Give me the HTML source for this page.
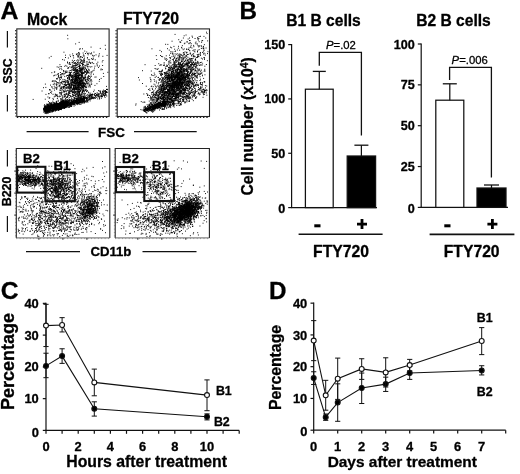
<!DOCTYPE html>
<html><head><meta charset="utf-8"><title>Figure</title>
<style>
html,body{margin:0;padding:0;background:#fff;}
body{width:520px;height:474px;overflow:hidden;}
svg{display:block;will-change:transform;filter:grayscale(1) blur(0.3px);}
svg text{font-family:"Liberation Sans",sans-serif;font-weight:bold;fill:#000;stroke:#000;stroke-width:0.3px;stroke-linejoin:round;}
</style></head><body>
<svg width="520" height="474" viewBox="0 0 520 474">
<rect width="520" height="474" fill="#fff"/>
<rect x="16.8" y="28.9" width="92.3" height="87.6" fill="none" stroke="#222" stroke-width="1.1"/><path d="M15.700000000000001 29.9V116.5" stroke="#222" stroke-width="1.2" stroke-dasharray="1.4 1.9" fill="none"/><path d="M16.8 117.5H109.1" stroke="#222" stroke-width="1.1" stroke-dasharray="1.4 1.9" fill="none"/><path d="M57.3 106.7h.9M64.5 104.0h.9M62.3 105.1h.9M48.6 109.7h.9M50.7 111.8h.9M64.0 105.1h.9M44.2 110.1h.9M63.4 103.1h.9M61.4 106.3h.9M54.9 106.5h.9M50.2 109.8h.9M51.6 108.1h.9M49.4 112.1h.9M52.8 103.0h.9M55.3 106.2h.9M56.4 108.4h.9M67.1 103.4h.9M61.4 103.6h.9M57.9 105.6h.9M66.1 101.4h.9M49.9 108.8h.9M58.4 108.5h.9M45.3 107.1h.9M44.6 107.7h.9M55.7 105.9h.9M54.6 109.2h.9M63.7 102.9h.9M58.8 104.7h.9M54.8 108.6h.9M55.9 108.7h.9M50.3 107.5h.9M44.1 107.2h.9M48.0 105.2h.9M59.3 104.3h.9M48.9 103.7h.9M52.9 109.2h.9M44.1 108.4h.9M63.0 105.9h.9M47.2 113.1h.9M50.3 110.8h.9M62.5 102.4h.9M56.0 108.6h.9M62.9 107.1h.9M58.1 104.5h.9M61.2 103.6h.9M46.5 109.0h.9M54.5 103.3h.9M55.5 109.9h.9M62.4 100.0h.9M52.9 105.3h.9M58.9 105.7h.9M45.0 109.0h.9M52.9 107.9h.9M51.2 108.5h.9M47.7 108.4h.9M62.5 107.3h.9M53.4 103.0h.9M65.0 104.1h.9M58.2 104.9h.9M57.0 106.5h.9M58.5 106.5h.9M59.8 104.0h.9M47.9 107.5h.9M53.4 108.9h.9M49.1 109.1h.9M52.9 106.0h.9M48.2 105.3h.9M59.3 106.5h.9M63.7 106.2h.9M59.1 106.4h.9M47.9 108.6h.9M63.0 103.8h.9M65.4 103.9h.9M64.3 103.5h.9M57.9 108.0h.9M46.2 108.1h.9M49.2 107.7h.9M64.3 102.1h.9M56.3 106.4h.9M47.6 106.8h.9M62.4 104.3h.9M58.1 108.2h.9M56.4 107.2h.9M52.9 108.6h.9M52.5 108.1h.9M50.4 108.5h.9M45.0 109.3h.9M63.2 104.1h.9M54.2 108.6h.9M55.9 104.3h.9M50.7 110.8h.9M60.4 105.5h.9M44.5 108.0h.9M52.4 106.5h.9M43.8 108.1h.9M46.7 109.5h.9M64.8 102.8h.9M58.8 108.3h.9M54.8 105.6h.9M56.2 102.0h.9M63.1 103.3h.9M50.9 103.4h.9M56.4 106.2h.9M58.3 107.9h.9M52.5 109.1h.9M55.2 103.9h.9M61.1 103.8h.9M63.7 108.0h.9M47.5 109.6h.9M65.4 104.4h.9M43.5 112.3h.9M61.5 107.6h.9M47.7 109.3h.9M52.9 108.1h.9M61.4 106.3h.9M43.4 108.4h.9M57.2 103.9h.9M61.9 105.3h.9M57.1 104.8h.9M59.6 105.4h.9M49.8 108.7h.9M51.6 105.8h.9M48.0 108.5h.9M51.8 107.4h.9M64.5 105.1h.9M58.0 108.6h.9M50.6 106.7h.9M50.5 106.4h.9M65.2 101.1h.9M53.7 105.2h.9M65.7 105.1h.9M56.2 106.9h.9M55.8 104.6h.9M64.1 103.9h.9M61.0 105.5h.9M55.8 107.4h.9M54.6 106.0h.9M64.8 104.2h.9M53.9 103.5h.9M65.0 102.2h.9M44.7 113.1h.9M53.7 102.6h.9M55.2 106.0h.9M64.6 104.7h.9M50.4 107.5h.9M61.4 103.5h.9M59.0 105.7h.9M58.8 105.6h.9M58.0 105.9h.9M65.5 100.6h.9M51.2 107.5h.9M52.6 105.6h.9M49.8 107.4h.9M44.4 110.1h.9M48.3 110.0h.9M63.7 106.2h.9M63.3 103.9h.9M47.8 111.2h.9M57.7 108.7h.9M54.4 109.4h.9M57.1 109.2h.9M59.4 105.6h.9M50.5 107.6h.9M66.1 105.8h.9M55.4 104.2h.9M58.1 106.5h.9M58.6 105.0h.9M48.7 107.9h.9M46.3 105.5h.9M52.7 105.5h.9M61.7 105.3h.9M61.9 106.8h.9M59.8 107.5h.9M46.7 109.0h.9M64.0 104.1h.9M61.2 103.5h.9M62.5 105.5h.9M55.2 106.2h.9M65.1 105.6h.9M46.2 113.6h.9M45.0 109.6h.9M45.1 106.3h.9M49.5 106.4h.9M49.7 105.1h.9M48.5 106.0h.9M56.1 109.2h.9M44.2 110.1h.9M57.3 103.2h.9M47.6 110.3h.9M58.5 108.4h.9M44.6 108.9h.9M51.0 106.5h.9M65.3 103.7h.9M56.1 107.2h.9M61.8 106.3h.9M58.8 108.3h.9M57.6 108.7h.9M48.0 111.3h.9M56.7 109.2h.9M45.3 111.1h.9M62.2 102.1h.9M65.9 104.0h.9M61.9 105.4h.9M44.9 108.7h.9M51.5 109.8h.9M51.4 107.1h.9M46.3 107.1h.9M57.7 109.1h.9M62.2 106.5h.9M51.3 108.4h.9M62.4 106.6h.9M62.5 107.2h.9M47.6 109.8h.9M60.7 100.4h.9M64.0 103.3h.9M48.1 107.6h.9M57.6 104.4h.9M58.2 106.5h.9M57.2 108.7h.9M46.0 108.2h.9M58.3 103.6h.9M58.3 110.2h.9M62.4 104.1h.9M61.9 102.7h.9M51.1 108.4h.9M57.9 106.4h.9M63.2 103.4h.9M62.6 106.1h.9M47.9 107.8h.9M45.2 107.6h.9M58.7 106.3h.9M48.7 110.2h.9M56.6 105.2h.9M64.8 104.9h.9M52.3 107.4h.9M53.8 105.6h.9M59.4 108.8h.9M46.3 109.1h.9M53.2 107.3h.9M46.9 110.6h.9M58.9 107.7h.9M62.3 107.4h.9M52.9 108.3h.9M53.0 106.3h.9M56.3 105.5h.9M48.6 109.7h.9M49.2 109.6h.9M52.5 110.9h.9M54.2 108.0h.9M45.7 111.8h.9M61.6 108.4h.9M57.7 106.7h.9M51.2 104.8h.9M45.5 106.7h.9M62.4 102.5h.9M47.3 112.6h.9M47.4 107.1h.9M46.9 111.8h.9M45.0 110.7h.9M63.2 107.8h.9M50.4 110.4h.9M51.3 107.8h.9M62.3 104.5h.9M57.2 106.3h.9M47.5 109.1h.9M53.7 106.1h.9M62.7 104.6h.9M53.1 111.0h.9M60.5 102.2h.9M47.9 109.8h.9M60.7 103.7h.9M60.9 105.6h.9M61.8 106.6h.9M57.0 105.7h.9M52.1 109.3h.9M45.3 105.9h.9M56.3 109.0h.9M61.2 104.2h.9M48.8 110.1h.9M50.2 108.6h.9M56.5 101.3h.9M61.5 103.9h.9M63.2 105.0h.9M46.6 112.6h.9M47.4 109.4h.9M62.7 105.6h.9M59.2 103.1h.9M60.5 108.4h.9M65.2 107.5h.9M64.8 104.4h.9M62.5 104.5h.9M61.3 102.0h.9M52.9 109.3h.9M48.0 110.3h.9M61.4 107.9h.9M61.0 106.4h.9M59.9 103.6h.9M54.0 110.0h.9M52.3 104.9h.9M54.0 106.9h.9M44.5 110.3h.9M62.9 106.6h.9M56.0 107.5h.9M51.9 108.3h.9M56.9 105.0h.9M59.4 103.0h.9M53.1 107.7h.9M62.7 103.6h.9M63.3 101.9h.9M52.3 104.8h.9M46.9 107.9h.9M60.4 101.7h.9M65.1 101.5h.9M47.9 105.3h.9M59.7 106.0h.9M62.5 105.8h.9M64.1 108.3h.9M47.0 105.7h.9M45.6 107.8h.9M65.7 105.8h.9M47.0 108.6h.9M48.1 108.0h.9M56.6 109.9h.9M53.5 106.4h.9M60.8 103.1h.9M48.6 105.8h.9M64.0 105.1h.9M48.5 109.2h.9M61.4 102.6h.9M47.0 107.2h.9M54.5 108.1h.9M44.9 111.0h.9M51.4 106.5h.9M49.6 109.3h.9M60.1 106.7h.9M53.9 103.3h.9M46.1 108.8h.9M65.7 104.8h.9M63.2 103.5h.9M64.1 100.3h.9M49.8 107.7h.9M52.6 109.1h.9M49.2 111.9h.9M46.1 104.2h.9M55.8 104.5h.9M48.0 111.2h.9M48.5 111.5h.9M63.2 106.7h.9M55.7 107.3h.9M48.9 106.1h.9M60.0 107.1h.9M50.8 106.7h.9M55.8 101.4h.9M55.8 108.2h.9M58.3 109.8h.9M56.2 104.7h.9M52.5 110.6h.9M60.3 108.3h.9M62.9 107.7h.9M46.9 108.7h.9M47.2 106.3h.9M46.6 108.8h.9M64.6 99.9h.9M65.2 101.1h.9M49.8 108.6h.9M65.4 102.3h.9M49.8 108.2h.9M56.6 106.6h.9M54.5 110.9h.9M64.8 107.0h.9M45.1 109.5h.9M51.5 110.5h.9M58.0 104.7h.9M45.1 108.7h.9M49.1 110.4h.9M54.0 104.4h.9M63.0 104.1h.9M60.9 102.7h.9M61.5 105.2h.9M60.3 108.6h.9M60.1 104.1h.9M62.8 105.3h.9M59.5 104.0h.9M59.3 103.2h.9M50.4 105.3h.9M47.5 112.1h.9M47.5 109.9h.9M64.9 103.1h.9M57.4 107.7h.9M51.5 107.1h.9M64.7 105.9h.9M48.0 109.5h.9M55.3 107.3h.9M46.8 110.7h.9M65.5 103.1h.9M57.0 105.6h.9M61.9 101.7h.9M50.8 107.2h.9M62.4 102.3h.9M60.2 105.4h.9M58.6 104.1h.9M65.5 104.5h.9M53.9 108.2h.9M54.2 104.3h.9M59.4 104.1h.9M61.3 103.1h.9M52.5 109.4h.9M59.0 109.3h.9M48.1 110.4h.9M56.3 105.8h.9M60.6 108.2h.9M46.7 106.0h.9M60.5 108.5h.9M43.3 108.3h.9M65.4 98.9h.9M54.4 110.7h.9M59.4 103.5h.9M54.5 107.1h.9M60.3 105.1h.9M45.7 109.6h.9M56.4 103.4h.9M55.3 105.1h.9M64.8 105.3h.9M45.8 110.1h.9M53.1 109.7h.9M58.8 106.3h.9M47.1 107.8h.9M57.6 106.8h.9M49.0 104.3h.9M49.2 105.9h.9M63.7 107.3h.9M48.2 106.5h.9M54.7 108.2h.9M60.4 105.3h.9M58.7 103.6h.9M57.7 105.8h.9M61.7 104.1h.9M54.2 106.0h.9M58.1 107.7h.9M61.2 106.3h.9M58.3 104.7h.9M58.1 104.2h.9M52.9 108.0h.9M56.6 106.3h.9M53.7 109.6h.9M53.0 109.3h.9M54.9 107.0h.9M60.2 105.0h.9M55.5 105.0h.9M51.2 105.8h.9M63.0 103.0h.9M52.9 106.7h.9M62.7 104.0h.9M60.6 106.7h.9M54.2 106.3h.9M59.4 105.2h.9M45.1 106.9h.9M52.8 111.0h.9M62.6 105.8h.9M57.6 110.1h.9M57.0 108.2h.9M58.5 108.9h.9M59.8 105.3h.9M56.9 107.8h.9M48.3 106.0h.9M50.3 110.6h.9M50.4 111.8h.9M53.7 108.1h.9M66.9 105.5h.9M52.9 110.5h.9M54.0 105.7h.9M53.4 108.5h.9M57.0 104.5h.9M65.1 103.0h.9M64.2 103.4h.9M52.8 107.3h.9M51.6 108.5h.9M63.7 105.6h.9M54.4 103.8h.9M45.4 112.1h.9M63.0 106.2h.9M49.4 107.1h.9M55.8 106.7h.9M49.1 109.9h.9M54.0 108.2h.9M62.9 101.6h.9M63.4 106.5h.9M61.6 101.5h.9M53.9 109.2h.9M52.3 108.4h.9M56.9 106.3h.9M48.9 111.7h.9M50.4 105.3h.9M60.0 106.0h.9M61.0 108.3h.9M44.8 109.1h.9M60.6 104.6h.9M61.9 105.3h.9M53.1 106.2h.9M44.7 113.1h.9M60.3 103.9h.9M48.8 110.3h.9M58.5 103.4h.9M52.9 109.0h.9M58.7 105.8h.9M49.2 102.5h.9M54.6 107.0h.9M55.9 104.4h.9M58.6 105.2h.9M48.3 112.1h.9M64.5 102.0h.9M51.2 105.7h.9M51.7 111.2h.9M50.1 108.5h.9M45.1 113.0h.9M53.8 108.0h.9M61.2 103.5h.9M60.3 105.5h.9M47.8 111.4h.9M47.2 111.2h.9M51.3 107.9h.9M60.4 105.4h.9M55.2 106.7h.9M64.4 103.3h.9M58.4 110.0h.9M58.2 106.2h.9M60.2 103.0h.9M60.7 104.4h.9M52.1 109.4h.9M50.1 109.7h.9M54.6 106.9h.9M54.3 105.5h.9M46.4 109.0h.9M54.2 103.5h.9M58.6 103.3h.9M48.4 110.9h.9M47.6 107.9h.9M47.5 109.6h.9M51.0 110.8h.9M64.7 105.5h.9M43.6 109.8h.9M48.0 110.4h.9M55.2 106.2h.9M44.6 111.5h.9M55.5 108.0h.9M47.9 106.9h.9M50.9 108.4h.9M61.0 104.8h.9M47.4 104.2h.9M58.7 105.8h.9M54.1 106.8h.9M53.8 106.4h.9M62.3 101.7h.9M47.8 108.0h.9M64.0 104.3h.9M64.7 104.8h.9M59.3 103.5h.9M45.4 111.0h.9M59.1 103.4h.9M58.1 105.8h.9M61.5 108.0h.9M49.4 107.0h.9M64.3 103.3h.9M63.9 106.8h.9M47.9 108.3h.9M50.9 107.3h.9M44.6 110.2h.9M63.0 107.1h.9M64.8 100.1h.9M66.2 102.4h.9M56.8 104.1h.9M59.2 103.6h.9M58.4 104.0h.9M56.3 104.7h.9M65.3 104.9h.9M57.5 104.4h.9M52.2 108.1h.9M57.5 107.6h.9M44.8 108.1h.9M60.6 105.8h.9M59.0 109.1h.9M53.2 108.0h.9M62.2 103.6h.9M60.5 105.2h.9M51.0 105.8h.9M45.4 110.0h.9M46.9 111.0h.9M47.7 106.9h.9M50.1 107.5h.9M53.3 109.6h.9M64.8 103.4h.9M50.4 108.6h.9M64.5 102.5h.9M59.8 104.1h.9M62.7 103.8h.9M43.0 108.9h.9M62.9 104.2h.9M50.4 107.1h.9M47.2 108.6h.9M61.1 106.4h.9M59.6 106.2h.9M47.8 113.1h.9M49.7 108.7h.9M65.2 107.1h.9M50.2 108.8h.9M59.4 106.9h.9M47.6 105.8h.9M61.5 104.8h.9M46.9 109.0h.9M55.3 106.2h.9M44.2 104.7h.9M56.7 108.4h.9M62.2 104.1h.9M47.1 108.3h.9M49.9 107.6h.9M62.2 104.9h.9M57.0 107.1h.9M51.5 105.2h.9M57.4 104.2h.9M53.5 107.7h.9M63.2 105.1h.9M51.1 107.2h.9M60.1 104.2h.9M58.9 104.4h.9M60.0 105.3h.9M52.7 110.1h.9M60.4 103.4h.9M59.9 108.8h.9M51.7 109.3h.9M45.5 108.7h.9M65.6 105.7h.9M59.7 102.7h.9M48.1 104.8h.9M59.3 102.9h.9M49.6 107.3h.9M54.9 106.3h.9M62.8 103.8h.9M53.5 107.4h.9M50.3 103.4h.9M51.9 109.1h.9M45.5 106.2h.9M48.7 107.0h.9M51.0 107.3h.9M48.3 106.2h.9M45.4 106.4h.9M54.2 104.9h.9M48.0 108.5h.9M59.7 106.7h.9M64.1 105.5h.9M50.1 106.0h.9M57.1 104.8h.9M55.8 104.9h.9M45.8 110.4h.9M47.0 104.5h.9M63.0 107.1h.9M53.4 106.0h.9M61.5 103.6h.9M44.9 110.2h.9M57.0 108.4h.9M63.0 105.4h.9M62.4 106.8h.9M43.3 110.2h.9M55.7 109.3h.9M52.5 110.3h.9M60.5 105.2h.9M46.0 112.7h.9M50.0 108.6h.9M61.4 105.2h.9M54.7 105.1h.9M55.4 106.5h.9M64.9 105.7h.9M52.0 105.1h.9M45.7 111.1h.9M53.8 108.2h.9M47.0 109.5h.9M47.1 104.4h.9M56.8 106.2h.9M64.9 105.5h.9M56.9 104.8h.9M58.8 106.2h.9M51.4 102.7h.9M56.7 107.8h.9M61.5 104.1h.9M56.8 108.1h.9M61.2 101.5h.9M56.9 108.0h.9M49.0 108.1h.9M57.7 108.0h.9M54.5 105.0h.9M48.5 107.5h.9M63.2 103.4h.9M46.4 107.4h.9M56.4 106.0h.9M60.2 103.5h.9M52.2 109.9h.9M49.8 112.0h.9M53.2 106.1h.9M55.9 103.0h.9M58.9 108.1h.9M57.1 108.8h.9M47.1 111.0h.9M62.7 107.3h.9M63.9 102.8h.9M46.3 108.8h.9M50.4 105.3h.9M47.6 105.6h.9M62.4 106.8h.9M64.6 103.2h.9M50.9 108.0h.9M46.9 107.2h.9M53.8 108.7h.9M63.7 107.9h.9M45.5 110.5h.9M48.3 106.1h.9M54.9 107.7h.9M55.4 109.6h.9M60.7 104.5h.9M53.3 105.6h.9M47.2 111.3h.9M51.7 108.0h.9M67.2 102.0h.9M61.2 104.6h.9M46.2 107.4h.9M61.3 105.7h.9M50.9 108.2h.9M60.4 107.5h.9M43.7 111.4h.9M62.8 101.7h.9M48.3 109.8h.9M54.1 109.0h.9M58.3 106.8h.9M54.7 109.0h.9M47.1 107.6h.9M47.2 106.9h.9M50.4 110.1h.9M45.8 107.1h.9M48.6 103.8h.9M47.6 111.3h.9M54.7 105.5h.9M52.1 107.0h.9M56.0 103.5h.9M49.7 105.2h.9M45.1 107.0h.9M52.4 107.1h.9M60.9 106.1h.9M50.3 103.3h.9M53.0 109.0h.9M60.6 103.0h.9M52.8 105.1h.9M64.2 106.0h.9M64.5 104.3h.9M51.0 104.6h.9M60.2 109.2h.9M50.2 106.4h.9M47.4 109.5h.9M53.4 107.6h.9M58.5 109.2h.9M64.8 103.5h.9M47.4 111.2h.9M60.8 104.1h.9M55.4 109.3h.9M47.0 107.3h.9M65.7 103.5h.9M58.9 109.5h.9M46.6 109.8h.9M62.7 104.7h.9M45.0 110.1h.9M52.0 106.1h.9M64.2 105.8h.9M44.1 107.0h.9M64.2 106.6h.9M57.9 108.7h.9M45.9 108.1h.9M57.8 105.2h.9M54.6 107.5h.9M57.2 106.5h.9M60.1 103.5h.9M59.6 107.0h.9M66.0 100.1h.9M47.3 107.9h.9M62.0 104.3h.9M53.3 106.8h.9M61.5 105.8h.9M64.0 102.2h.9M65.5 105.2h.9M49.7 107.8h.9M54.7 105.7h.9M63.8 101.7h.9M64.5 102.0h.9M53.4 108.4h.9M63.1 102.5h.9M52.8 107.5h.9M53.0 109.9h.9M59.8 107.4h.9M56.2 110.3h.9M52.6 106.5h.9M53.7 105.2h.9M54.8 109.4h.9M47.8 109.7h.9M45.2 112.0h.9M61.0 105.4h.9M56.2 108.9h.9M59.5 107.6h.9M61.1 106.5h.9M49.1 109.5h.9M50.0 109.3h.9M49.7 108.7h.9M50.7 108.5h.9M61.0 107.3h.9M51.7 106.5h.9M52.1 111.6h.9M58.5 105.8h.9M47.4 110.9h.9M46.4 109.0h.9M59.1 105.2h.9M60.4 109.4h.9M50.8 107.4h.9M57.8 103.5h.9M45.3 108.0h.9M52.8 106.7h.9M49.8 108.8h.9M52.5 109.7h.9M57.3 104.2h.9M56.9 107.1h.9M46.9 110.4h.9M60.1 109.3h.9M46.4 107.8h.9M66.6 105.3h.9M49.4 109.3h.9M50.0 106.1h.9M48.5 108.6h.9M66.1 103.5h.9M50.6 103.0h.9M58.5 107.5h.9M66.4 105.1h.9M64.4 103.4h.9M44.5 106.6h.9M56.6 109.8h.9M57.7 106.8h.9M59.5 107.7h.9M52.4 110.9h.9M51.3 106.7h.9M43.8 111.7h.9M44.4 109.1h.9M55.2 106.4h.9M46.2 109.2h.9M47.9 108.6h.9M51.3 110.2h.9M45.1 109.7h.9M45.1 109.3h.9M64.4 103.9h.9M53.9 107.9h.9M47.7 106.6h.9M59.7 104.6h.9M43.2 109.7h.9M49.8 107.1h.9M65.4 104.0h.9M63.8 103.4h.9M46.4 112.3h.9M51.6 108.9h.9M44.6 109.6h.9M45.1 110.5h.9M47.6 108.9h.9M57.4 106.7h.9M46.9 109.9h.9M47.9 112.0h.9M64.5 104.5h.9M50.9 105.9h.9M45.3 110.9h.9M62.8 103.2h.9M59.3 109.5h.9M55.5 105.9h.9M58.1 106.0h.9M46.1 111.3h.9M48.9 111.0h.9M55.7 104.1h.9M64.0 103.6h.9M62.3 102.3h.9M58.3 106.3h.9M55.6 106.5h.9M44.4 109.0h.9M64.0 103.3h.9M44.2 108.6h.9M46.8 107.4h.9M59.0 106.8h.9M61.3 108.0h.9M61.1 101.4h.9M54.2 106.9h.9M47.9 107.8h.9M43.9 110.8h.9M62.6 103.0h.9M66.7 103.8h.9M49.0 106.1h.9M62.2 106.1h.9M53.3 107.6h.9M51.5 107.6h.9M55.7 107.6h.9M43.4 109.3h.9M54.6 103.9h.9M48.1 109.9h.9M59.2 106.2h.9M55.0 106.5h.9M63.2 106.7h.9M64.2 106.9h.9M51.6 105.6h.9M50.4 106.4h.9M65.3 107.3h.9M55.4 109.8h.9M46.7 107.6h.9M44.1 106.9h.9M64.9 102.8h.9M57.5 105.4h.9M44.4 105.9h.9M55.4 106.8h.9M55.3 104.1h.9M53.6 104.7h.9M64.7 106.0h.9M65.8 103.0h.9M45.4 108.9h.9M48.0 110.3h.9M54.6 109.1h.9M62.5 104.3h.9M58.0 106.2h.9M60.7 103.9h.9M58.0 110.0h.9M48.1 110.0h.9M62.2 102.9h.9M44.1 109.8h.9M59.9 107.1h.9M48.6 109.7h.9M55.1 110.9h.9M65.2 106.8h.9M56.2 105.5h.9M44.9 109.3h.9M53.3 104.5h.9M58.7 106.4h.9M45.2 109.9h.9M45.2 110.0h.9M56.1 102.3h.9M51.9 106.1h.9M56.0 107.1h.9M50.3 105.3h.9M59.0 104.2h.9M48.0 108.0h.9M64.2 105.2h.9M65.3 103.9h.9M54.8 105.0h.9M54.6 108.7h.9M64.2 103.7h.9M49.3 107.0h.9M61.9 102.4h.9M50.8 106.4h.9M59.4 106.9h.9M50.8 104.3h.9M58.8 106.1h.9M64.2 105.8h.9M46.4 108.7h.9M62.2 105.6h.9M56.2 104.3h.9M52.9 110.4h.9M52.4 110.1h.9M46.3 110.0h.9M50.2 104.4h.9M58.1 104.0h.9M46.3 111.5h.9M59.8 109.3h.9M65.7 104.8h.9M65.0 106.5h.9M63.3 103.4h.9M62.1 104.7h.9M47.7 108.8h.9M65.1 105.0h.9M48.1 105.2h.9M63.1 106.6h.9M63.7 107.3h.9M58.5 103.8h.9M55.8 103.9h.9M49.9 109.4h.9M55.7 105.4h.9M52.6 102.9h.9M47.5 110.9h.9M47.3 109.4h.9M61.5 104.2h.9M62.7 108.5h.9M47.2 109.3h.9M44.3 108.1h.9M51.2 108.5h.9M46.3 106.7h.9M49.5 107.0h.9M57.0 107.2h.9M54.0 106.1h.9M52.2 106.3h.9M48.8 112.3h.9M58.7 107.6h.9M51.0 109.8h.9M53.1 108.6h.9M53.8 108.1h.9M64.5 107.4h.9M50.1 108.3h.9M60.4 109.3h.9M51.7 105.9h.9M64.4 104.1h.9M53.0 104.5h.9M54.6 106.1h.9M62.6 105.7h.9M59.8 108.8h.9M46.6 107.8h.9M47.2 109.0h.9M65.5 103.4h.9M44.6 108.0h.9M50.9 105.4h.9M64.9 104.3h.9M43.8 105.8h.9M49.0 109.1h.9M49.1 108.6h.9M45.6 107.8h.9M53.9 104.9h.9M56.9 103.5h.9M51.7 112.0h.9M47.0 106.2h.9M61.9 108.1h.9M61.9 106.3h.9M56.5 105.7h.9M67.2 101.9h.9M80.2 98.6h.9M80.1 100.7h.9M72.2 102.5h.9M79.8 98.8h.9M75.7 101.7h.9M77.6 102.3h.9M67.3 104.1h.9M67.0 101.9h.9M67.1 100.0h.9M82.8 99.5h.9M79.6 100.8h.9M81.7 99.6h.9M79.8 99.7h.9M80.7 99.4h.9M72.2 103.9h.9M78.8 100.7h.9M64.8 104.5h.9M76.0 99.7h.9M63.3 103.8h.9M82.8 99.9h.9M81.9 98.5h.9M65.8 101.9h.9M79.1 100.2h.9M80.5 102.4h.9M63.2 105.3h.9M73.9 104.4h.9M71.0 102.5h.9M77.0 101.1h.9M80.8 97.8h.9M77.6 100.0h.9M67.3 106.6h.9M74.1 102.6h.9M73.9 103.2h.9M61.5 106.5h.9M65.2 104.4h.9M70.5 102.7h.9M66.8 104.4h.9M67.3 105.1h.9M77.5 102.1h.9M82.5 100.4h.9M72.2 102.8h.9M75.8 100.1h.9M78.9 100.3h.9M77.3 99.7h.9M77.1 103.1h.9M61.4 101.2h.9M81.9 99.8h.9M65.4 103.5h.9M73.1 100.3h.9M74.0 101.8h.9M78.6 103.0h.9M68.6 103.2h.9M82.7 100.7h.9M76.1 101.7h.9M80.4 99.7h.9M62.7 104.9h.9M62.3 104.1h.9M75.6 100.6h.9M71.1 103.4h.9M71.6 103.4h.9M69.3 104.7h.9M64.9 104.4h.9M71.5 99.9h.9M67.4 104.7h.9M81.9 99.5h.9M66.1 103.6h.9M83.8 97.2h.9M81.7 99.3h.9M70.7 101.7h.9M79.0 100.7h.9M74.2 99.3h.9M71.7 102.6h.9M79.6 100.7h.9M80.4 98.5h.9M66.6 102.9h.9M81.9 98.5h.9M62.6 106.7h.9M62.5 100.4h.9M72.8 101.8h.9M68.8 100.4h.9M71.5 102.0h.9M72.2 103.9h.9M71.7 101.4h.9M82.3 100.2h.9M82.5 98.5h.9M69.5 106.7h.9M68.1 105.2h.9M77.8 103.3h.9M65.9 101.6h.9M70.7 100.9h.9M78.0 102.9h.9M61.4 104.8h.9M79.1 100.3h.9M79.2 101.5h.9M71.1 100.7h.9M67.8 105.2h.9M74.2 102.1h.9M68.6 104.4h.9M80.6 99.3h.9M74.9 102.7h.9M68.5 102.1h.9M79.8 102.1h.9M75.9 103.6h.9M65.1 106.1h.9M71.5 103.7h.9M71.6 103.5h.9M83.5 95.3h.9M70.5 104.8h.9M72.7 102.1h.9M83.3 99.7h.9M70.9 102.2h.9M80.4 98.1h.9M63.5 103.6h.9M71.1 104.1h.9M65.7 106.7h.9M82.0 99.1h.9M75.0 100.4h.9M65.6 106.6h.9M64.2 103.0h.9M70.8 106.4h.9M63.3 104.7h.9M72.3 100.8h.9M77.9 102.6h.9M69.4 106.5h.9M64.8 101.6h.9M70.6 105.9h.9M66.9 103.7h.9M80.9 102.8h.9M64.4 103.9h.9M78.3 98.3h.9M68.6 104.2h.9M78.3 102.5h.9M79.2 104.2h.9M65.4 107.6h.9M80.2 102.0h.9M83.2 99.3h.9M74.7 101.0h.9M77.1 101.0h.9M68.3 101.8h.9M65.2 103.7h.9M78.2 96.6h.9M79.7 100.7h.9M67.0 104.0h.9M70.8 104.5h.9M76.7 100.7h.9M70.5 104.1h.9M83.0 97.6h.9M79.8 99.6h.9M82.6 96.9h.9M74.6 104.2h.9M78.8 101.8h.9M83.3 97.8h.9M62.9 104.9h.9M75.6 103.5h.9M66.8 105.0h.9M79.0 101.2h.9M67.2 102.3h.9M77.8 99.8h.9M69.7 103.4h.9M75.8 103.0h.9M77.5 99.9h.9M82.2 98.1h.9M81.8 102.0h.9M71.5 101.0h.9M76.3 103.0h.9M67.1 104.6h.9M64.1 106.3h.9M78.5 104.0h.9M82.2 101.1h.9M78.8 102.2h.9M74.5 100.6h.9M76.1 100.4h.9M78.9 102.0h.9M73.6 104.6h.9M70.5 105.6h.9M80.6 104.1h.9M70.0 103.6h.9M81.9 100.3h.9M79.8 102.2h.9M80.4 100.6h.9M79.2 100.3h.9M83.7 97.8h.9M83.3 101.0h.9M73.7 100.4h.9M70.0 103.9h.9M78.4 98.6h.9M83.1 101.4h.9M76.3 99.8h.9M63.2 106.6h.9M62.6 102.0h.9M72.2 101.7h.9M78.5 102.6h.9M81.7 98.7h.9M70.8 103.1h.9M73.0 101.4h.9M74.0 98.2h.9M62.8 105.2h.9M60.9 106.0h.9M72.7 100.2h.9M72.8 103.3h.9M81.0 98.9h.9M65.9 102.3h.9M80.7 100.3h.9M68.4 102.4h.9M73.6 106.1h.9M76.8 98.5h.9M64.4 105.7h.9M84.1 101.3h.9M81.7 96.5h.9M83.2 96.8h.9M62.9 106.3h.9M76.4 100.6h.9M76.3 102.0h.9M81.4 102.0h.9M67.0 103.3h.9M65.5 102.5h.9M79.3 96.0h.9M68.2 104.1h.9M63.6 103.1h.9M64.7 105.3h.9M77.0 101.9h.9M73.6 99.7h.9M77.6 103.8h.9M80.0 102.3h.9M63.1 106.8h.9M82.9 97.9h.9M81.5 99.4h.9M84.0 98.9h.9M78.3 100.0h.9M71.0 101.0h.9M67.1 104.6h.9M82.1 100.3h.9M71.3 103.4h.9M73.6 101.5h.9M76.8 103.3h.9M76.8 101.5h.9M76.3 96.5h.9M76.0 100.5h.9M72.9 102.2h.9M79.1 102.4h.9M70.1 102.4h.9M67.6 103.2h.9M82.6 98.8h.9M80.5 101.4h.9M78.2 100.3h.9M66.0 103.1h.9M62.8 103.5h.9M81.4 100.8h.9M83.3 98.9h.9M68.1 100.6h.9M76.4 102.6h.9M61.2 103.8h.9M69.7 103.6h.9M76.2 101.7h.9M69.4 105.3h.9M80.4 102.3h.9M82.4 99.0h.9M65.0 104.1h.9M77.2 99.0h.9M70.7 106.0h.9M65.7 105.0h.9M69.9 105.7h.9M72.7 101.8h.9M80.4 96.7h.9M78.6 103.3h.9M62.9 105.3h.9M63.0 105.1h.9M83.8 99.5h.9M73.9 103.1h.9M75.1 102.6h.9M70.4 100.3h.9M80.1 102.2h.9M73.6 101.1h.9M73.2 101.0h.9M67.1 106.9h.9M77.9 102.2h.9M65.6 103.3h.9M65.5 101.0h.9M75.6 102.0h.9M79.2 101.3h.9M69.0 103.4h.9M68.9 101.2h.9M64.8 102.9h.9M75.7 99.5h.9M78.0 101.1h.9M64.0 106.0h.9M72.9 103.9h.9M73.2 100.8h.9M64.9 105.0h.9M72.9 103.1h.9M67.3 102.7h.9M65.8 103.8h.9M83.8 102.9h.9M63.8 105.1h.9M70.1 104.8h.9M75.2 100.9h.9M70.1 102.9h.9M62.1 101.8h.9M81.1 100.1h.9M66.7 106.0h.9M71.2 106.5h.9M83.1 101.9h.9M83.0 100.7h.9M82.1 100.0h.9M71.8 101.8h.9M78.0 100.6h.9M80.2 101.3h.9M65.7 102.6h.9M83.6 101.1h.9M64.5 102.8h.9M76.4 98.4h.9M67.3 102.0h.9M67.5 100.9h.9M65.5 101.9h.9M81.9 101.6h.9M64.8 104.1h.9M82.1 100.3h.9M66.1 106.4h.9M69.1 105.6h.9M66.3 103.0h.9M83.4 101.6h.9M63.0 105.4h.9M80.9 100.2h.9M68.2 104.3h.9M83.2 97.4h.9M77.9 99.5h.9M67.5 103.5h.9M72.6 103.3h.9M64.9 103.6h.9M71.4 102.6h.9M62.3 106.9h.9M77.2 103.6h.9M74.4 103.1h.9M68.0 105.9h.9M61.3 104.4h.9M82.3 99.3h.9M64.4 105.1h.9M69.5 102.8h.9M62.6 104.1h.9M70.3 105.9h.9M71.3 102.5h.9M73.8 100.4h.9M69.4 104.2h.9M67.9 107.1h.9M79.2 100.8h.9M67.9 105.8h.9M69.5 102.5h.9M72.5 101.5h.9M68.2 102.4h.9M78.6 100.7h.9M64.3 108.2h.9M68.9 101.2h.9M70.5 105.7h.9M67.6 101.9h.9M80.4 99.9h.9M70.4 104.6h.9M71.0 103.9h.9M72.2 103.0h.9M80.7 97.7h.9M66.5 104.6h.9M80.1 98.7h.9M68.7 103.3h.9M66.1 104.6h.9M79.5 98.7h.9M68.3 102.5h.9M67.3 101.5h.9M63.7 106.6h.9M75.6 101.2h.9M82.3 100.7h.9M81.4 99.0h.9M74.8 100.9h.9M71.8 104.9h.9M84.3 98.0h.9M76.7 98.3h.9M82.0 100.3h.9M76.5 99.3h.9M76.4 100.4h.9M76.9 102.7h.9M65.1 102.9h.9M67.8 105.3h.9M63.1 103.5h.9M82.6 102.2h.9M83.4 101.6h.9M74.4 100.9h.9M64.6 103.9h.9M64.2 102.9h.9M72.6 103.0h.9M69.8 105.0h.9M67.0 101.4h.9M64.7 106.4h.9M76.1 99.2h.9M79.4 99.2h.9M63.0 101.5h.9M68.8 107.2h.9M69.0 103.6h.9M73.9 102.5h.9M75.9 100.5h.9M71.7 104.7h.9M81.2 96.7h.9M70.8 103.0h.9M68.6 107.4h.9M79.0 100.1h.9M79.8 100.3h.9M81.5 101.2h.9M65.8 102.7h.9M65.8 104.1h.9M73.4 104.2h.9M82.7 99.9h.9M75.1 102.2h.9M75.8 101.0h.9M68.0 103.9h.9M83.3 99.5h.9M65.1 106.8h.9M73.7 103.2h.9M76.7 100.9h.9M89.1 96.5h.9M86.9 98.6h.9M97.5 95.9h.9M97.8 93.6h.9M87.5 102.0h.9M95.1 93.6h.9M94.6 95.6h.9M103.8 93.7h.9M84.7 97.4h.9M88.3 99.4h.9M97.4 96.9h.9M83.2 99.5h.9M104.6 97.4h.9M107.2 92.3h.9M90.0 98.1h.9M102.5 91.7h.9M88.9 95.0h.9M86.3 97.9h.9M82.0 99.4h.9M84.4 101.1h.9M93.2 91.6h.9M82.8 97.9h.9M99.2 97.8h.9M96.2 94.3h.9M99.1 93.9h.9M93.6 94.6h.9M105.5 94.9h.9M100.7 93.4h.9M93.3 97.1h.9M88.8 94.0h.9M85.4 101.3h.9M90.6 98.4h.9M91.2 98.4h.9M85.2 101.9h.9M105.8 92.1h.9M87.2 97.8h.9M95.8 97.2h.9M83.9 100.5h.9M96.6 95.2h.9M98.8 95.0h.9M83.6 98.7h.9M85.8 100.7h.9M89.2 98.1h.9M101.0 98.2h.9M90.0 94.4h.9M105.6 92.4h.9M86.7 101.6h.9M89.6 96.8h.9M100.2 91.0h.9M104.1 96.2h.9M105.4 94.1h.9M89.4 95.6h.9M95.5 97.4h.9M94.0 94.8h.9M99.4 91.7h.9M87.8 98.1h.9M103.2 92.2h.9M100.1 91.9h.9M86.9 98.1h.9M90.5 95.7h.9M90.7 97.6h.9M105.7 92.4h.9M94.3 98.0h.9M97.0 94.2h.9M106.0 89.5h.9M92.1 94.3h.9M106.1 91.8h.9M89.7 100.9h.9M81.9 101.7h.9M84.2 98.3h.9M101.1 96.5h.9M92.3 94.8h.9M104.4 95.5h.9M95.9 95.0h.9M100.4 96.2h.9M91.6 98.6h.9M98.0 94.8h.9M101.6 95.1h.9M91.7 95.0h.9M94.9 96.0h.9M103.9 95.6h.9M90.3 98.8h.9M83.7 99.9h.9M104.3 91.0h.9M93.3 98.7h.9M102.6 92.1h.9M91.3 97.9h.9M105.0 90.5h.9M97.3 98.9h.9M100.8 96.7h.9M104.4 91.6h.9M98.0 94.3h.9M106.5 89.3h.9M92.1 94.2h.9M91.9 98.0h.9M98.3 96.3h.9M93.2 97.6h.9M100.9 94.9h.9M96.5 94.7h.9M101.7 94.8h.9M103.0 90.1h.9M96.7 95.6h.9M106.3 96.0h.9M102.1 96.6h.9M106.0 92.1h.9M82.4 99.5h.9M82.0 102.7h.9M99.2 98.8h.9M91.1 94.6h.9M104.7 92.0h.9M92.0 97.5h.9M101.6 96.7h.9M88.9 96.6h.9M98.8 96.4h.9M105.2 92.1h.9M92.0 98.1h.9M95.0 96.0h.9M94.1 95.1h.9M90.4 99.5h.9M94.1 97.6h.9M106.9 89.7h.9M105.0 93.4h.9M90.7 95.0h.9M100.2 92.9h.9M106.6 89.4h.9M91.4 94.6h.9M105.1 91.6h.9M102.4 91.4h.9M105.2 94.0h.9M85.1 101.1h.9M106.2 92.0h.9M106.3 89.5h.9M88.5 99.8h.9M98.2 90.7h.9M84.3 96.0h.9M98.3 96.8h.9M100.7 95.8h.9M101.2 96.2h.9M104.8 92.6h.9M89.9 95.4h.9M85.1 98.4h.9M103.4 94.7h.9M82.8 98.7h.9M87.9 97.0h.9M87.9 95.6h.9M102.2 91.2h.9M92.9 98.3h.9M103.0 94.3h.9M100.1 92.2h.9M103.8 90.8h.9M102.4 92.5h.9M104.8 94.1h.9M89.2 95.7h.9M91.3 97.0h.9M98.4 90.5h.9M96.7 92.8h.9M102.8 94.7h.9M102.6 95.5h.9M90.6 95.5h.9M84.0 97.9h.9M100.6 95.8h.9M100.5 93.7h.9M89.1 96.9h.9M83.1 100.8h.9M82.8 100.5h.9M87.8 100.4h.9M89.2 99.6h.9M86.1 97.5h.9M83.0 99.7h.9M86.0 98.8h.9M91.4 94.7h.9M84.9 97.7h.9M86.9 100.4h.9M94.4 93.4h.9M103.7 95.4h.9M103.4 93.6h.9M91.1 96.6h.9M86.2 100.3h.9M88.9 99.0h.9M99.2 97.2h.9M92.1 96.1h.9M96.2 95.0h.9M102.0 93.6h.9M99.1 98.8h.9M105.4 95.2h.9M84.1 97.9h.9M88.3 97.2h.9M83.4 98.8h.9M95.3 96.0h.9M97.8 95.6h.9M83.3 96.5h.9M94.8 98.5h.9M86.4 99.7h.9M81.3 73.0h.9M85.1 75.0h.9M77.7 92.6h.9M80.6 88.7h.9M83.1 78.6h.9M81.5 79.1h.9M79.2 70.6h.9M73.4 86.0h.9M75.4 76.6h.9M73.6 89.7h.9M86.0 87.1h.9M69.0 85.1h.9M83.6 83.4h.9M84.3 78.7h.9M79.9 88.8h.9M75.4 78.4h.9M78.6 78.7h.9M80.0 87.8h.9M78.6 78.2h.9M68.9 85.5h.9M74.2 72.5h.9M76.7 79.2h.9M73.5 78.4h.9M79.1 89.5h.9M79.3 62.8h.9M88.2 69.3h.9M76.2 76.3h.9M76.9 82.6h.9M86.6 81.5h.9M82.5 84.6h.9M72.0 94.3h.9M80.6 101.3h.9M72.7 92.4h.9M79.8 91.2h.9M90.9 76.3h.9M76.4 88.1h.9M82.9 84.3h.9M80.5 94.9h.9M85.2 96.2h.9M76.3 67.4h.9M79.3 71.0h.9M80.6 98.5h.9M77.2 69.6h.9M74.5 93.4h.9M79.8 80.7h.9M83.6 61.1h.9M81.0 85.9h.9M74.6 70.2h.9M79.9 75.0h.9M78.7 82.6h.9M83.9 102.8h.9M75.0 73.3h.9M75.1 101.4h.9M85.8 98.1h.9M77.0 75.4h.9M73.3 82.4h.9M76.6 70.4h.9M75.0 91.4h.9M75.7 79.2h.9M87.2 66.5h.9M76.2 54.6h.9M70.1 87.7h.9M84.5 89.1h.9M79.8 71.9h.9M81.6 69.1h.9M79.2 82.8h.9M79.7 97.6h.9M80.6 97.4h.9M80.4 68.0h.9M69.9 86.9h.9M77.5 97.1h.9M72.9 85.7h.9M79.7 82.7h.9M78.8 78.0h.9M87.0 57.8h.9M67.0 68.2h.9M74.2 70.4h.9M72.7 87.7h.9M72.7 84.7h.9M71.2 103.9h.9M72.4 89.0h.9M81.4 88.6h.9M73.0 63.0h.9M70.7 67.8h.9M73.4 73.0h.9M79.6 65.1h.9M70.5 87.5h.9M78.5 75.3h.9M74.4 78.8h.9M82.1 91.3h.9M76.4 89.4h.9M77.7 77.0h.9M72.8 95.0h.9M78.0 86.2h.9M77.3 73.5h.9M76.2 63.4h.9M91.9 59.5h.9M83.7 99.3h.9M83.3 85.4h.9M82.7 96.6h.9M72.4 91.8h.9M74.8 86.3h.9M72.6 67.6h.9M83.5 86.8h.9M88.5 66.4h.9M74.9 98.3h.9M77.9 76.2h.9M75.2 92.7h.9M80.7 68.9h.9M80.2 57.8h.9M78.9 94.9h.9M80.1 90.7h.9M78.3 89.9h.9M77.4 71.9h.9M84.9 81.1h.9M79.1 100.3h.9M74.6 72.6h.9M85.7 79.8h.9M77.5 85.3h.9M83.4 73.0h.9M77.5 84.8h.9M87.1 83.3h.9M87.3 80.2h.9M77.4 95.8h.9M76.7 91.6h.9M77.1 71.9h.9M81.4 71.2h.9M81.1 81.9h.9M60.4 90.0h.9M68.0 84.5h.9M73.1 83.1h.9M85.4 83.2h.9M80.3 61.9h.9M67.7 80.0h.9M77.7 89.0h.9M74.4 75.4h.9M74.2 60.5h.9M76.2 77.2h.9M72.3 80.2h.9M75.0 87.6h.9M74.5 65.6h.9M82.9 77.4h.9M75.8 87.0h.9M79.2 81.8h.9M73.2 104.7h.9M81.6 87.1h.9M79.7 70.6h.9M75.3 83.2h.9M83.2 88.4h.9M76.2 94.4h.9M90.7 84.5h.9M80.0 68.9h.9M78.2 91.8h.9M78.5 89.1h.9M84.5 90.6h.9M79.2 79.0h.9M75.8 80.7h.9M71.8 80.9h.9M86.8 90.6h.9M83.7 101.5h.9M87.0 70.9h.9M78.2 73.3h.9M70.8 102.4h.9M78.9 91.3h.9M73.3 79.5h.9M75.2 86.2h.9M83.9 93.9h.9M76.2 65.5h.9M71.8 77.4h.9M79.3 68.7h.9M69.1 78.6h.9M81.2 75.5h.9M73.8 67.3h.9M84.1 100.2h.9M71.8 62.4h.9M71.2 85.4h.9M75.7 78.4h.9M63.8 87.1h.9M72.9 55.8h.9M76.4 93.1h.9M81.9 62.0h.9M76.2 89.6h.9M80.6 77.8h.9M78.0 95.5h.9M77.4 87.6h.9M73.3 76.8h.9M76.2 84.3h.9M83.2 79.0h.9M82.4 87.4h.9M82.2 63.6h.9M74.0 74.4h.9M85.2 72.1h.9M73.5 90.8h.9M78.9 68.4h.9M87.4 76.8h.9M69.1 64.1h.9M78.2 78.6h.9M82.0 83.3h.9M74.7 105.2h.9M68.8 74.6h.9M82.5 84.6h.9M84.6 78.9h.9M86.2 82.4h.9M72.0 85.0h.9M70.1 73.7h.9M80.7 61.6h.9M88.0 92.2h.9M76.7 80.8h.9M84.2 69.1h.9M74.5 85.8h.9M80.6 89.6h.9M83.4 60.3h.9M75.8 82.9h.9M87.8 77.3h.9M86.9 99.8h.9M75.2 68.1h.9M70.8 91.5h.9M68.7 72.6h.9M82.5 103.2h.9M78.9 86.8h.9M76.1 76.6h.9M73.7 88.3h.9M74.4 95.4h.9M85.7 71.9h.9M81.1 80.0h.9M66.0 76.0h.9M70.3 87.3h.9M68.8 93.4h.9M81.0 60.2h.9M78.3 86.4h.9M83.7 67.8h.9M76.5 64.5h.9M76.5 72.3h.9M73.9 91.1h.9M81.4 88.2h.9M72.9 61.4h.9M75.0 76.9h.9M67.2 84.4h.9M81.5 90.0h.9M70.6 79.1h.9M75.1 81.4h.9M77.1 88.0h.9M75.1 89.7h.9M64.4 97.3h.9M81.4 70.0h.9M83.1 64.4h.9M79.4 67.5h.9M76.2 70.8h.9M77.3 83.5h.9M90.0 77.8h.9M72.7 81.3h.9M81.8 92.4h.9M86.9 96.2h.9M84.4 71.1h.9M77.2 94.6h.9M61.4 83.3h.9M88.2 75.5h.9M76.3 60.8h.9M80.9 85.0h.9M67.2 99.7h.9M82.7 82.3h.9M78.7 66.4h.9M63.4 86.8h.9M80.2 80.1h.9M77.9 77.9h.9M80.0 70.4h.9M76.5 77.8h.9M82.3 80.8h.9M71.3 83.8h.9M80.7 80.1h.9M84.6 76.5h.9M72.0 90.1h.9M88.6 85.8h.9M76.6 99.4h.9M73.7 91.6h.9M82.1 65.0h.9M80.6 84.5h.9M79.8 81.3h.9M80.9 75.8h.9M77.1 91.1h.9M67.8 90.3h.9M86.4 72.9h.9M78.1 101.8h.9M71.2 79.9h.9M82.0 85.9h.9M82.1 64.7h.9M80.1 87.3h.9M81.8 68.7h.9M87.2 64.8h.9M71.6 82.7h.9M83.3 97.4h.9M90.5 74.8h.9M80.4 70.1h.9M64.8 94.3h.9M76.9 93.0h.9M72.1 81.0h.9M71.7 84.9h.9M76.2 70.2h.9M87.4 67.9h.9M74.8 66.0h.9M78.2 77.9h.9M81.9 90.9h.9M76.1 77.9h.9M82.5 82.2h.9M74.7 89.3h.9M91.2 58.6h.9M78.8 92.5h.9M74.9 85.2h.9M76.9 69.9h.9M74.7 78.7h.9M77.3 64.6h.9M74.9 88.0h.9M66.7 81.1h.9M77.5 79.1h.9M69.4 66.8h.9M73.3 86.0h.9M75.4 87.0h.9M75.7 88.5h.9M78.6 64.2h.9M81.8 77.9h.9M76.2 76.2h.9M83.8 91.8h.9M83.1 90.6h.9M81.9 87.0h.9M79.6 91.7h.9M78.7 82.3h.9M76.2 78.7h.9M79.4 81.2h.9M68.0 67.8h.9M69.0 84.4h.9M78.6 84.5h.9M86.3 95.3h.9M74.7 85.5h.9M74.5 67.7h.9M66.7 81.3h.9M77.9 82.4h.9M75.7 88.8h.9M73.9 82.4h.9M68.7 75.6h.9M86.4 83.4h.9M79.9 83.5h.9M86.5 70.7h.9M82.9 73.0h.9M72.7 82.4h.9M77.4 93.3h.9M80.3 83.7h.9M75.9 81.1h.9M75.5 86.7h.9M74.3 82.0h.9M75.4 64.1h.9M78.4 75.8h.9M67.9 94.5h.9M65.8 82.2h.9M76.0 69.3h.9M69.5 55.0h.9M78.3 83.3h.9M73.7 79.9h.9M87.8 72.2h.9M75.5 88.4h.9M78.0 95.3h.9M78.8 89.0h.9M84.0 70.0h.9M72.4 83.0h.9M83.8 73.1h.9M78.5 77.3h.9M78.2 89.1h.9M82.6 64.2h.9M82.1 92.6h.9M78.8 100.2h.9M86.1 91.0h.9M87.7 78.7h.9M81.0 101.7h.9M81.3 102.9h.9M84.8 71.8h.9M80.0 85.4h.9M85.3 83.7h.9M73.8 87.6h.9M81.6 87.3h.9M76.1 73.0h.9M75.0 76.9h.9M83.3 85.9h.9M83.5 93.6h.9M75.0 96.7h.9M79.3 89.6h.9M75.6 79.9h.9M76.9 75.6h.9M81.7 67.5h.9M78.6 81.3h.9M81.7 85.6h.9M77.8 74.7h.9M67.0 62.3h.9M87.8 59.7h.9M81.9 60.7h.9M74.5 98.3h.9M86.9 100.9h.9M90.3 93.2h.9M73.6 88.4h.9M75.2 87.4h.9M72.0 66.1h.9M74.4 81.1h.9M76.6 83.1h.9M71.7 76.5h.9M75.0 65.1h.9M89.2 85.7h.9M87.3 94.4h.9M77.3 87.2h.9M79.0 66.5h.9M78.0 56.9h.9M78.7 100.5h.9M75.2 94.6h.9M76.5 65.7h.9M85.0 77.6h.9M72.7 104.2h.9M77.6 77.6h.9M71.6 77.3h.9M80.0 83.0h.9M71.3 85.8h.9M68.7 79.9h.9M71.9 92.0h.9M75.9 78.5h.9M72.8 74.8h.9M88.8 62.1h.9M79.4 84.9h.9M77.9 88.2h.9M80.0 95.7h.9M76.5 85.4h.9M84.3 85.5h.9M78.9 58.0h.9M76.8 77.0h.9M83.5 59.4h.9M77.5 72.1h.9M69.4 75.5h.9M68.4 76.1h.9M77.1 70.9h.9M78.5 81.9h.9M89.9 81.0h.9M71.2 86.5h.9M75.0 74.6h.9M75.0 79.6h.9M87.8 72.6h.9M76.3 82.3h.9M77.2 78.9h.9M79.8 98.1h.9M60.4 93.8h.9M83.7 86.0h.9M76.9 104.6h.9M82.6 62.4h.9M68.8 74.4h.9M84.4 75.2h.9M81.3 96.0h.9M92.6 70.7h.9M78.6 68.5h.9M86.4 65.8h.9M82.7 87.4h.9M77.7 83.0h.9M67.8 83.3h.9M82.5 93.7h.9M78.4 77.5h.9M86.5 85.9h.9M78.1 87.0h.9M70.4 75.6h.9M79.0 75.2h.9M78.8 79.1h.9M80.1 90.7h.9M81.6 85.4h.9M77.9 84.2h.9M68.5 86.9h.9M70.3 96.0h.9M77.7 91.7h.9M77.6 94.8h.9M84.8 71.6h.9M78.7 84.2h.9M83.6 83.4h.9M78.9 91.6h.9M77.1 64.1h.9M88.0 83.9h.9M77.5 86.5h.9M76.8 95.8h.9M79.1 81.9h.9M84.5 65.2h.9M76.4 86.9h.9M80.2 69.1h.9M73.8 98.0h.9M81.3 70.1h.9M67.3 63.1h.9M74.8 76.8h.9M75.5 78.8h.9M76.8 85.9h.9M76.2 75.1h.9M83.1 89.8h.9M81.4 92.8h.9M75.2 43.9h.9M79.6 78.6h.9M87.2 64.1h.9M74.7 85.5h.9M76.3 84.0h.9M81.6 73.6h.9M70.9 76.5h.9M78.1 74.9h.9M85.9 70.2h.9M88.6 70.3h.9M72.5 92.2h.9M84.6 84.1h.9M71.9 79.6h.9M89.1 84.2h.9M82.4 65.3h.9M77.7 82.3h.9M76.8 77.7h.9M80.8 94.4h.9M87.5 71.4h.9M82.9 67.6h.9M84.7 84.8h.9M83.8 86.8h.9M83.7 82.4h.9M89.8 87.0h.9M85.3 74.7h.9M79.0 87.7h.9M81.2 76.0h.9M71.9 65.0h.9M69.4 90.0h.9M75.8 98.8h.9M78.6 85.3h.9M76.5 87.1h.9M77.9 78.1h.9M83.8 94.8h.9M79.4 97.2h.9M69.3 79.5h.9M82.5 90.1h.9M83.0 78.0h.9M78.0 97.2h.9M79.3 94.7h.9M77.0 62.3h.9M81.5 77.9h.9M76.6 72.3h.9M78.8 71.3h.9M83.6 83.5h.9M78.7 91.6h.9M78.8 85.2h.9M86.7 84.2h.9M79.2 53.8h.9M84.3 86.4h.9M81.0 69.9h.9M75.3 92.2h.9M77.8 60.3h.9M82.8 68.8h.9M88.7 73.2h.9M73.9 83.8h.9M72.8 76.2h.9M86.2 87.4h.9M83.6 80.2h.9M80.7 71.7h.9M83.9 97.0h.9M71.9 60.3h.9M84.3 71.5h.9M77.8 77.4h.9M78.5 90.6h.9M76.5 84.9h.9M73.3 95.1h.9M75.3 101.5h.9M82.5 73.4h.9M67.2 86.9h.9M70.8 84.5h.9M83.2 73.1h.9M80.9 72.6h.9M89.2 78.7h.9M72.0 80.9h.9M74.2 69.4h.9M78.2 83.8h.9M78.6 93.5h.9M80.0 83.9h.9M80.0 80.9h.9M82.0 91.6h.9M69.1 75.4h.9M80.4 73.1h.9M77.5 53.5h.9M74.9 87.2h.9M88.7 70.0h.9M75.9 98.1h.9M84.4 97.9h.9M93.7 70.1h.9M77.5 71.3h.9M79.5 69.6h.9M79.2 67.1h.9M78.7 94.7h.9M86.9 79.6h.9M84.2 72.2h.9M79.6 78.7h.9M78.9 82.5h.9M74.0 81.2h.9M81.0 75.7h.9M72.0 80.5h.9M74.9 73.7h.9M79.2 81.5h.9M74.6 82.9h.9M70.7 81.8h.9M79.9 48.8h.9M74.2 62.7h.9M82.5 68.3h.9M80.5 68.1h.9M71.8 75.9h.9M81.8 63.9h.9M82.1 86.5h.9M78.3 103.0h.9M77.2 85.0h.9M76.1 82.9h.9M89.6 72.1h.9M80.8 60.4h.9M78.6 86.8h.9M77.7 70.6h.9M72.5 76.0h.9M75.9 81.0h.9M82.2 75.5h.9M81.2 69.5h.9M80.8 74.7h.9M79.3 82.4h.9M74.5 70.0h.9M79.5 71.7h.9M83.3 90.4h.9M78.8 75.7h.9M67.0 62.1h.9M75.0 71.3h.9M69.4 63.0h.9M73.2 87.2h.9M91.8 62.9h.9M76.1 83.2h.9M73.3 88.8h.9M68.4 99.0h.9M78.1 66.3h.9M86.1 73.0h.9M75.0 62.6h.9M80.8 84.1h.9M79.0 92.8h.9M82.4 83.5h.9M76.5 77.4h.9M74.7 75.6h.9M75.6 68.0h.9M81.0 63.5h.9M90.2 63.5h.9M82.6 100.9h.9M74.8 78.4h.9M77.9 95.1h.9M73.5 87.2h.9M72.7 92.9h.9M68.3 81.6h.9M81.0 73.6h.9M75.7 75.6h.9M76.8 89.9h.9M63.8 94.3h.9M80.1 87.6h.9M71.8 62.8h.9M71.3 90.6h.9M81.5 73.8h.9M80.6 77.2h.9M80.0 71.0h.9M78.8 93.4h.9M82.8 56.0h.9M72.8 81.2h.9M67.3 96.2h.9M73.0 102.1h.9M76.4 98.9h.9M79.2 65.7h.9M80.5 84.8h.9M72.1 92.7h.9M81.4 86.7h.9M72.8 77.4h.9M82.5 70.2h.9M72.7 89.7h.9M85.4 65.9h.9M79.7 63.1h.9M68.8 71.0h.9M76.6 82.2h.9M89.1 98.1h.9M83.4 79.0h.9M74.2 92.6h.9M87.1 71.5h.9M77.9 76.7h.9M77.2 77.5h.9M82.2 74.2h.9M74.8 95.1h.9M79.0 65.1h.9M75.3 63.6h.9M89.5 95.7h.9M71.7 84.8h.9M65.0 89.0h.9M86.5 73.4h.9M69.7 88.9h.9M83.6 62.1h.9M74.5 80.1h.9M74.3 85.4h.9M83.5 59.1h.9M72.7 73.1h.9M80.0 65.7h.9M81.7 71.8h.9M83.8 78.1h.9M74.5 76.2h.9M73.2 57.9h.9M93.8 90.1h.9M73.0 66.2h.9M80.1 84.9h.9M78.6 73.1h.9M77.3 62.4h.9M86.0 91.7h.9M76.4 78.8h.9M83.4 86.4h.9M73.3 86.2h.9M82.7 85.3h.9M71.0 72.3h.9M79.4 86.8h.9M77.5 91.9h.9M75.8 73.3h.9M73.3 68.8h.9M75.5 74.3h.9M70.3 93.2h.9M74.6 80.1h.9M78.1 98.0h.9M82.4 76.9h.9M75.1 81.5h.9M80.5 98.7h.9M82.8 101.1h.9M77.9 89.8h.9M82.4 68.8h.9M81.4 82.0h.9M74.0 80.6h.9M82.3 69.7h.9M75.3 95.6h.9M85.0 86.6h.9M76.5 71.3h.9M85.0 68.6h.9M75.1 83.8h.9M78.0 62.0h.9M75.5 92.3h.9M81.6 76.4h.9M79.0 67.0h.9M73.2 87.6h.9M79.7 71.6h.9M76.6 79.8h.9M78.9 83.5h.9M74.9 70.3h.9M83.6 86.5h.9M72.3 96.2h.9M81.2 93.8h.9M80.5 80.9h.9M86.9 91.1h.9M81.8 69.2h.9M76.8 79.4h.9M81.5 94.4h.9M77.0 69.4h.9M70.0 83.2h.9M76.8 90.9h.9M79.5 83.1h.9M76.8 101.7h.9M87.5 77.6h.9M75.4 75.2h.9M84.7 65.7h.9M80.2 84.4h.9M77.0 83.0h.9M74.2 71.9h.9M78.2 86.1h.9M72.6 99.5h.9M72.7 75.3h.9M70.2 96.4h.9M85.1 90.4h.9M81.9 79.8h.9M77.3 56.9h.9M80.0 62.4h.9M73.7 81.0h.9M79.1 92.0h.9M75.5 75.1h.9M81.4 70.3h.9M48.0 101.6h.9M63.2 86.3h.9M67.0 96.0h.9M59.9 72.5h.9M83.2 87.9h.9M77.0 87.1h.9M61.4 69.7h.9M69.2 91.6h.9M72.7 77.8h.9M64.0 84.8h.9M66.2 87.7h.9M89.1 62.1h.9M69.6 74.8h.9M63.8 86.5h.9M73.7 97.4h.9M58.5 77.6h.9M83.0 84.1h.9M67.0 78.3h.9M74.8 87.8h.9M72.9 92.1h.9M75.4 76.1h.9M72.5 83.1h.9M86.2 64.1h.9M91.4 81.2h.9M60.4 90.5h.9M61.2 93.7h.9M59.1 86.1h.9M78.7 82.9h.9M55.6 102.6h.9M81.0 73.2h.9M77.4 75.7h.9M74.5 80.2h.9M69.1 100.7h.9M68.4 88.3h.9M70.4 87.7h.9M65.8 91.3h.9M57.1 82.6h.9M76.2 104.0h.9M59.1 78.9h.9M57.0 96.8h.9M93.8 55.7h.9M68.2 93.9h.9M64.6 101.5h.9M55.6 75.0h.9M81.0 76.2h.9M57.7 86.1h.9M78.9 82.8h.9M72.7 55.6h.9M74.2 85.1h.9M58.3 67.3h.9M61.0 78.0h.9M64.4 91.5h.9M72.8 92.2h.9M80.7 85.8h.9M63.0 100.2h.9M55.1 94.8h.9M64.8 96.3h.9M78.2 75.8h.9M71.0 77.4h.9M77.3 93.1h.9M74.0 83.5h.9M83.5 72.3h.9M66.6 101.8h.9M62.9 87.2h.9M78.0 75.9h.9M72.9 65.4h.9M56.2 89.3h.9M45.5 94.4h.9M58.7 82.8h.9M61.7 81.2h.9M69.1 85.3h.9M77.9 84.6h.9M53.8 96.8h.9M63.8 94.9h.9M86.2 98.9h.9M83.8 60.8h.9M83.4 66.5h.9M80.3 100.1h.9M56.6 95.6h.9M78.3 100.6h.9M70.5 88.8h.9M55.7 81.5h.9M79.6 80.0h.9M59.5 85.5h.9M72.3 81.9h.9M76.7 88.6h.9M70.8 87.8h.9M74.9 65.8h.9M56.6 79.2h.9M63.6 84.4h.9M81.8 81.9h.9M70.1 74.0h.9M76.5 79.6h.9M32.7 99.4h.9M69.0 84.1h.9M60.0 92.7h.9M100.5 69.9h.9M79.2 74.8h.9M74.2 65.8h.9M80.7 86.1h.9M59.3 90.1h.9M63.7 88.2h.9M70.7 87.7h.9M61.0 87.9h.9M73.2 85.7h.9M64.1 81.6h.9M52.9 99.4h.9M65.7 94.1h.9M44.9 84.1h.9M51.9 104.1h.9M81.7 74.4h.9M55.3 110.4h.9M77.5 70.8h.9M49.5 89.9h.9M70.0 82.0h.9M50.4 104.7h.9M54.8 94.1h.9M84.3 83.9h.9M53.1 81.0h.9M69.7 95.6h.9M77.2 80.9h.9M64.9 85.1h.9M70.7 75.8h.9M63.4 74.8h.9M60.3 76.0h.9M69.3 85.7h.9M85.2 80.7h.9M90.9 80.0h.9M68.3 87.3h.9M75.5 79.7h.9M62.8 102.2h.9M69.3 77.4h.9M78.1 85.0h.9M47.5 97.0h.9M67.8 83.1h.9M79.6 80.6h.9M56.0 82.1h.9M87.6 82.7h.9M71.6 91.7h.9M72.0 78.3h.9M63.2 86.9h.9M79.8 74.8h.9M55.8 87.9h.9M66.7 99.9h.9M77.8 77.2h.9M75.4 88.9h.9M55.8 84.0h.9M89.0 78.7h.9M72.5 89.1h.9M78.6 98.0h.9M88.2 80.5h.9M82.5 82.0h.9M49.7 90.0h.9M65.2 87.7h.9M73.3 82.9h.9M72.5 69.5h.9M71.0 96.9h.9M65.0 71.2h.9M60.3 82.7h.9M77.1 81.3h.9M89.8 85.9h.9M72.2 89.2h.9M72.7 70.1h.9M79.0 79.6h.9M70.7 81.2h.9M69.5 89.8h.9M56.9 98.5h.9M78.8 75.7h.9M54.6 96.1h.9M67.6 83.8h.9M69.0 90.9h.9M75.6 76.3h.9M70.4 101.1h.9M69.0 99.5h.9M70.7 80.1h.9M54.7 87.3h.9M58.0 73.7h.9M68.7 77.6h.9M84.5 77.4h.9M74.0 76.2h.9M67.5 78.6h.9M55.4 96.1h.9M59.8 79.5h.9M72.2 79.0h.9M69.0 79.0h.9M80.3 96.2h.9M70.7 83.4h.9M91.5 97.0h.9M61.1 104.3h.9M59.8 87.9h.9M73.3 85.3h.9M63.6 81.5h.9M80.6 81.2h.9M53.3 75.8h.9M78.7 94.0h.9M77.5 80.8h.9M88.3 76.6h.9M71.0 67.3h.9M89.7 96.8h.9M66.8 72.1h.9M68.3 91.3h.9M48.0 93.7h.9M81.5 68.4h.9M69.9 91.3h.9M51.2 86.9h.9M76.4 76.9h.9M67.0 96.4h.9M66.9 75.4h.9M69.9 99.7h.9M47.0 110.3h.9M48.7 93.7h.9M70.3 76.3h.9M68.2 75.8h.9M74.6 80.0h.9M78.8 85.2h.9M71.2 84.7h.9M60.6 101.5h.9M69.1 86.9h.9M74.0 89.6h.9M85.1 84.8h.9M65.7 107.4h.9M63.5 71.3h.9M75.2 82.3h.9M62.5 92.3h.9M83.6 91.8h.9M83.5 85.6h.9M53.8 86.2h.9M64.4 84.8h.9M65.4 65.4h.9M86.3 73.1h.9M75.6 83.5h.9M77.0 73.5h.9M62.0 73.7h.9M87.3 72.3h.9M62.8 81.3h.9M76.0 88.6h.9M49.3 97.6h.9M80.2 104.1h.9M80.2 95.0h.9M101.9 69.6h.9M57.5 74.2h.9M71.4 99.3h.9M69.0 104.3h.9M65.6 80.8h.9M74.1 80.9h.9M63.8 86.5h.9M76.3 91.3h.9M83.9 102.4h.9M44.8 99.2h.9M66.1 72.2h.9M83.9 77.7h.9M71.4 69.8h.9M78.3 87.8h.9M71.0 80.0h.9M66.3 97.1h.9M73.4 95.6h.9M80.4 77.2h.9M82.9 85.7h.9M56.5 87.0h.9M51.3 91.3h.9M62.3 98.0h.9M69.9 70.5h.9M72.9 82.5h.9M80.3 82.1h.9M82.0 72.1h.9M57.4 74.2h.9M59.1 80.9h.9M86.9 57.9h.9M78.8 88.8h.9M84.9 89.8h.9M66.3 105.9h.9M62.1 100.3h.9M79.7 84.1h.9M64.2 96.2h.9M61.6 73.7h.9M67.4 94.1h.9M82.0 73.6h.9M63.8 91.8h.9M69.3 97.6h.9M80.6 69.5h.9M73.0 95.7h.9M45.4 87.4h.9M76.1 89.2h.9M75.7 74.3h.9M85.0 80.4h.9M89.8 80.0h.9M66.2 97.5h.9M83.8 60.6h.9M54.4 84.1h.9M71.8 82.6h.9M65.1 95.8h.9M65.2 85.5h.9M69.6 84.8h.9M63.2 91.4h.9M50.0 85.1h.9M59.4 96.0h.9M61.8 96.9h.9M74.0 102.8h.9M75.7 80.7h.9M73.4 85.1h.9M82.8 68.9h.9M67.1 78.3h.9M61.3 74.3h.9M62.1 101.6h.9M48.8 98.3h.9M82.2 76.0h.9M86.0 70.8h.9M74.0 76.7h.9M68.8 88.2h.9M59.5 107.2h.9M88.1 79.0h.9M82.3 73.1h.9M75.1 68.4h.9M55.7 94.7h.9M71.9 75.8h.9M83.3 91.2h.9M71.6 66.6h.9M54.5 81.3h.9M81.5 88.7h.9M67.2 82.5h.9M70.0 73.0h.9M76.4 80.5h.9M67.0 103.2h.9M70.1 75.5h.9M52.0 81.0h.9M71.9 79.1h.9M72.8 68.6h.9M56.0 78.6h.9M73.6 72.5h.9M60.2 77.7h.9M59.4 93.7h.9M70.2 80.4h.9M69.3 72.7h.9M62.5 97.3h.9M78.5 90.0h.9M80.9 82.0h.9M64.1 79.8h.9M53.8 83.2h.9M59.0 85.8h.9M76.9 97.2h.9M61.7 86.7h.9M68.2 82.4h.9M72.5 66.9h.9M74.0 88.5h.9M84.7 67.5h.9M67.2 90.3h.9M86.1 81.4h.9M85.2 77.0h.9M43.1 87.7h.9M70.7 89.0h.9M63.4 82.2h.9M63.4 73.2h.9M73.3 89.1h.9M69.6 72.7h.9M74.5 80.0h.9M69.4 84.5h.9M60.9 77.3h.9M97.4 62.2h.9M49.0 89.6h.9M78.2 80.0h.9M67.3 97.5h.9M59.7 96.4h.9M70.1 90.9h.9M82.6 87.6h.9M72.3 96.3h.9M81.0 86.9h.9M82.0 76.8h.9M85.1 53.5h.9M61.4 88.8h.9M57.9 76.3h.9M62.1 102.8h.9M73.7 86.7h.9M77.8 96.1h.9M58.6 77.6h.9M81.7 89.7h.9M63.0 87.3h.9M66.4 90.9h.9M54.6 80.7h.9M82.6 79.9h.9M74.9 84.4h.9M52.4 101.2h.9M64.8 83.4h.9M75.2 78.0h.9M67.9 58.0h.9M58.7 96.8h.9M62.3 95.8h.9M74.1 89.9h.9M56.4 84.0h.9M54.0 90.1h.9M86.7 101.7h.9M81.6 95.2h.9M77.7 84.8h.9M73.1 87.4h.9M71.3 70.8h.9M57.0 78.3h.9M82.0 80.3h.9M69.5 73.3h.9M80.7 74.8h.9M74.6 81.9h.9M85.0 93.7h.9M60.6 68.6h.9M69.7 85.6h.9M58.2 76.3h.9M61.1 95.0h.9M60.0 74.6h.9M66.3 88.5h.9M56.7 94.8h.9M81.6 73.5h.9M81.0 78.3h.9M78.6 73.4h.9M72.2 82.1h.9M69.2 74.7h.9M67.1 80.4h.9M67.5 84.3h.9M88.5 62.8h.9M61.4 99.4h.9M68.9 92.8h.9M65.2 72.1h.9M71.3 98.4h.9M68.9 92.3h.9M67.2 88.0h.9M68.5 87.1h.9M61.5 81.9h.9M79.6 81.9h.9M56.7 66.9h.9M53.9 72.1h.9M60.1 106.7h.9M60.6 86.8h.9M78.3 72.6h.9M65.2 80.1h.9M74.0 90.0h.9M58.7 84.0h.9M88.1 64.3h.9M79.0 81.0h.9M75.9 93.8h.9M57.7 100.2h.9M74.2 92.1h.9M67.5 81.3h.9M76.7 77.7h.9M81.0 83.5h.9M83.3 90.1h.9M52.5 88.7h.9M59.2 92.4h.9M63.1 100.5h.9M75.5 88.2h.9M77.3 81.5h.9M66.5 87.5h.9M60.7 82.5h.9M57.9 82.9h.9M68.8 93.4h.9M61.1 88.2h.9M44.8 111.7h.9M64.3 81.9h.9M56.0 95.4h.9M56.3 88.7h.9M65.6 85.7h.9M61.2 92.0h.9M80.5 79.7h.9M73.6 68.5h.9M51.8 81.3h.9M61.8 89.8h.9M79.5 78.1h.9M61.6 87.6h.9M77.4 88.2h.9M64.2 91.9h.9M70.3 72.7h.9M79.9 83.7h.9M68.0 92.4h.9M57.5 96.4h.9M71.0 79.6h.9M41.6 91.0h.9M71.2 90.7h.9M85.8 99.6h.9M66.4 100.7h.9M81.0 80.1h.9M73.8 82.4h.9M65.7 84.6h.9M76.5 100.8h.9M63.8 96.4h.9M93.1 74.2h.9M60.7 94.4h.9M78.7 85.1h.9M82.3 82.9h.9M72.9 70.5h.9M60.6 77.5h.9M74.1 88.9h.9M87.1 79.1h.9M78.6 83.8h.9M65.8 85.1h.9M63.2 71.2h.9M70.9 75.0h.9M64.4 106.7h.9M86.7 78.0h.9M66.2 85.7h.9M72.2 94.7h.9M73.2 79.1h.9M62.6 81.7h.9M68.5 87.1h.9M70.2 74.9h.9M73.9 93.7h.9M62.2 84.0h.9M65.8 93.7h.9M73.6 98.0h.9M76.7 76.9h.9M69.4 75.5h.9M61.0 109.6h.9M87.2 72.3h.9M82.5 87.5h.9M68.7 85.7h.9M71.9 89.5h.9M68.8 85.0h.9M75.0 87.7h.9M79.3 75.7h.9M68.2 82.1h.9M56.1 85.3h.9M67.7 77.8h.9M63.1 88.3h.9M72.7 88.6h.9M86.0 74.1h.9M74.7 77.7h.9M76.8 89.6h.9M76.4 102.8h.9M65.9 84.9h.9M78.8 85.2h.9M60.2 102.5h.9M76.8 82.3h.9M68.7 88.5h.9M59.5 64.7h.9M81.7 87.2h.9M54.2 75.3h.9M58.2 75.5h.9M56.2 105.2h.9M85.2 79.6h.9M80.4 82.1h.9M62.5 79.4h.9M56.4 84.4h.9M60.4 98.5h.9M66.5 66.3h.9M91.3 84.0h.9M67.7 86.2h.9M69.4 83.7h.9M60.3 99.9h.9M98.8 81.3h.9M56.4 87.8h.9M67.3 77.6h.9M72.8 88.7h.9M64.7 84.7h.9M82.4 83.6h.9M86.2 98.0h.9M82.1 83.2h.9M65.1 82.1h.9M60.6 99.1h.9M75.4 76.1h.9M54.4 88.2h.9M64.2 102.5h.9M81.7 91.2h.9M60.8 105.3h.9M81.4 98.1h.9M52.6 94.3h.9M70.7 82.9h.9M63.8 73.7h.9M64.0 94.7h.9M79.1 95.0h.9M74.6 80.5h.9M65.5 86.0h.9M76.5 89.4h.9M79.4 93.6h.9M77.8 80.3h.9M80.9 72.3h.9M85.1 87.4h.9M68.0 95.7h.9M60.2 88.6h.9M81.7 72.6h.9M69.0 79.0h.9M61.7 73.8h.9M51.1 93.1h.9M79.6 83.1h.9M89.5 76.4h.9M61.0 92.8h.9M75.8 73.4h.9M94.5 77.1h.9M65.1 82.2h.9M81.5 81.0h.9M50.0 92.4h.9M63.2 70.5h.9M66.2 93.1h.9M51.8 106.1h.9M69.2 77.9h.9M52.8 84.4h.9M66.2 94.3h.9M68.4 76.1h.9M77.6 85.0h.9M52.5 98.4h.9M64.3 76.6h.9M71.1 84.2h.9M68.8 77.8h.9M74.0 63.6h.9M82.6 80.7h.9M68.8 76.3h.9M69.1 95.3h.9M72.3 75.4h.9M67.7 94.2h.9M78.8 79.7h.9M78.3 92.2h.9M83.4 83.1h.9M60.2 84.1h.9M68.2 101.1h.9M94.5 85.4h.9M73.4 70.0h.9M78.3 87.5h.9M65.2 90.9h.9M62.3 101.1h.9M51.4 72.7h.9M66.8 75.5h.9M70.4 87.4h.9M72.5 67.8h.9M71.3 82.4h.9M98.1 67.4h.9M70.2 86.2h.9M61.1 82.7h.9M78.0 91.7h.9M65.0 98.8h.9M67.1 78.5h.9M63.4 101.5h.9M59.0 69.1h.9M64.3 66.3h.9M61.7 98.9h.9M74.7 77.3h.9M80.6 72.5h.9M68.6 64.0h.9M85.8 102.1h.9M58.0 101.1h.9M75.0 83.6h.9M51.8 87.1h.9M99.0 79.5h.9M79.4 98.3h.9M78.9 97.2h.9M94.8 59.8h.9M76.3 87.5h.9M96.7 64.9h.9M78.7 42.4h.9M90.6 79.8h.9M63.9 60.1h.9M80.6 77.3h.9M67.2 35.3h.9M80.9 80.7h.9M63.5 52.2h.9M79.7 75.0h.9M90.1 62.8h.9M87.1 53.4h.9M95.6 54.9h.9M96.9 65.9h.9M69.1 62.6h.9M54.3 71.9h.9M88.7 76.4h.9M50.7 56.4h.9M83.9 83.6h.9M48.8 57.9h.9M90.4 53.8h.9M100.7 69.0h.9M102.2 65.5h.9M65.1 55.2h.9M90.6 47.1h.9M91.7 71.8h.9M94.0 68.1h.9M91.7 62.4h.9M79.0 49.1h.9M96.5 83.7h.9M78.7 54.5h.9M89.9 67.0h.9M80.3 84.8h.9M102.5 60.5h.9M79.2 75.5h.9M68.1 68.0h.9M80.2 56.5h.9M70.0 64.4h.9M70.0 56.6h.9M82.1 57.5h.9M86.4 61.9h.9M84.1 58.1h.9M88.6 53.1h.9M101.8 61.9h.9M98.3 56.7h.9M85.8 89.3h.9M76.6 80.4h.9M78.5 82.3h.9M76.0 71.4h.9M99.1 66.0h.9M61.0 66.7h.9M76.3 74.2h.9M76.8 74.2h.9M81.0 83.3h.9M62.2 59.6h.9M75.5 71.6h.9M102.4 56.3h.9M106.6 55.4h.9M61.3 76.2h.9M78.0 76.2h.9M65.1 57.5h.9M78.6 70.1h.9M76.1 70.4h.9M74.6 76.6h.9M88.7 81.8h.9M90.7 73.2h.9M86.1 69.5h.9M96.4 63.7h.9M70.1 75.0h.9M79.2 74.8h.9M98.9 53.8h.9M65.6 72.5h.9M104.8 45.3h.9M107.4 72.3h.9M84.3 62.2h.9M92.8 58.1h.9M82.1 48.8h.9M77.5 54.9h.9M59.7 66.6h.9M78.7 55.9h.9M99.8 48.4h.9M41.3 68.3h.9M77.3 59.8h.9M75.9 54.0h.9M95.6 77.0h.9M89.2 59.8h.9M88.4 92.7h.9M92.8 59.1h.9M84.3 51.1h.9M82.7 53.0h.9M92.8 56.1h.9M66.4 71.0h.9M91.4 66.7h.9M75.1 69.6h.9M100.7 78.4h.9M83.2 54.9h.9M105.0 49.2h.9M103.3 76.5h.9M94.5 66.2h.9M88.3 86.9h.9M82.9 61.9h.9M83.8 56.0h.9M67.4 38.8h.9M79.1 68.7h.9M93.5 52.1h.9M62.8 90.4h.9M102.9 73.4h.9M91.0 52.9h.9M87.7 54.8h.9M81.2 75.5h.9M90.6 53.8h.9M79.5 60.0h.9M78.1 56.0h.9M92.1 55.3h.9M98.5 55.3h.9M78.0 52.6h.9M86.3 52.0h.9M86.6 61.9h.9M78.7 52.9h.9M76.6 85.5h.9M91.0 72.0h.9M78.3 63.8h.9M106.0 86.4h.9M82.4 82.0h.9M93.3 63.6h.9M63.8 90.1h.9M83.5 84.7h.9M90.7 82.9h.9M85.8 69.3h.9M81.7 66.7h.9M65.1 73.0h.9M77.3 55.8h.9M80.4 59.5h.9M77.2 67.2h.9M87.7 53.7h.9M80.8 56.9h.9M79.9 78.2h.9M72.2 53.9h.9" stroke="#000" stroke-width="1.0" fill="none"/>
<rect x="117.2" y="28.9" width="92.3" height="87.6" fill="none" stroke="#222" stroke-width="1.1"/><path d="M116.10000000000001 29.9V116.5" stroke="#222" stroke-width="1.2" stroke-dasharray="1.4 1.9" fill="none"/><path d="M117.2 117.5H209.5" stroke="#222" stroke-width="1.1" stroke-dasharray="1.4 1.9" fill="none"/><path d="M162.0 101.9h.9M153.0 108.0h.9M149.0 104.3h.9M153.8 107.4h.9M153.5 106.6h.9M163.1 102.0h.9M156.7 106.2h.9M164.7 103.5h.9M164.3 106.6h.9M162.4 103.6h.9M153.9 109.8h.9M154.1 109.1h.9M157.1 105.2h.9M159.9 104.1h.9M161.6 106.3h.9M162.0 104.3h.9M152.0 107.8h.9M160.2 104.6h.9M153.6 105.3h.9M159.9 104.2h.9M144.6 108.5h.9M162.5 102.1h.9M158.8 104.8h.9M148.3 111.4h.9M151.7 110.4h.9M151.9 107.5h.9M156.6 106.5h.9M163.2 104.8h.9M164.0 105.7h.9M157.4 106.2h.9M147.2 108.3h.9M165.4 103.1h.9M164.8 105.5h.9M146.4 113.1h.9M159.7 104.5h.9M159.0 102.3h.9M158.6 106.6h.9M160.4 104.9h.9M143.6 110.3h.9M151.1 109.4h.9M153.4 107.5h.9M157.7 103.5h.9M147.3 106.2h.9M150.5 107.7h.9M149.0 106.8h.9M145.5 110.0h.9M155.2 104.6h.9M148.4 107.8h.9M155.5 104.3h.9M149.8 107.7h.9M160.8 104.0h.9M147.4 109.9h.9M161.6 106.8h.9M158.5 105.2h.9M148.8 107.4h.9M152.8 110.0h.9M153.8 107.6h.9M155.5 107.6h.9M160.7 106.3h.9M145.1 112.1h.9M149.1 110.1h.9M160.5 106.2h.9M146.4 110.3h.9M162.9 103.1h.9M153.0 106.3h.9M144.9 109.5h.9M161.6 105.0h.9M150.8 108.0h.9M165.7 104.0h.9M162.8 104.0h.9M163.2 103.5h.9M162.7 101.8h.9M146.3 110.6h.9M143.8 110.7h.9M154.5 105.7h.9M154.5 107.6h.9M153.6 107.5h.9M157.0 105.9h.9M160.7 102.0h.9M162.1 102.9h.9M163.7 103.0h.9M159.1 107.7h.9M163.2 102.9h.9M146.9 108.7h.9M145.1 108.1h.9M155.5 105.9h.9M163.2 104.7h.9M154.2 104.0h.9M146.7 104.8h.9M147.9 109.9h.9M150.1 108.2h.9M162.7 103.4h.9M152.6 108.9h.9M162.2 105.8h.9M163.8 100.7h.9M161.6 104.5h.9M163.4 105.6h.9M150.2 106.9h.9M149.9 107.9h.9M151.2 109.5h.9M144.5 109.5h.9M163.9 102.1h.9M149.3 107.3h.9M158.3 103.6h.9M152.2 108.6h.9M157.2 103.5h.9M154.8 108.3h.9M160.0 102.6h.9M148.7 108.4h.9M151.8 105.5h.9M148.4 108.3h.9M153.0 109.0h.9M163.3 106.1h.9M164.6 105.7h.9M145.1 109.8h.9M161.7 104.6h.9M161.1 105.4h.9M147.1 110.2h.9M149.5 108.0h.9M163.1 105.9h.9M149.8 108.9h.9M164.3 105.8h.9M156.4 106.8h.9M165.1 104.7h.9M156.7 105.2h.9M147.5 108.2h.9M157.3 103.8h.9M155.2 106.3h.9M146.4 109.1h.9M162.2 105.8h.9M163.7 102.2h.9M163.9 108.6h.9M158.9 105.3h.9M158.2 107.8h.9M149.3 109.9h.9M164.2 100.0h.9M159.7 104.6h.9M159.6 107.6h.9M160.8 101.6h.9M161.5 105.6h.9M153.3 106.0h.9M148.0 108.3h.9M164.5 103.9h.9M144.9 106.9h.9M150.7 108.1h.9M155.4 105.4h.9M145.5 108.5h.9M152.5 108.6h.9M162.8 109.5h.9M158.9 106.1h.9M157.7 106.7h.9M144.0 109.8h.9M155.4 105.7h.9M148.4 109.3h.9M153.3 109.3h.9M154.8 107.3h.9M154.8 108.2h.9M152.3 107.2h.9M162.3 108.5h.9M153.8 104.1h.9M162.5 104.9h.9M153.3 108.2h.9M148.2 109.2h.9M152.5 105.6h.9M163.7 102.5h.9M153.4 106.9h.9M161.2 104.7h.9M159.2 103.4h.9M151.5 106.3h.9M150.5 109.2h.9M146.3 110.5h.9M155.1 105.8h.9M159.4 104.2h.9M150.8 106.6h.9M164.1 107.5h.9M143.6 110.7h.9M161.0 104.6h.9M149.9 110.1h.9M165.3 107.0h.9M147.6 110.9h.9M164.0 101.8h.9M154.2 106.8h.9M152.2 107.1h.9M144.8 109.1h.9M149.9 106.4h.9M154.2 106.5h.9M163.5 102.3h.9M164.2 104.2h.9M147.3 109.3h.9M158.1 103.9h.9M144.8 107.2h.9M146.8 108.3h.9M158.5 106.6h.9M156.7 106.9h.9M162.9 104.0h.9M163.7 99.1h.9M149.0 107.9h.9M158.6 104.4h.9M163.4 104.1h.9M161.9 102.9h.9M157.8 105.3h.9M156.8 105.3h.9M159.1 110.0h.9M154.9 107.9h.9M156.8 105.7h.9M163.4 104.0h.9M153.0 107.1h.9M154.5 107.0h.9M154.9 106.1h.9M162.9 104.2h.9M150.7 109.5h.9M154.5 108.0h.9M161.2 105.4h.9M152.9 109.0h.9M163.0 104.7h.9M156.7 104.6h.9M147.3 106.5h.9M151.9 106.1h.9M149.4 108.6h.9M153.8 107.3h.9M152.8 108.8h.9M153.1 106.5h.9M161.7 103.2h.9M163.0 105.2h.9M159.5 106.6h.9M160.7 104.1h.9M163.3 104.6h.9M164.0 106.0h.9M148.9 109.0h.9M163.4 104.0h.9M149.0 105.5h.9M150.9 109.8h.9M161.0 105.6h.9M149.5 108.9h.9M163.9 103.0h.9M164.6 102.0h.9M143.9 110.0h.9M159.5 105.4h.9M163.4 105.6h.9M157.1 104.3h.9M156.9 108.3h.9M157.5 105.9h.9M157.2 107.8h.9M157.1 104.4h.9M159.4 105.8h.9M164.0 105.6h.9M147.2 109.4h.9M150.4 105.9h.9M143.4 109.5h.9M146.0 110.2h.9M149.7 106.2h.9M162.8 101.9h.9M153.0 107.9h.9M158.2 104.3h.9M152.7 108.6h.9M164.4 101.8h.9M149.3 105.6h.9M154.5 105.8h.9M152.6 109.4h.9M150.2 106.9h.9M146.5 109.3h.9M153.5 107.4h.9M149.8 106.9h.9M144.2 111.5h.9M163.2 104.4h.9M152.1 108.0h.9M143.7 107.4h.9M159.0 103.0h.9M155.2 102.3h.9M158.3 105.0h.9M153.8 106.9h.9M147.8 109.9h.9M156.6 107.8h.9M153.9 106.6h.9M163.5 103.8h.9M152.7 108.1h.9M151.2 110.5h.9M149.3 107.2h.9M151.3 108.9h.9M150.0 107.7h.9M156.5 105.7h.9M154.3 108.4h.9M164.8 102.5h.9M149.9 106.7h.9M162.8 104.9h.9M152.5 107.3h.9M154.9 106.1h.9M164.8 103.6h.9M160.8 105.5h.9M164.3 103.3h.9M156.2 107.3h.9M153.4 108.1h.9M158.6 107.6h.9M159.6 107.2h.9M147.0 110.9h.9M147.5 108.7h.9M163.6 104.0h.9M160.5 104.2h.9M162.6 108.8h.9M149.9 108.1h.9M163.4 104.5h.9M152.1 109.7h.9M147.0 106.7h.9M154.3 106.0h.9M153.1 106.7h.9M145.7 108.0h.9M162.8 102.5h.9M163.1 103.5h.9M148.9 110.3h.9M157.9 107.1h.9M162.7 104.3h.9M152.5 107.2h.9M157.0 103.8h.9M151.6 109.1h.9M156.1 107.2h.9M152.5 105.9h.9M161.5 104.8h.9M149.3 108.3h.9M146.3 108.9h.9M163.8 102.6h.9M150.0 107.5h.9M156.5 104.7h.9M160.5 105.8h.9M153.1 108.0h.9M162.9 104.4h.9M151.8 107.1h.9M149.2 107.7h.9M146.3 112.5h.9M163.6 101.3h.9M149.9 110.0h.9M163.2 104.6h.9M155.1 106.7h.9M163.9 103.1h.9M147.2 108.9h.9M162.8 102.6h.9M164.6 101.6h.9M160.1 105.0h.9M147.8 106.4h.9M165.5 104.8h.9M161.3 106.3h.9M150.9 103.1h.9M164.5 101.4h.9M147.0 109.6h.9M147.5 109.2h.9M144.4 110.1h.9M157.9 106.4h.9M154.1 108.1h.9M146.4 110.5h.9M155.2 109.1h.9M163.0 104.2h.9M147.1 110.5h.9M159.0 103.1h.9M149.7 108.4h.9M156.0 104.5h.9M151.6 109.4h.9M151.3 111.3h.9M143.4 110.8h.9M156.7 104.0h.9M155.5 106.5h.9M159.9 105.3h.9M148.9 108.7h.9M164.4 105.3h.9M144.7 111.3h.9M148.5 104.4h.9M159.0 107.6h.9M147.9 108.1h.9M152.2 107.1h.9M155.4 108.5h.9M161.4 104.5h.9M162.3 102.2h.9M152.9 105.5h.9M158.4 105.5h.9M145.3 111.2h.9M162.9 106.4h.9M158.8 105.1h.9M163.3 103.4h.9M150.2 110.7h.9M156.2 105.7h.9M161.5 107.1h.9M145.4 110.2h.9M160.7 104.8h.9M159.7 104.8h.9M160.2 105.2h.9M148.6 107.9h.9M161.5 103.8h.9M156.5 105.8h.9M147.8 107.7h.9M148.1 109.3h.9M162.4 104.5h.9M154.9 106.6h.9M151.5 107.5h.9M153.7 106.9h.9M160.5 107.9h.9M147.8 108.8h.9M148.8 107.7h.9M158.3 105.0h.9M163.4 105.1h.9M159.9 105.1h.9M164.9 103.6h.9M151.5 107.4h.9M152.6 107.5h.9M153.0 107.8h.9M152.3 107.9h.9M151.3 105.4h.9M162.3 103.1h.9M150.1 103.8h.9M153.1 108.1h.9M156.3 108.2h.9M164.0 105.5h.9M152.8 107.7h.9M158.9 107.0h.9M153.0 107.4h.9M162.0 104.5h.9M153.9 104.8h.9M145.3 108.7h.9M156.5 105.3h.9M153.1 108.8h.9M152.3 110.4h.9M152.4 107.0h.9M143.6 110.7h.9M159.9 105.4h.9M156.8 104.9h.9M158.5 103.0h.9M157.4 104.8h.9M153.3 105.0h.9M155.6 106.2h.9M155.6 106.3h.9M163.8 103.7h.9M153.0 107.1h.9M148.9 109.4h.9M146.0 107.9h.9M153.7 108.7h.9M157.6 103.4h.9M157.9 106.0h.9M160.7 105.6h.9M159.7 104.2h.9M147.2 106.9h.9M154.0 108.0h.9M153.3 106.2h.9M146.6 110.2h.9M157.8 107.0h.9M160.9 104.8h.9M145.4 109.6h.9M158.0 107.7h.9M146.6 109.5h.9M161.2 103.4h.9M157.9 106.3h.9M146.8 110.2h.9M157.1 106.6h.9M149.9 108.3h.9M149.3 108.1h.9M159.6 105.2h.9M153.9 105.6h.9M164.8 101.8h.9M163.8 105.7h.9M162.6 103.4h.9M154.5 107.3h.9M163.3 101.8h.9M146.5 109.6h.9M160.7 103.5h.9M153.2 111.7h.9M162.4 102.8h.9M145.3 108.3h.9M156.6 107.3h.9M145.5 111.1h.9M152.1 104.5h.9M157.4 106.4h.9M147.6 110.1h.9M159.5 103.4h.9M155.6 107.3h.9M151.5 107.4h.9M155.8 104.6h.9M156.0 106.2h.9M144.8 109.0h.9M160.2 103.1h.9M159.9 108.5h.9M163.3 103.4h.9M164.6 102.8h.9M153.9 108.4h.9M158.6 105.4h.9M187.4 95.7h.9M201.7 92.1h.9M194.7 93.2h.9M193.0 95.5h.9M192.3 92.9h.9M198.0 93.3h.9M199.0 90.0h.9M193.5 94.3h.9M178.2 101.8h.9M174.7 99.1h.9M172.9 102.8h.9M199.5 88.7h.9M185.8 96.0h.9M163.1 103.7h.9M189.4 98.7h.9M200.7 89.0h.9M204.0 94.3h.9M204.9 85.6h.9M201.6 90.8h.9M172.0 103.6h.9M186.5 98.3h.9M194.4 90.7h.9M190.5 91.2h.9M178.0 101.0h.9M164.2 101.0h.9M202.4 92.7h.9M197.3 91.0h.9M201.2 91.2h.9M180.7 104.2h.9M174.5 104.1h.9M199.7 94.2h.9M191.2 90.5h.9M191.5 95.1h.9M166.3 103.8h.9M169.2 102.4h.9M196.3 96.7h.9M201.8 85.7h.9M179.5 99.7h.9M202.5 91.6h.9M171.4 99.8h.9M189.1 100.2h.9M179.8 95.9h.9M185.9 96.3h.9M172.0 101.4h.9M180.5 93.0h.9M183.4 93.6h.9M190.3 92.9h.9M173.4 102.9h.9M190.2 97.7h.9M172.5 102.4h.9M206.5 90.4h.9M174.8 95.5h.9M168.4 103.0h.9M175.4 98.9h.9M187.5 98.9h.9M183.2 101.0h.9M192.9 100.7h.9M169.4 104.1h.9M182.1 100.1h.9M188.4 93.1h.9M205.6 89.9h.9M201.8 87.1h.9M189.4 98.1h.9M177.2 96.8h.9M168.5 102.0h.9M191.5 92.4h.9M188.8 94.5h.9M184.9 98.3h.9M195.1 91.8h.9M183.7 97.8h.9M197.8 89.6h.9M177.5 103.2h.9M178.2 97.7h.9M202.8 93.7h.9M189.1 101.4h.9M204.3 82.1h.9M166.8 101.2h.9M203.6 89.7h.9M167.1 105.8h.9M196.2 91.6h.9M189.6 96.6h.9M170.7 100.8h.9M176.9 101.0h.9M184.1 93.8h.9M188.3 98.1h.9M184.9 89.0h.9M165.3 99.8h.9M206.4 95.2h.9M179.5 99.3h.9M195.1 90.8h.9M202.6 97.3h.9M205.8 93.0h.9M172.1 104.0h.9M203.1 89.5h.9M185.7 98.2h.9M191.7 95.8h.9M175.3 96.6h.9M169.8 103.3h.9M189.0 95.0h.9M203.1 94.7h.9M182.5 101.2h.9M205.0 87.9h.9M193.7 91.9h.9M165.5 104.3h.9M203.9 92.3h.9M168.5 101.6h.9M174.8 100.6h.9M188.8 97.4h.9M203.8 91.5h.9M169.5 104.7h.9M176.7 100.3h.9M165.5 101.6h.9M166.6 99.0h.9M183.0 99.8h.9M189.3 94.6h.9M186.1 95.6h.9M165.8 102.8h.9M182.6 93.7h.9M183.5 96.5h.9M203.6 81.9h.9M177.9 98.3h.9M190.9 92.2h.9M185.4 101.7h.9M197.6 93.9h.9M189.2 94.5h.9M206.3 89.9h.9M192.5 96.7h.9M178.1 97.2h.9M182.2 97.3h.9M200.4 90.3h.9M180.6 104.9h.9M203.8 90.5h.9M182.7 92.5h.9M203.8 92.6h.9M170.3 107.7h.9M198.2 89.6h.9M172.9 100.6h.9M190.4 98.1h.9M166.4 102.0h.9M171.9 100.5h.9M200.5 87.7h.9M186.1 93.5h.9M178.2 93.8h.9M169.8 104.5h.9M170.8 99.1h.9M173.6 101.6h.9M182.8 98.1h.9M165.2 102.5h.9M172.5 101.2h.9M183.2 97.5h.9M202.3 89.4h.9M201.6 91.4h.9M204.3 90.3h.9M174.5 98.4h.9M169.1 99.4h.9M199.9 88.8h.9M194.3 94.0h.9M172.9 103.7h.9M182.4 101.5h.9M203.9 91.3h.9M198.9 94.8h.9M205.0 90.5h.9M185.7 99.7h.9M172.4 101.5h.9M186.9 97.1h.9M169.6 101.8h.9M168.6 102.4h.9M167.7 106.9h.9M175.3 97.5h.9M171.4 101.7h.9M176.4 98.9h.9M193.8 96.5h.9M191.7 99.3h.9M165.5 103.1h.9M201.7 82.6h.9M199.2 93.8h.9M205.6 92.0h.9M174.5 96.9h.9M195.0 92.5h.9M187.7 95.6h.9M193.6 86.8h.9M203.2 92.8h.9M167.9 103.9h.9M200.6 92.3h.9M200.2 88.0h.9M191.3 92.4h.9M180.4 96.5h.9M186.3 97.3h.9M169.2 99.8h.9M195.1 97.4h.9M187.6 96.9h.9M189.0 89.4h.9M194.9 98.5h.9M168.3 102.9h.9M165.6 102.2h.9M169.1 102.6h.9M167.8 98.9h.9M198.3 92.7h.9M169.7 96.6h.9M175.0 77.2h.9M168.8 78.4h.9M159.5 87.4h.9M164.5 81.9h.9M173.6 102.0h.9M178.6 72.1h.9M183.3 70.3h.9M192.1 97.1h.9M193.8 73.0h.9M182.3 77.4h.9M175.2 94.0h.9M172.8 86.2h.9M177.9 83.0h.9M159.3 89.3h.9M171.1 72.3h.9M177.1 69.1h.9M185.0 102.7h.9M160.3 92.1h.9M168.4 78.7h.9M182.9 92.3h.9M179.3 92.2h.9M164.0 73.0h.9M188.2 61.1h.9M182.1 93.7h.9M179.4 79.1h.9M182.6 89.5h.9M169.6 77.4h.9M173.1 95.6h.9M165.6 81.4h.9M164.9 75.5h.9M187.4 60.3h.9M183.4 80.2h.9M167.8 97.6h.9M161.8 99.0h.9M163.3 85.5h.9M173.8 82.6h.9M182.2 82.6h.9M189.1 63.0h.9M182.6 74.4h.9M171.8 85.2h.9M171.1 73.9h.9M168.8 85.6h.9M164.2 81.5h.9M161.4 92.8h.9M166.6 92.9h.9M172.5 87.7h.9M172.7 89.7h.9M173.7 98.6h.9M184.2 96.4h.9M190.1 80.4h.9M166.1 77.3h.9M172.5 86.7h.9M163.1 98.3h.9M178.1 84.0h.9M191.9 64.4h.9M192.6 77.6h.9M166.6 100.0h.9M187.7 66.5h.9M180.7 87.2h.9M170.3 74.6h.9M171.2 77.3h.9M161.1 98.4h.9M180.4 75.4h.9M181.3 67.6h.9M174.2 79.1h.9M186.9 84.8h.9M164.9 81.7h.9M184.6 81.0h.9M181.3 76.0h.9M180.6 84.3h.9M176.9 80.0h.9M184.5 74.9h.9M194.5 79.7h.9M175.4 81.4h.9M171.4 90.5h.9M175.9 83.2h.9M174.8 71.2h.9M188.9 79.7h.9M177.8 74.3h.9M184.4 80.6h.9M158.3 99.7h.9M174.3 88.8h.9M182.1 81.3h.9M190.3 72.4h.9M168.6 80.8h.9M173.0 102.7h.9M159.7 88.9h.9M174.8 77.6h.9M182.4 94.5h.9M188.5 62.5h.9M184.5 85.2h.9M168.2 77.0h.9M170.8 76.3h.9M181.8 74.5h.9M181.7 78.6h.9M202.1 75.8h.9M174.1 98.6h.9M169.7 60.3h.9M180.4 72.5h.9M188.3 81.8h.9M169.5 95.4h.9M171.7 96.6h.9M172.7 70.9h.9M184.4 85.2h.9M173.9 61.8h.9M154.7 77.4h.9M162.7 99.9h.9M185.2 97.6h.9M178.3 63.0h.9M161.2 104.9h.9M179.1 82.1h.9M179.6 98.9h.9M173.8 82.3h.9M179.1 83.3h.9M169.8 96.8h.9M159.8 98.2h.9M185.7 95.1h.9M171.3 97.4h.9M177.2 70.4h.9M179.9 82.1h.9M168.2 74.1h.9M184.9 76.8h.9M162.1 85.7h.9M167.4 72.0h.9M204.7 90.7h.9M174.0 81.8h.9M172.0 71.5h.9M187.8 62.8h.9M188.7 85.5h.9M189.7 67.0h.9M155.1 88.8h.9M161.7 83.0h.9M183.8 93.9h.9M178.8 83.6h.9M183.0 76.4h.9M168.7 93.7h.9M180.3 82.6h.9M160.5 84.6h.9M171.7 80.4h.9M181.0 91.9h.9M183.8 90.9h.9M180.0 70.5h.9M183.2 72.3h.9M174.8 82.7h.9M183.6 69.5h.9M183.6 80.3h.9M186.5 84.3h.9M162.5 77.5h.9M168.0 75.0h.9M180.8 98.4h.9M180.0 84.0h.9M170.0 58.3h.9M178.4 75.7h.9M186.6 67.0h.9M179.4 88.4h.9M173.0 102.1h.9M179.8 79.1h.9M165.9 84.7h.9M175.0 100.1h.9M173.8 77.6h.9M183.5 99.6h.9M172.3 93.7h.9M166.2 86.3h.9M161.8 83.9h.9M178.1 89.3h.9M199.6 73.8h.9M191.0 74.7h.9M182.2 78.3h.9M198.1 85.7h.9M183.1 100.7h.9M176.9 93.7h.9M174.2 83.3h.9M174.2 89.8h.9M168.2 75.6h.9M182.9 81.9h.9M182.1 79.2h.9M170.5 77.2h.9M177.2 70.3h.9M176.8 78.7h.9M162.5 90.3h.9M194.0 64.0h.9M178.8 77.6h.9M179.8 92.9h.9M182.7 88.0h.9M175.6 73.6h.9M190.6 84.3h.9M163.1 96.9h.9M168.6 94.5h.9M168.1 93.0h.9M170.2 92.6h.9M178.4 79.8h.9M171.8 82.3h.9M196.9 75.3h.9M166.6 71.5h.9M171.2 47.8h.9M190.0 82.0h.9M184.6 64.5h.9M195.7 68.0h.9M176.8 88.2h.9M180.0 103.9h.9M166.5 91.6h.9M177.7 64.8h.9M200.1 71.8h.9M178.9 81.6h.9M189.7 93.2h.9M188.5 81.9h.9M173.9 85.7h.9M194.9 66.5h.9M178.2 73.4h.9M176.1 85.9h.9M165.3 92.3h.9M177.8 86.0h.9M181.4 86.1h.9M186.8 85.3h.9M171.2 69.8h.9M185.3 87.4h.9M175.6 75.1h.9M180.1 80.1h.9M180.1 82.5h.9M197.8 70.9h.9M167.3 85.8h.9M171.6 99.4h.9M159.6 94.0h.9M167.0 100.9h.9M194.7 64.4h.9M171.6 75.8h.9M164.6 73.0h.9M171.8 88.4h.9M188.3 85.9h.9M172.0 80.8h.9M182.2 72.8h.9M166.3 92.0h.9M189.6 75.8h.9M176.3 83.6h.9M155.6 100.3h.9M163.3 78.1h.9M182.8 82.3h.9M161.1 89.9h.9M177.2 95.1h.9M194.7 91.7h.9M170.7 79.6h.9M161.3 80.1h.9M174.2 103.6h.9M183.6 81.3h.9M187.0 96.6h.9M171.6 71.4h.9M187.2 60.4h.9M185.2 65.8h.9M171.2 85.7h.9M190.9 77.9h.9M179.7 81.9h.9M161.9 87.9h.9M199.9 83.4h.9M170.5 77.2h.9M174.4 78.1h.9M181.5 68.4h.9M176.9 82.8h.9M161.5 81.8h.9M191.5 70.4h.9M188.0 83.3h.9M165.2 80.6h.9M166.5 84.7h.9M183.8 90.8h.9M163.4 105.2h.9M174.7 91.7h.9M154.2 81.2h.9M181.2 80.1h.9M168.7 85.0h.9M179.5 96.2h.9M174.8 82.9h.9M180.0 79.9h.9M180.1 101.6h.9M173.2 74.4h.9M188.5 78.7h.9M177.6 86.6h.9M176.5 89.7h.9M170.4 77.6h.9M181.4 77.1h.9M171.9 85.8h.9M188.9 84.2h.9M181.2 79.1h.9M172.8 76.3h.9M182.3 64.9h.9M187.7 77.8h.9M181.0 69.3h.9M172.1 89.5h.9M179.6 91.6h.9M184.1 64.0h.9M192.0 78.4h.9M181.0 83.8h.9M164.1 99.5h.9M179.2 85.5h.9M187.1 85.3h.9M178.8 95.7h.9M174.2 82.2h.9M176.5 77.9h.9M189.3 67.3h.9M171.8 91.6h.9M180.1 78.0h.9M177.7 86.7h.9M160.1 98.5h.9M179.4 89.6h.9M174.7 83.0h.9M178.9 70.0h.9M182.6 96.2h.9M184.0 78.1h.9M180.6 92.5h.9M178.4 87.4h.9M163.5 87.8h.9M164.4 76.5h.9M183.1 59.2h.9M189.6 69.0h.9M168.8 92.2h.9M176.1 80.7h.9M179.3 80.8h.9M171.6 84.9h.9M178.0 72.8h.9M169.1 89.7h.9M166.5 97.1h.9M160.5 92.5h.9M184.3 77.7h.9M172.8 87.5h.9M165.1 104.4h.9M171.2 83.8h.9M172.8 103.5h.9M163.2 80.8h.9M171.5 84.9h.9M180.7 90.6h.9M182.8 76.1h.9M172.7 92.7h.9M171.6 75.4h.9M172.2 71.1h.9M171.6 93.6h.9M184.0 70.4h.9M162.2 56.7h.9M177.6 100.0h.9M180.7 64.9h.9M173.0 83.6h.9M178.4 72.1h.9M174.5 78.3h.9M174.0 84.2h.9M181.5 75.2h.9M196.5 71.5h.9M186.6 64.7h.9M177.6 88.1h.9M183.8 90.6h.9M183.0 71.1h.9M172.6 82.5h.9M189.1 81.8h.9M177.8 73.7h.9M177.0 79.2h.9M174.5 83.7h.9M175.5 87.3h.9M183.2 93.2h.9M193.0 80.6h.9M184.0 80.8h.9M173.9 83.4h.9M199.3 69.0h.9M176.0 72.0h.9M171.0 94.1h.9M174.3 91.1h.9M163.4 85.5h.9M176.8 85.2h.9M181.3 79.0h.9M191.5 71.4h.9M160.5 91.0h.9M186.4 90.3h.9M167.4 83.1h.9M188.4 76.0h.9M158.7 97.4h.9M171.4 80.2h.9M180.6 81.1h.9M172.5 79.7h.9M163.3 103.7h.9M185.3 85.2h.9M175.4 82.1h.9M164.3 88.5h.9M179.3 94.4h.9M171.7 88.9h.9M165.3 76.0h.9M179.5 82.6h.9M172.7 92.2h.9M173.5 75.6h.9M178.0 82.8h.9M169.8 95.1h.9M179.0 77.3h.9M178.1 76.9h.9M179.1 54.1h.9M187.0 72.4h.9M178.3 82.5h.9M163.0 90.6h.9M172.7 95.9h.9M191.0 81.2h.9M177.7 63.9h.9M180.7 82.2h.9M163.7 72.6h.9M178.0 79.4h.9M168.8 79.8h.9M167.0 81.7h.9M178.1 86.2h.9M180.8 79.6h.9M174.9 77.2h.9M171.7 100.6h.9M173.5 76.7h.9M179.6 86.7h.9M181.7 97.1h.9M166.6 83.1h.9M180.9 96.3h.9M183.0 66.2h.9M187.8 82.1h.9M181.6 69.5h.9M172.2 100.6h.9M191.6 86.0h.9M187.6 71.0h.9M181.6 82.4h.9M172.8 76.7h.9M166.8 79.8h.9M171.6 86.8h.9M168.4 90.3h.9M183.4 77.4h.9M155.8 87.2h.9M180.3 86.3h.9M179.3 64.9h.9M167.5 86.0h.9M192.0 82.8h.9M176.6 69.8h.9M183.1 55.0h.9M195.4 76.8h.9M161.3 90.1h.9M170.4 105.5h.9M183.3 83.9h.9M169.5 83.6h.9M181.0 61.3h.9M174.5 81.2h.9M187.6 78.9h.9M189.0 75.3h.9M180.4 78.2h.9M183.3 71.2h.9M169.7 68.0h.9M176.6 82.2h.9M173.8 92.1h.9M178.7 70.0h.9M183.9 53.1h.9M179.3 101.6h.9M174.4 91.5h.9M176.6 90.4h.9M181.1 61.6h.9M177.7 99.2h.9M173.3 83.8h.9M175.4 76.6h.9M169.4 65.8h.9M172.9 82.4h.9M189.5 87.0h.9M168.6 85.9h.9M163.4 82.7h.9M172.4 94.3h.9M181.8 82.8h.9M165.2 95.6h.9M196.7 80.7h.9M186.7 88.5h.9M183.3 77.2h.9M184.8 78.5h.9M173.9 77.2h.9M170.0 99.7h.9M187.2 61.0h.9M174.0 68.5h.9M177.0 74.8h.9M171.3 79.8h.9M184.2 61.5h.9M162.5 86.2h.9M176.2 90.6h.9M181.5 79.2h.9M178.5 73.4h.9M185.9 73.9h.9M164.2 93.9h.9M155.4 86.5h.9M175.2 69.6h.9M162.7 97.8h.9M158.4 82.5h.9M179.9 85.9h.9M158.7 71.6h.9M181.2 87.5h.9M171.7 97.6h.9M185.4 64.4h.9M166.0 88.6h.9M170.2 86.4h.9M181.4 86.4h.9M200.3 86.4h.9M178.2 85.4h.9M181.6 75.2h.9M168.5 74.1h.9M187.8 67.9h.9M159.6 71.4h.9M187.4 59.3h.9M181.3 84.2h.9M188.1 72.1h.9M175.2 77.4h.9M184.3 84.9h.9M179.5 91.7h.9M179.0 74.3h.9M180.0 68.4h.9M176.0 76.6h.9M175.4 91.5h.9M173.2 90.8h.9M171.2 94.0h.9M174.5 94.4h.9M172.0 89.8h.9M174.4 64.1h.9M167.8 104.1h.9M173.0 86.4h.9M198.9 89.0h.9M183.0 70.7h.9M169.5 77.6h.9M179.6 66.7h.9M175.6 77.1h.9M164.0 86.3h.9M184.3 92.4h.9M163.8 87.2h.9M200.1 55.4h.9M169.9 85.3h.9M166.5 94.1h.9M169.1 79.6h.9M172.0 84.1h.9M187.1 81.5h.9M165.4 78.9h.9M178.4 92.9h.9M179.1 72.4h.9M174.8 82.1h.9M180.5 86.3h.9M193.8 85.6h.9M177.4 73.1h.9M175.3 82.2h.9M190.9 75.9h.9M170.0 81.0h.9M183.7 92.0h.9M187.7 98.2h.9M172.9 96.1h.9M180.7 84.3h.9M175.4 98.4h.9M172.0 94.2h.9M180.5 95.1h.9M169.0 75.7h.9M170.5 102.5h.9M181.0 78.9h.9M166.7 73.3h.9M168.3 75.1h.9M174.9 84.2h.9M169.3 93.7h.9M172.6 85.2h.9M169.6 73.1h.9M172.1 93.4h.9M181.7 77.3h.9M174.4 75.4h.9M183.5 89.8h.9M168.8 74.2h.9M192.6 83.2h.9M189.7 78.8h.9M183.2 82.9h.9M166.8 75.2h.9M193.5 86.5h.9M181.4 83.4h.9M177.9 78.5h.9M178.1 87.7h.9M163.5 105.3h.9M173.4 78.1h.9M173.7 62.7h.9M160.3 82.1h.9M174.3 100.3h.9M170.7 75.0h.9M176.8 82.9h.9M165.1 91.2h.9M178.7 78.4h.9M174.2 77.3h.9M175.9 58.5h.9M179.3 74.7h.9M186.5 101.8h.9M169.3 101.7h.9M164.9 101.4h.9M195.6 86.2h.9M180.3 70.0h.9M188.2 85.5h.9M185.6 79.5h.9M170.9 73.6h.9M176.5 85.6h.9M177.8 67.3h.9M188.0 78.2h.9M175.7 88.2h.9M170.7 85.7h.9M169.9 85.1h.9M180.0 66.1h.9M176.2 85.1h.9M159.1 86.9h.9M180.8 81.9h.9M184.2 73.7h.9M171.6 74.0h.9M160.8 88.7h.9M168.1 91.3h.9M176.4 69.5h.9M175.5 71.7h.9M162.6 78.1h.9M175.1 98.6h.9M161.9 93.0h.9M186.3 56.3h.9M179.9 82.1h.9M179.3 77.0h.9M165.4 78.1h.9M158.5 96.8h.9M182.5 89.5h.9M181.5 74.6h.9M165.2 98.3h.9M172.6 94.5h.9M180.3 87.8h.9M176.8 79.5h.9M172.9 93.6h.9M165.8 83.1h.9M184.9 87.6h.9M173.8 93.3h.9M175.7 75.0h.9M183.8 92.7h.9M185.4 88.2h.9M186.7 84.3h.9M184.0 73.2h.9M187.6 74.3h.9M167.0 84.9h.9M178.2 73.3h.9M179.4 63.8h.9M187.2 76.9h.9M165.6 95.2h.9M180.0 80.6h.9M178.0 76.3h.9M173.4 92.2h.9M173.4 79.6h.9M163.9 95.4h.9M169.1 79.9h.9M181.0 77.0h.9M182.8 80.7h.9M167.1 78.0h.9M197.2 62.9h.9M190.3 82.5h.9M171.6 79.9h.9M171.7 87.4h.9M170.5 79.2h.9M180.4 93.5h.9M192.0 84.3h.9M181.9 77.8h.9M173.5 58.4h.9M158.5 87.9h.9M178.3 86.7h.9M178.3 84.7h.9M181.2 72.6h.9M181.2 69.6h.9M169.3 83.4h.9M175.5 78.2h.9M182.9 86.4h.9M178.1 86.6h.9M182.9 66.5h.9M166.1 87.7h.9M172.8 74.4h.9M165.8 94.6h.9M185.3 77.6h.9M173.6 95.9h.9M172.4 93.5h.9M174.6 79.6h.9M175.8 75.1h.9M173.9 86.0h.9M180.4 85.9h.9M167.9 76.7h.9M173.9 70.1h.9M188.8 63.4h.9M175.3 65.3h.9M189.1 74.9h.9M185.4 83.3h.9M174.4 80.0h.9M177.5 90.7h.9M169.1 79.7h.9M171.5 73.3h.9M179.0 80.3h.9M177.6 103.3h.9M179.2 93.2h.9M194.2 95.7h.9M177.3 88.1h.9M171.8 94.1h.9M168.3 81.9h.9M172.1 92.7h.9M170.5 90.0h.9M190.7 66.2h.9M161.2 89.5h.9M180.5 71.4h.9M166.8 73.3h.9M173.2 104.5h.9M168.2 69.1h.9M188.1 94.0h.9M179.7 95.5h.9M184.0 73.7h.9M199.1 74.8h.9M159.2 80.1h.9M191.0 65.4h.9M173.9 82.7h.9M186.7 96.7h.9M162.4 79.2h.9M168.9 75.7h.9M183.8 75.5h.9M170.6 76.6h.9M171.4 79.0h.9M172.0 86.9h.9M172.7 85.4h.9M171.4 89.6h.9M173.0 80.1h.9M164.0 76.9h.9M156.4 107.1h.9M173.0 81.5h.9M182.4 78.9h.9M176.9 75.4h.9M178.7 64.6h.9M195.9 77.3h.9M177.5 64.4h.9M185.3 89.9h.9M176.4 58.8h.9M178.3 84.9h.9M173.0 60.7h.9M187.5 75.3h.9M182.1 84.7h.9M177.2 81.0h.9M172.3 88.1h.9M169.2 81.1h.9M183.5 77.9h.9M173.2 76.8h.9M176.6 91.1h.9M171.7 79.2h.9M188.3 101.2h.9M171.2 67.7h.9M175.1 70.5h.9M176.3 64.6h.9M177.6 94.3h.9M173.0 100.3h.9M186.9 81.5h.9M178.1 74.5h.9M192.0 74.9h.9M167.6 90.7h.9M178.9 79.1h.9M181.3 87.5h.9M179.1 84.4h.9M183.6 65.5h.9M199.5 70.6h.9M173.3 99.3h.9M183.7 101.4h.9M160.4 85.5h.9M162.1 70.8h.9M173.2 68.9h.9M179.5 83.5h.9M180.4 71.4h.9M174.1 84.3h.9M161.6 70.8h.9M184.7 80.6h.9M165.2 78.9h.9M180.2 80.3h.9M187.1 74.6h.9M179.3 72.5h.9M192.5 89.6h.9M174.8 76.5h.9M169.3 87.5h.9M160.4 75.2h.9M174.9 85.0h.9M193.6 74.0h.9M176.9 78.8h.9M173.6 62.1h.9M169.8 70.2h.9M179.7 90.4h.9M169.7 69.2h.9M171.9 73.8h.9M177.0 84.4h.9M179.8 77.9h.9M182.1 99.3h.9M184.7 79.4h.9M171.0 75.4h.9M171.8 96.6h.9M178.3 84.8h.9M170.6 76.1h.9M172.3 103.7h.9M181.7 88.4h.9M167.8 94.4h.9M171.1 86.7h.9M171.2 87.5h.9M159.9 105.5h.9M176.8 89.0h.9M185.1 82.1h.9M174.5 79.4h.9M171.7 79.0h.9M173.9 96.7h.9M161.8 86.7h.9M170.0 81.7h.9M184.9 87.8h.9M174.1 83.9h.9M177.0 97.4h.9M153.2 93.7h.9M172.0 83.7h.9M182.7 73.4h.9M168.6 61.2h.9M180.4 71.6h.9M160.8 98.3h.9M170.3 62.2h.9M177.2 77.4h.9M166.1 77.8h.9M166.0 65.2h.9M165.2 77.5h.9M200.9 58.2h.9M176.1 88.5h.9M167.7 81.5h.9M163.3 88.9h.9M166.9 102.5h.9M193.6 66.3h.9M163.3 101.2h.9M169.0 92.1h.9M163.0 65.4h.9M166.4 92.9h.9M166.8 81.4h.9M189.7 77.0h.9M176.3 76.4h.9M185.7 69.8h.9M169.0 88.2h.9M169.6 75.3h.9M164.2 94.0h.9M189.1 86.9h.9M167.6 73.6h.9M179.8 71.0h.9M167.7 101.2h.9M183.7 82.9h.9M163.9 92.5h.9M174.1 100.2h.9M158.0 77.4h.9M185.1 89.5h.9M194.1 88.3h.9M169.4 78.8h.9M175.2 89.4h.9M170.3 89.8h.9M165.2 93.4h.9M167.5 78.6h.9M182.9 74.6h.9M177.6 73.6h.9M179.7 81.0h.9M177.4 93.1h.9M172.1 93.6h.9M169.2 70.3h.9M173.4 75.4h.9M198.9 69.8h.9M190.2 64.5h.9M171.8 87.0h.9M161.4 109.1h.9M193.4 81.2h.9M171.8 68.2h.9M178.4 69.2h.9M178.8 84.0h.9M188.3 67.7h.9M158.5 102.6h.9M182.3 83.6h.9M165.0 92.1h.9M175.7 68.2h.9M176.4 97.2h.9M175.1 51.1h.9M173.9 63.3h.9M175.8 87.3h.9M170.4 105.8h.9M184.1 88.1h.9M172.6 67.3h.9M183.0 86.3h.9M192.7 68.8h.9M168.2 89.2h.9M173.9 82.9h.9M181.8 86.2h.9M188.8 77.9h.9M177.8 94.9h.9M175.9 54.2h.9M168.6 87.1h.9M175.7 71.9h.9M182.9 67.0h.9M176.6 72.0h.9M165.8 82.5h.9M154.7 85.1h.9M152.3 103.0h.9M179.5 91.9h.9M181.9 85.1h.9M165.3 74.0h.9M182.6 90.3h.9M168.4 69.7h.9M182.7 77.2h.9M182.6 89.7h.9M176.9 90.0h.9M204.2 70.1h.9M182.4 86.1h.9M177.8 77.9h.9M187.3 89.1h.9M171.9 100.5h.9M162.1 101.4h.9M170.5 85.8h.9M169.2 95.9h.9M182.8 99.4h.9M204.3 69.2h.9M172.7 84.3h.9M186.3 61.0h.9M191.3 58.5h.9M190.4 87.8h.9M186.2 83.1h.9M184.0 102.8h.9M183.6 82.7h.9M178.3 61.9h.9M178.3 79.4h.9M181.3 67.9h.9M169.4 87.9h.9M171.6 77.2h.9M180.7 104.0h.9M174.8 84.1h.9M170.0 101.8h.9M171.5 69.9h.9M195.6 85.0h.9M200.4 87.7h.9M175.3 81.5h.9M167.0 95.4h.9M167.3 82.3h.9M179.3 66.3h.9M170.8 82.1h.9M192.1 63.6h.9M175.9 79.6h.9M164.9 67.0h.9M163.8 97.3h.9M183.3 93.6h.9M171.3 95.2h.9M178.9 83.8h.9M175.3 94.4h.9M182.6 79.6h.9M179.3 89.2h.9M185.1 90.1h.9M181.7 88.2h.9M172.5 80.6h.9M181.5 71.9h.9M182.3 93.2h.9M173.7 79.5h.9M188.9 82.3h.9M172.7 81.6h.9M163.1 85.0h.9M175.8 83.5h.9M169.6 76.4h.9M182.5 99.6h.9M185.7 69.0h.9M188.5 98.3h.9M172.8 74.3h.9M190.8 90.5h.9M178.2 84.3h.9M151.2 92.7h.9M196.3 63.3h.9M162.5 85.1h.9M173.9 88.1h.9M169.9 81.6h.9M173.5 74.2h.9M174.9 82.1h.9M170.9 102.8h.9M189.3 67.6h.9M170.0 98.7h.9M169.9 93.8h.9M166.0 86.2h.9M162.5 85.3h.9M158.4 90.1h.9M193.4 62.3h.9M178.6 81.1h.9M174.0 86.9h.9M183.7 74.0h.9M178.1 88.1h.9M159.6 100.5h.9M180.3 85.4h.9M171.2 73.0h.9M187.6 80.8h.9M182.7 82.1h.9M184.4 76.5h.9M175.1 72.0h.9M176.5 83.9h.9M156.6 91.5h.9M184.9 94.3h.9M165.8 95.3h.9M177.5 73.3h.9M176.3 86.4h.9M178.8 88.6h.9M175.5 66.7h.9M175.0 64.2h.9M179.6 82.7h.9M186.5 88.4h.9M183.6 76.1h.9M176.3 95.9h.9M171.9 85.4h.9M183.3 68.8h.9M185.2 79.0h.9M181.5 83.3h.9M193.3 69.4h.9M171.2 67.3h.9M180.8 65.5h.9M174.9 97.2h.9M184.5 70.5h.9M166.6 75.1h.9M168.7 63.9h.9M163.7 62.7h.9M175.2 70.4h.9M175.9 70.8h.9M167.3 93.3h.9M180.6 88.1h.9M176.0 94.7h.9M172.6 72.3h.9M178.3 72.4h.9M176.2 82.2h.9M169.4 93.6h.9M173.0 105.5h.9M185.7 80.9h.9M203.8 57.7h.9M177.0 88.4h.9M204.5 74.8h.9M177.4 79.2h.9M168.6 93.6h.9M186.5 76.2h.9M188.1 74.8h.9M183.8 88.4h.9M192.8 74.7h.9M188.7 93.5h.9M193.6 83.1h.9M178.0 93.0h.9M185.1 77.1h.9M167.0 86.2h.9M178.5 67.2h.9M169.0 98.5h.9M173.1 93.5h.9M177.6 84.6h.9M187.7 83.1h.9M177.3 85.2h.9M187.3 69.2h.9M177.4 73.4h.9M163.0 89.0h.9M182.4 82.9h.9M166.2 92.5h.9M176.8 87.0h.9M168.9 62.1h.9M192.6 64.6h.9M166.9 78.2h.9M177.9 74.2h.9M178.8 78.6h.9M158.0 102.6h.9M170.6 80.9h.9M174.5 72.4h.9M174.4 77.9h.9M176.2 87.0h.9M195.5 80.8h.9M186.4 71.6h.9M158.7 102.4h.9M178.6 102.1h.9M162.0 78.7h.9M168.8 97.8h.9M188.9 81.8h.9M188.6 79.1h.9M183.8 78.9h.9M180.6 69.6h.9M177.4 70.0h.9M174.5 83.8h.9M184.5 89.6h.9M164.6 73.9h.9M179.1 79.8h.9M177.8 97.3h.9M169.5 91.6h.9M162.9 83.5h.9M172.0 97.8h.9M171.1 86.3h.9M171.8 80.4h.9M164.2 83.1h.9M174.7 94.9h.9M164.3 103.6h.9M178.7 82.3h.9M175.8 82.4h.9M175.9 66.5h.9M178.2 75.4h.9M176.0 65.4h.9M183.6 82.5h.9M182.6 83.2h.9M176.2 95.8h.9M176.6 76.5h.9M183.4 60.2h.9M166.4 83.1h.9M178.5 102.4h.9M185.4 82.3h.9M178.2 63.4h.9M179.1 78.6h.9M172.0 77.1h.9M166.9 104.3h.9M179.8 88.2h.9M174.1 83.4h.9M168.9 70.1h.9M161.4 94.5h.9M181.3 61.8h.9M200.3 73.6h.9M184.3 92.0h.9M171.9 100.0h.9M168.3 85.6h.9M173.1 79.2h.9M171.7 80.2h.9M174.4 98.8h.9M165.9 74.7h.9M178.8 93.2h.9M168.5 76.8h.9M181.4 91.2h.9M192.3 64.6h.9M188.3 63.8h.9M166.9 101.2h.9M171.7 86.3h.9M193.1 91.8h.9M166.6 95.2h.9M179.2 78.6h.9M165.0 106.3h.9M167.6 92.7h.9M193.6 74.4h.9M171.9 78.6h.9M176.4 72.6h.9M169.9 70.0h.9M172.2 96.6h.9M168.5 91.3h.9M175.9 86.8h.9M175.3 98.0h.9M170.2 83.7h.9M178.6 66.7h.9M176.9 73.7h.9M195.7 76.2h.9M161.3 77.3h.9M174.2 65.7h.9M182.7 89.2h.9M187.0 74.6h.9M186.4 84.2h.9M170.7 98.0h.9M172.4 90.0h.9M171.1 74.0h.9M174.3 85.6h.9M178.6 78.2h.9M170.8 76.4h.9M187.8 81.5h.9M187.8 85.6h.9M174.5 65.1h.9M181.4 86.9h.9M185.0 78.1h.9M178.5 96.5h.9M177.1 81.1h.9M186.9 65.4h.9M184.8 91.0h.9M178.6 65.9h.9M189.0 75.6h.9M184.6 51.9h.9M168.9 106.6h.9M184.4 68.4h.9M175.5 93.5h.9M172.7 77.1h.9M171.8 91.1h.9M174.7 92.5h.9M189.5 83.3h.9M182.7 79.0h.9M179.0 75.0h.9M173.8 77.3h.9M184.3 90.1h.9M187.8 86.5h.9M186.6 93.9h.9M194.5 75.3h.9M188.3 80.8h.9M185.8 81.3h.9M165.7 72.2h.9M181.0 71.5h.9M161.4 73.9h.9M179.0 67.2h.9M179.6 81.2h.9M171.4 68.0h.9M172.7 84.3h.9M167.9 89.6h.9M166.9 85.7h.9M175.8 85.6h.9M167.7 83.5h.9M171.7 77.9h.9M182.0 83.3h.9M173.3 90.4h.9M173.2 96.1h.9M173.0 94.7h.9M189.0 66.1h.9M161.3 74.7h.9M178.8 71.8h.9M182.1 75.4h.9M192.6 66.9h.9M174.6 91.9h.9M178.8 79.2h.9M187.4 82.2h.9M187.3 95.6h.9M188.9 84.5h.9M179.1 75.9h.9M186.6 73.8h.9M181.4 84.4h.9M167.5 97.8h.9M180.6 90.0h.9M173.4 79.8h.9M178.1 88.2h.9M177.8 93.9h.9M183.8 77.4h.9M166.3 93.5h.9M170.4 83.9h.9M187.6 91.1h.9M169.2 80.6h.9M176.2 87.0h.9M160.9 88.7h.9M181.7 72.8h.9M193.8 71.0h.9M183.2 58.5h.9M181.2 64.8h.9M176.1 93.2h.9M175.4 94.5h.9M191.0 62.8h.9M184.4 61.6h.9M175.5 76.4h.9M168.4 84.5h.9M170.6 102.8h.9M174.9 97.8h.9M171.2 91.7h.9M158.0 98.7h.9M174.1 87.4h.9M180.3 81.6h.9M187.2 78.3h.9M172.8 91.1h.9M165.4 86.2h.9M183.6 61.7h.9M195.1 89.9h.9M185.2 84.3h.9M186.1 99.6h.9M180.5 86.4h.9M172.1 77.2h.9M177.5 69.2h.9M170.2 98.5h.9M177.8 81.1h.9M179.9 76.7h.9M181.5 84.8h.9M160.3 85.6h.9M184.7 90.4h.9M181.2 71.1h.9M183.3 88.7h.9M171.8 87.9h.9M180.9 91.8h.9M187.1 93.9h.9M167.2 82.9h.9M180.6 74.0h.9M182.2 82.9h.9M186.3 93.0h.9M182.0 96.8h.9M178.5 73.1h.9M173.4 90.1h.9M174.8 90.1h.9M192.0 83.0h.9M159.5 88.4h.9M180.6 76.4h.9M172.3 89.4h.9M190.5 71.9h.9M186.2 85.3h.9M181.8 89.8h.9M177.8 94.8h.9M186.8 81.5h.9M167.2 80.0h.9M176.9 77.4h.9M178.7 90.3h.9M188.3 74.2h.9M170.1 78.0h.9M166.7 88.4h.9M189.0 73.5h.9M167.0 89.5h.9M177.3 97.6h.9M193.4 85.3h.9M178.7 83.1h.9M195.3 60.8h.9M183.5 78.2h.9M194.8 69.8h.9M198.3 54.9h.9M154.4 74.7h.9M180.6 75.1h.9M162.8 94.3h.9M175.2 84.8h.9M172.0 85.2h.9M178.1 95.9h.9M192.5 73.4h.9M179.4 74.3h.9M170.8 95.0h.9M178.8 92.0h.9M169.7 87.1h.9M187.1 76.0h.9M174.8 92.3h.9M183.7 84.5h.9M167.8 77.5h.9M178.6 88.0h.9M166.2 87.6h.9M183.5 76.8h.9M179.0 78.4h.9M173.9 94.4h.9M168.0 103.1h.9M173.9 105.0h.9M161.9 109.5h.9M186.2 87.6h.9M176.8 76.4h.9M177.9 87.5h.9M186.9 70.2h.9M178.5 80.3h.9M174.5 84.7h.9M173.8 96.5h.9M178.5 82.1h.9M176.0 97.4h.9M168.5 96.2h.9M189.6 93.0h.9M188.4 90.0h.9M169.0 90.8h.9M189.4 72.1h.9M176.3 73.9h.9M195.1 70.8h.9M176.5 85.1h.9M176.2 88.9h.9M179.8 86.9h.9M161.2 71.1h.9M175.4 93.2h.9M187.4 90.4h.9M165.7 58.5h.9M170.9 100.8h.9M183.8 65.6h.9M165.1 85.6h.9M187.8 97.9h.9M168.5 98.1h.9M168.6 83.6h.9M173.9 84.0h.9M173.7 68.6h.9M166.1 104.0h.9M180.1 71.9h.9M179.0 105.4h.9M181.8 78.5h.9M169.3 91.7h.9M177.3 68.2h.9M171.6 81.1h.9M182.9 69.8h.9M176.0 96.1h.9M191.0 89.0h.9M181.0 75.6h.9M190.2 73.0h.9M166.3 76.1h.9M193.8 82.5h.9M173.4 91.7h.9M161.1 86.6h.9M172.9 70.3h.9M179.2 74.0h.9M180.5 93.2h.9M179.7 78.8h.9M168.3 85.9h.9M181.3 82.5h.9M185.2 76.7h.9M162.2 92.0h.9M190.9 60.8h.9M184.2 73.9h.9M181.6 80.4h.9M175.7 98.5h.9M171.1 75.6h.9M176.9 50.0h.9M182.2 76.0h.9M176.8 74.4h.9M175.2 60.9h.9M191.2 68.3h.9M193.0 65.8h.9M185.7 76.2h.9M180.5 88.6h.9M164.5 92.2h.9M179.6 71.4h.9M185.8 77.6h.9M177.5 81.7h.9M171.2 85.2h.9M158.0 86.8h.9M178.8 87.0h.9M176.7 72.1h.9M169.3 90.6h.9M179.1 57.7h.9M164.9 89.5h.9M178.3 101.3h.9M181.6 82.6h.9M179.0 72.5h.9M184.9 77.7h.9M183.5 68.9h.9M180.0 85.0h.9M177.3 53.8h.9M180.5 72.6h.9M177.3 84.6h.9M169.3 105.6h.9M170.0 86.5h.9M176.8 93.1h.9M172.1 88.8h.9M183.4 94.6h.9M167.0 65.8h.9M176.9 93.6h.9M175.2 78.2h.9M157.4 108.7h.9M180.8 68.0h.9M169.7 85.1h.9M181.1 79.5h.9M180.2 78.4h.9M169.9 77.7h.9M168.6 78.5h.9M165.0 88.2h.9M166.0 72.8h.9M171.0 72.8h.9M167.2 97.0h.9M162.0 80.8h.9M182.9 68.9h.9M192.4 72.8h.9M180.2 78.7h.9M174.0 84.7h.9M167.7 87.5h.9M182.7 90.5h.9M176.4 84.8h.9M179.1 79.0h.9M171.2 88.1h.9M187.8 65.7h.9M180.8 82.4h.9M187.1 88.6h.9M177.4 66.2h.9M166.1 84.8h.9M174.8 85.4h.9M192.7 64.8h.9M170.1 96.8h.9M190.2 71.0h.9M182.1 71.1h.9M169.2 83.3h.9M185.7 64.4h.9M171.4 78.4h.9M186.2 77.0h.9M174.2 79.4h.9M181.4 76.7h.9M175.1 82.3h.9M182.4 66.6h.9M180.9 76.0h.9M176.3 97.3h.9M173.8 88.9h.9M180.9 80.1h.9M177.3 75.9h.9M181.3 73.4h.9M189.4 88.3h.9M171.1 86.1h.9M169.2 88.0h.9M176.1 95.1h.9M152.9 106.9h.9M176.4 80.8h.9M179.7 87.7h.9M177.6 69.5h.9M181.4 88.7h.9M173.1 64.9h.9M175.7 96.6h.9M164.1 89.2h.9M179.4 80.9h.9M173.5 86.0h.9M183.7 85.3h.9M175.7 75.6h.9M175.9 75.8h.9M174.7 82.5h.9M188.6 83.0h.9M172.8 83.7h.9M166.0 92.5h.9M176.2 81.6h.9M177.6 74.9h.9M167.0 77.5h.9M180.6 79.1h.9M177.1 85.9h.9M167.8 107.6h.9M176.8 80.1h.9M179.6 83.6h.9M188.2 84.7h.9M187.1 73.5h.9M166.5 82.7h.9M176.8 90.2h.9M195.3 84.3h.9M170.6 87.7h.9M174.7 74.5h.9M175.7 84.8h.9M178.1 64.3h.9M178.2 73.5h.9M174.5 76.0h.9M179.3 91.8h.9M162.2 74.5h.9M181.3 82.5h.9M179.0 82.2h.9M166.6 77.4h.9M195.0 59.5h.9M182.4 78.4h.9M177.4 78.4h.9M161.3 90.9h.9M169.8 77.8h.9M179.4 84.4h.9M174.1 88.9h.9M186.1 69.4h.9M178.1 94.4h.9M168.3 105.0h.9M179.2 70.1h.9M183.0 86.7h.9M189.1 74.2h.9M167.5 85.1h.9M168.4 85.1h.9M174.8 80.8h.9M167.9 79.9h.9M159.9 79.0h.9M175.4 75.9h.9M171.3 99.3h.9M173.8 73.9h.9M172.5 80.0h.9M146.4 93.5h.9M160.6 73.5h.9M165.8 89.1h.9M164.2 95.6h.9M172.0 93.3h.9M170.3 93.6h.9M188.9 50.3h.9M191.6 70.3h.9M173.8 87.2h.9M175.5 87.1h.9M192.5 83.6h.9M174.2 83.6h.9M181.0 65.3h.9M175.6 81.4h.9M179.1 77.1h.9M183.2 71.0h.9M180.0 63.7h.9M186.5 78.0h.9M174.5 87.0h.9M180.7 69.3h.9M180.3 94.4h.9M182.3 66.0h.9M178.4 84.3h.9M181.0 84.5h.9M194.9 73.6h.9M183.6 71.0h.9M181.3 91.4h.9M177.3 94.1h.9M168.6 94.0h.9M182.5 95.1h.9M172.1 69.5h.9M191.5 77.5h.9M167.5 92.9h.9M178.4 86.3h.9M158.7 85.4h.9M178.3 75.7h.9M175.5 85.5h.9M180.4 80.1h.9M177.8 93.5h.9M183.2 77.3h.9M168.4 78.3h.9M173.9 82.7h.9M163.7 85.8h.9M179.6 81.4h.9M186.3 81.6h.9M175.2 66.5h.9M184.1 81.9h.9M174.7 77.1h.9M173.7 91.0h.9M180.6 77.5h.9M182.1 82.2h.9M170.8 80.7h.9M176.8 76.0h.9M177.1 87.3h.9M180.3 73.4h.9M182.1 89.4h.9M188.0 92.0h.9M181.4 85.2h.9M172.2 75.3h.9M179.3 85.1h.9M175.9 86.0h.9M173.4 75.9h.9M181.5 81.0h.9M150.0 79.3h.9M180.3 92.3h.9M172.1 96.1h.9M170.1 87.2h.9M180.7 83.3h.9M177.9 68.5h.9M167.0 79.2h.9M166.9 77.2h.9M175.9 84.3h.9M173.9 73.2h.9M165.2 68.9h.9M179.8 78.8h.9M166.6 92.2h.9M186.8 85.7h.9M163.7 97.5h.9M178.4 97.0h.9M167.5 83.6h.9M185.9 75.1h.9M162.3 104.6h.9M180.1 104.8h.9M180.0 67.7h.9M174.5 100.8h.9M173.6 87.6h.9M169.1 86.1h.9M155.0 102.6h.9M188.0 65.1h.9M165.4 94.6h.9M170.5 77.9h.9M170.6 77.7h.9M172.9 66.8h.9M192.0 83.8h.9M178.4 82.4h.9M159.9 101.9h.9M185.9 74.3h.9M186.0 71.3h.9M163.2 89.6h.9M190.8 83.5h.9M178.4 69.2h.9M173.4 83.4h.9M192.0 79.8h.9M182.3 77.7h.9M177.6 77.3h.9M190.6 72.1h.9M187.5 82.8h.9M180.3 68.9h.9M174.8 87.4h.9M179.6 75.2h.9M184.6 69.6h.9M193.1 56.6h.9M174.8 99.0h.9M169.2 89.1h.9M171.4 85.6h.9M176.6 80.9h.9M202.0 52.4h.9M179.7 89.9h.9M186.7 75.4h.9M159.5 78.6h.9M187.2 65.0h.9M180.5 75.6h.9M190.2 81.5h.9M178.8 58.3h.9M173.5 67.4h.9M179.9 76.4h.9M186.8 70.3h.9M176.4 99.3h.9M172.7 106.4h.9M188.6 88.6h.9M185.0 96.3h.9M164.2 72.5h.9M184.6 71.4h.9M172.3 87.0h.9M163.6 87.9h.9M187.2 79.1h.9M177.1 83.2h.9M175.9 100.4h.9M182.6 75.3h.9M186.5 65.5h.9M163.3 79.8h.9M180.0 90.8h.9M167.1 96.7h.9M173.3 94.2h.9M179.7 63.9h.9M187.0 80.9h.9M182.7 87.2h.9M171.2 73.0h.9M173.3 85.6h.9M162.8 90.1h.9M168.7 75.1h.9M175.7 88.2h.9M174.9 76.1h.9M180.1 64.4h.9M167.5 93.4h.9M164.0 91.7h.9M174.3 80.0h.9M183.3 82.8h.9M193.4 65.0h.9M172.8 89.4h.9M174.9 82.5h.9M173.2 89.6h.9M182.6 74.7h.9M173.8 93.4h.9M178.0 83.6h.9M176.6 75.9h.9M186.4 63.2h.9M168.6 90.8h.9M187.8 76.9h.9M176.8 84.7h.9M178.7 89.8h.9M171.6 79.0h.9M167.3 99.9h.9M182.4 75.6h.9M160.8 89.0h.9M168.5 94.9h.9M169.8 104.7h.9M185.5 86.2h.9M167.3 93.8h.9M172.1 82.9h.9M162.5 86.3h.9M164.0 72.9h.9M159.1 80.0h.9M184.5 73.1h.9M175.9 77.4h.9M179.3 71.3h.9M188.8 66.5h.9M177.2 93.3h.9M184.9 86.7h.9M180.4 90.7h.9M174.8 86.5h.9M164.1 65.3h.9M172.4 88.4h.9M152.8 94.7h.9M165.9 87.3h.9M171.1 79.2h.9M174.6 85.9h.9M172.8 91.7h.9M182.3 92.0h.9M173.0 87.1h.9M169.1 94.3h.9M172.4 85.4h.9M161.2 64.9h.9M165.5 85.1h.9M184.3 96.5h.9M189.9 73.0h.9M180.3 83.3h.9M183.8 71.0h.9M185.1 89.4h.9M166.7 104.8h.9M193.1 87.3h.9M177.0 81.4h.9M179.2 85.4h.9M169.1 87.5h.9M189.5 88.6h.9M170.6 100.0h.9M173.8 84.5h.9M167.7 90.8h.9M173.2 82.2h.9M180.6 76.7h.9M173.1 80.6h.9M177.6 82.3h.9M175.3 75.7h.9M182.1 84.0h.9M171.8 94.2h.9M178.1 80.0h.9M171.9 104.8h.9M181.8 73.2h.9M180.6 69.2h.9M195.9 57.5h.9M187.5 57.3h.9M170.1 104.2h.9M178.7 60.4h.9M172.2 54.0h.9M186.1 64.2h.9M195.1 70.4h.9M174.2 74.1h.9M165.3 105.1h.9M192.3 91.9h.9M158.4 90.0h.9M171.0 79.4h.9M151.8 88.4h.9M159.4 73.3h.9M166.2 91.5h.9M191.3 83.4h.9M175.7 76.7h.9M165.8 87.8h.9M168.7 89.4h.9M174.3 93.1h.9M161.4 81.4h.9M156.7 100.9h.9M154.4 96.4h.9M178.7 73.1h.9M162.2 90.0h.9M160.7 72.8h.9M184.9 73.9h.9M163.7 64.1h.9M164.7 78.0h.9M155.8 101.5h.9M169.1 80.9h.9M182.9 80.1h.9M206.9 60.7h.9M188.3 61.8h.9M172.3 89.8h.9M171.4 79.9h.9M186.3 88.7h.9M186.6 76.5h.9M168.2 86.0h.9M177.2 82.9h.9M203.3 89.0h.9M196.7 84.8h.9M149.7 77.8h.9M183.8 88.8h.9M161.7 82.4h.9M165.3 73.3h.9M187.1 63.5h.9M189.2 92.0h.9M182.9 90.3h.9M181.2 55.0h.9M197.7 84.4h.9M179.2 50.2h.9M188.6 85.7h.9M193.4 55.8h.9M204.6 71.1h.9M172.8 89.1h.9M176.5 76.1h.9M171.1 75.5h.9M178.2 59.2h.9M171.2 72.9h.9M151.1 74.7h.9M176.3 89.3h.9M162.8 92.1h.9M186.4 52.6h.9M163.2 90.6h.9M177.5 68.9h.9M176.8 75.8h.9M189.8 54.1h.9M179.2 101.3h.9M175.0 73.0h.9M161.9 94.3h.9M189.6 62.3h.9M183.5 98.0h.9M187.7 75.8h.9M191.0 82.0h.9M177.4 83.3h.9M185.9 63.4h.9M151.5 48.8h.9M168.7 89.1h.9M177.2 73.0h.9M179.7 80.2h.9M193.1 62.3h.9M177.0 79.8h.9M192.8 58.2h.9M194.7 64.2h.9M171.0 101.1h.9M177.1 70.0h.9M187.0 73.4h.9M180.7 65.9h.9M197.9 40.1h.9M181.9 64.4h.9M153.6 84.2h.9M197.3 65.3h.9M187.2 64.4h.9M176.2 80.5h.9M194.0 74.6h.9M153.5 90.3h.9M188.7 81.2h.9M171.9 68.5h.9M189.5 78.5h.9M190.8 67.2h.9M168.4 78.4h.9M177.4 90.0h.9M175.0 97.4h.9M201.5 65.3h.9M179.8 92.4h.9M194.7 73.6h.9M164.3 74.8h.9M157.8 88.9h.9M192.2 67.9h.9M187.5 72.9h.9M183.0 77.0h.9M168.9 88.3h.9M175.7 95.2h.9M194.1 73.5h.9M172.5 87.0h.9M179.7 104.0h.9M157.6 77.6h.9M172.1 83.0h.9M183.7 77.2h.9M195.0 85.5h.9M175.2 81.9h.9M176.2 93.8h.9M170.5 97.8h.9M179.5 78.8h.9M189.0 40.5h.9M164.1 89.3h.9M194.0 64.5h.9M140.4 109.6h.9M171.8 81.7h.9M178.2 73.3h.9M184.5 83.4h.9M190.8 71.6h.9M189.9 73.0h.9M168.1 76.9h.9M170.3 75.0h.9M196.7 75.7h.9M202.1 59.0h.9M165.4 83.2h.9M173.8 98.6h.9M196.2 65.5h.9M166.8 79.2h.9M178.0 90.9h.9M169.1 55.2h.9M167.5 78.3h.9M193.2 53.7h.9M200.7 45.6h.9M138.1 77.6h.9M165.4 77.7h.9M174.8 66.7h.9M171.0 86.4h.9M175.5 59.2h.9M192.1 81.0h.9M194.5 65.8h.9M157.7 68.7h.9M165.7 92.2h.9M179.4 74.1h.9M177.4 55.8h.9M167.3 86.8h.9M180.9 72.0h.9M178.5 93.7h.9M176.3 77.0h.9M194.1 94.2h.9M190.7 43.6h.9M174.1 85.5h.9M175.6 103.4h.9M149.8 98.2h.9M169.3 84.6h.9M169.0 92.2h.9M162.1 84.6h.9M171.9 76.9h.9M177.0 71.9h.9M198.5 73.1h.9M183.9 90.0h.9M172.4 51.9h.9M183.7 69.1h.9M178.2 96.1h.9M177.6 105.1h.9M171.0 88.7h.9M192.0 73.5h.9M176.6 66.4h.9M173.4 87.6h.9M162.6 84.5h.9M168.2 96.2h.9M173.4 71.0h.9M178.2 55.0h.9M150.8 86.6h.9M169.0 84.9h.9M180.2 67.7h.9M186.6 83.7h.9M171.8 85.8h.9M177.9 48.2h.9M149.2 95.5h.9M204.4 66.2h.9M200.5 64.4h.9M169.9 92.3h.9M155.8 81.1h.9M189.6 61.3h.9M177.3 77.9h.9M166.7 79.3h.9M204.5 53.8h.9M187.3 81.3h.9M156.0 105.9h.9M164.1 79.6h.9M170.9 92.6h.9M182.9 88.1h.9M195.0 67.8h.9M186.3 95.6h.9M196.8 54.5h.9M150.7 103.9h.9M197.7 85.4h.9M151.7 111.6h.9M180.7 65.0h.9M175.2 67.3h.9M188.2 69.2h.9M181.5 82.3h.9M167.5 70.2h.9M172.0 89.7h.9M182.0 69.0h.9M175.1 83.1h.9M185.8 82.2h.9M163.7 89.9h.9M168.9 70.3h.9M183.8 79.6h.9M170.0 90.7h.9M172.9 72.2h.9M166.4 73.5h.9M176.7 80.2h.9M190.6 69.0h.9M185.3 79.9h.9M187.3 75.5h.9M162.5 99.8h.9M164.0 84.0h.9M165.9 60.5h.9M170.1 68.4h.9M159.4 65.3h.9M188.0 67.8h.9M159.8 71.7h.9M204.0 91.1h.9M170.7 89.6h.9M200.1 36.3h.9M174.3 86.7h.9M181.1 90.9h.9M184.0 85.6h.9M175.8 69.9h.9M166.7 101.9h.9M162.2 86.4h.9M180.9 86.9h.9M188.5 62.1h.9M178.2 73.1h.9M175.0 60.3h.9M175.3 85.5h.9M164.9 92.6h.9M173.1 59.4h.9M174.4 77.1h.9M153.3 92.2h.9M191.1 58.6h.9M199.6 76.7h.9M173.3 76.8h.9M188.7 86.9h.9M192.3 69.5h.9M190.6 59.7h.9M187.8 71.9h.9M186.3 88.6h.9M165.5 82.8h.9M185.5 55.4h.9M180.7 71.1h.9M195.3 76.0h.9M165.6 88.3h.9M181.4 70.1h.9M178.3 77.4h.9M191.9 54.3h.9M198.6 54.2h.9M161.8 79.3h.9M171.1 75.9h.9M202.0 83.0h.9M172.4 93.0h.9M186.1 75.4h.9M183.9 78.9h.9M187.1 66.0h.9M170.4 63.1h.9M166.5 105.6h.9M174.3 57.6h.9M178.8 62.8h.9M171.9 59.6h.9M187.5 67.9h.9M156.9 69.4h.9M169.7 71.1h.9M186.6 62.4h.9M191.3 74.2h.9M167.8 85.0h.9M200.0 82.4h.9M160.9 104.9h.9M188.1 83.2h.9M157.8 93.1h.9M157.0 100.3h.9M161.8 88.5h.9M173.4 75.7h.9M186.3 85.6h.9M185.3 64.3h.9M168.1 81.8h.9M143.4 94.0h.9M144.7 106.3h.9M181.0 102.2h.9M160.3 74.9h.9M182.2 74.2h.9M180.1 92.4h.9M178.1 103.2h.9M196.8 72.7h.9M198.3 56.4h.9M174.6 51.4h.9M167.7 89.8h.9M153.7 79.6h.9M190.5 61.5h.9M185.9 69.9h.9M182.0 67.5h.9M201.4 72.3h.9M171.5 65.4h.9M174.6 90.4h.9M177.5 82.5h.9M181.2 71.9h.9M189.1 38.0h.9M193.9 64.0h.9M163.2 92.8h.9M190.5 82.6h.9M187.6 78.0h.9M162.0 74.2h.9M176.3 83.6h.9M181.8 55.6h.9M203.7 71.2h.9M149.3 88.9h.9M152.2 92.4h.9M165.1 91.4h.9M160.7 87.5h.9M173.0 74.1h.9M171.9 83.5h.9M172.7 98.5h.9M173.1 83.2h.9M181.4 74.1h.9M170.8 88.8h.9M174.5 81.6h.9M173.2 72.3h.9M203.6 57.6h.9M163.5 78.4h.9M146.9 94.7h.9M169.1 92.9h.9M184.2 90.4h.9M168.0 90.3h.9M179.3 55.4h.9M189.4 91.9h.9M168.0 89.4h.9M180.2 87.3h.9M152.5 95.2h.9M172.4 89.6h.9M177.7 60.8h.9M166.8 97.1h.9M181.2 76.1h.9M167.9 91.7h.9M158.0 97.3h.9M185.7 67.0h.9M185.4 63.3h.9M172.7 87.8h.9M179.5 59.0h.9M175.3 84.2h.9M180.6 67.3h.9M169.2 105.7h.9M179.3 80.5h.9M167.0 97.5h.9M161.9 69.9h.9M180.3 42.2h.9M202.8 48.4h.9M166.9 76.2h.9M176.9 87.1h.9M166.3 66.5h.9M173.8 107.0h.9M201.0 84.5h.9M170.8 73.1h.9M166.6 59.4h.9M168.2 62.0h.9M168.2 95.3h.9M198.3 64.0h.9M198.3 56.7h.9M173.3 84.9h.9M189.5 62.5h.9M180.5 76.1h.9M155.1 94.3h.9M186.5 68.4h.9M155.6 69.0h.9M200.1 82.9h.9M185.4 56.4h.9M190.0 72.3h.9M175.9 74.9h.9M200.0 62.5h.9M172.3 73.3h.9M184.5 84.1h.9M181.1 47.4h.9M181.8 58.3h.9M206.6 33.6h.9M162.8 90.3h.9M142.1 70.7h.9M191.1 86.5h.9M156.3 95.1h.9M190.4 69.9h.9M188.4 59.4h.9M197.2 56.6h.9M191.9 89.8h.9M168.4 78.0h.9M168.0 67.5h.9M175.8 76.9h.9M181.3 90.3h.9M203.0 54.0h.9M159.5 79.1h.9M150.7 97.8h.9M169.6 92.7h.9M157.9 83.8h.9M170.1 53.2h.9M165.9 80.0h.9M174.8 92.2h.9M198.9 65.4h.9M176.8 82.9h.9M172.7 83.9h.9M186.9 85.8h.9M178.7 56.2h.9M195.3 75.4h.9M198.0 87.6h.9M206.1 32.2h.9M185.3 74.1h.9M161.6 94.3h.9M196.5 70.6h.9M138.9 80.0h.9M174.1 87.8h.9M183.2 63.6h.9M175.0 82.0h.9M170.7 66.3h.9M169.1 77.0h.9M172.0 74.9h.9M182.2 86.0h.9M181.0 85.8h.9M197.4 63.0h.9M169.4 77.3h.9M155.8 55.6h.9M173.6 76.0h.9M207.5 51.7h.9M187.5 71.5h.9M184.8 78.3h.9M174.6 77.0h.9M179.7 90.4h.9M203.4 48.2h.9M175.1 62.1h.9M171.8 102.0h.9M179.9 56.2h.9M163.6 84.1h.9M164.7 59.4h.9M189.3 84.3h.9M182.1 71.0h.9M166.2 107.2h.9M167.6 101.2h.9M150.4 81.7h.9M172.9 55.1h.9M154.9 108.4h.9M172.9 70.8h.9M165.2 44.3h.9M152.4 106.8h.9M165.3 68.5h.9M181.9 79.8h.9M184.2 81.2h.9M190.1 69.1h.9M172.9 93.7h.9M172.9 82.1h.9M193.7 68.8h.9M174.3 65.9h.9M155.8 76.3h.9M190.8 76.1h.9M164.3 87.6h.9M182.0 82.6h.9M172.2 71.4h.9M174.6 84.7h.9M186.4 87.3h.9M170.7 78.6h.9M192.8 94.0h.9M183.7 66.5h.9M189.9 69.9h.9M195.8 64.5h.9M163.0 82.3h.9M174.7 55.9h.9M168.0 70.3h.9M181.3 66.6h.9M192.8 74.8h.9M142.1 83.5h.9M189.2 69.0h.9M185.1 60.1h.9M187.6 90.6h.9M162.5 91.2h.9M173.5 77.0h.9M169.9 67.1h.9M194.5 51.9h.9M173.7 96.2h.9M197.0 51.9h.9M187.4 71.7h.9M198.0 70.0h.9M185.2 79.3h.9M151.7 75.4h.9M193.4 85.9h.9M186.7 85.7h.9M169.1 79.8h.9M183.9 89.2h.9M176.1 105.3h.9M197.4 69.3h.9M192.1 58.9h.9M185.7 79.7h.9M185.2 91.0h.9M192.0 75.9h.9M173.7 83.1h.9M196.2 66.3h.9M181.3 87.7h.9M176.2 75.6h.9M177.7 86.4h.9M186.6 100.6h.9M202.0 84.2h.9M204.2 81.6h.9M196.9 73.9h.9M179.3 56.8h.9M176.6 94.7h.9M206.3 86.0h.9M194.9 85.0h.9M181.0 57.7h.9M168.4 71.8h.9M154.6 68.5h.9M171.2 76.2h.9M190.4 66.9h.9M176.6 71.8h.9M171.6 90.7h.9M185.2 92.5h.9M186.0 83.0h.9M187.8 76.8h.9M167.5 80.9h.9M183.8 48.9h.9M193.1 69.6h.9M177.0 74.0h.9M179.0 89.4h.9M157.5 91.9h.9M178.0 90.2h.9M189.6 66.4h.9M186.2 64.3h.9M158.9 71.3h.9M180.8 60.7h.9M170.7 73.9h.9M166.6 76.7h.9M188.8 75.5h.9M175.8 83.2h.9M187.0 84.6h.9M159.7 93.3h.9M177.1 61.0h.9M151.3 94.2h.9M194.9 62.6h.9M155.9 82.8h.9M167.2 66.0h.9M199.5 80.5h.9M173.9 78.3h.9M179.6 80.9h.9M169.0 68.1h.9M196.6 76.5h.9M197.0 77.9h.9M168.5 85.6h.9M147.9 97.5h.9M173.3 68.8h.9M183.5 65.2h.9M185.8 63.1h.9M145.8 86.2h.9M183.7 54.7h.9M191.7 79.1h.9M174.1 90.8h.9M196.1 97.8h.9M180.6 55.0h.9M180.0 79.1h.9M173.5 68.8h.9M190.1 58.9h.9M181.7 65.3h.9M201.3 73.4h.9M188.8 97.1h.9M184.2 71.7h.9M180.9 74.9h.9M179.4 73.5h.9M197.4 50.3h.9M153.8 73.1h.9M186.7 77.5h.9M163.4 93.9h.9M187.9 96.5h.9M159.9 91.7h.9M193.3 77.4h.9M170.9 77.0h.9M183.2 77.2h.9M178.0 73.5h.9M167.9 64.2h.9M160.2 96.8h.9M181.5 83.7h.9M153.4 75.6h.9M165.6 75.5h.9M173.2 72.3h.9M163.8 104.1h.9M190.2 87.6h.9M172.6 71.9h.9M176.9 72.9h.9M184.6 84.6h.9M178.7 76.0h.9M169.3 93.3h.9M168.7 91.3h.9M182.8 53.0h.9M205.9 64.5h.9M169.4 80.0h.9M191.9 67.7h.9M182.2 78.6h.9M177.9 59.1h.9M152.7 91.7h.9M189.6 87.3h.9M204.1 59.1h.9M176.0 77.9h.9M165.0 73.0h.9M188.7 80.6h.9M168.3 94.5h.9M179.0 89.0h.9M164.9 102.1h.9M161.7 92.4h.9M183.4 73.1h.9M178.2 87.1h.9M163.8 109.4h.9M194.1 93.0h.9M177.4 84.9h.9M169.8 82.1h.9M191.1 64.8h.9M174.1 67.8h.9M175.0 78.2h.9M169.4 57.7h.9M194.7 88.4h.9M177.4 97.3h.9M187.2 85.3h.9M181.5 66.0h.9M160.2 74.6h.9M179.9 80.9h.9M153.6 95.0h.9M167.9 78.9h.9M161.1 51.7h.9M198.0 74.0h.9M173.7 85.9h.9M189.8 60.5h.9M192.2 88.8h.9M191.4 69.4h.9M160.4 85.0h.9M160.0 64.9h.9M158.3 63.7h.9M196.8 85.3h.9M173.9 83.8h.9M194.6 95.4h.9M180.7 92.7h.9M179.1 69.3h.9M187.9 63.3h.9M194.0 76.1h.9M170.0 85.6h.9M159.5 50.4h.9M187.0 72.6h.9M144.6 64.7h.9M205.6 48.0h.9M187.5 63.1h.9M188.1 76.1h.9M193.5 49.9h.9M169.4 91.8h.9M190.9 70.6h.9M167.3 75.5h.9M176.1 91.9h.9M187.4 83.1h.9M197.3 68.3h.9M172.2 68.9h.9M194.4 78.7h.9M181.1 68.4h.9M178.5 64.0h.9M167.6 99.1h.9M166.8 85.5h.9M173.5 63.3h.9M159.4 94.4h.9M180.4 64.3h.9M171.3 76.7h.9M179.2 79.6h.9M152.8 86.7h.9M168.9 77.0h.9M196.4 84.1h.9M167.9 83.5h.9M172.4 84.4h.9M161.7 89.1h.9M170.9 83.0h.9M176.6 77.2h.9M185.7 70.9h.9M162.1 86.6h.9M185.3 75.8h.9M193.6 74.6h.9M150.8 71.0h.9M176.0 62.0h.9M176.9 95.6h.9M185.3 57.7h.9M175.7 74.5h.9M178.4 94.5h.9M180.7 93.6h.9M167.1 89.8h.9M176.5 67.3h.9M176.5 95.2h.9M164.1 89.1h.9M184.5 75.0h.9M167.3 97.0h.9M168.5 75.3h.9M177.7 87.8h.9M203.2 78.4h.9M195.8 72.9h.9M181.6 76.8h.9M181.8 64.1h.9M168.7 86.0h.9M189.2 80.1h.9M171.6 88.7h.9M190.0 93.5h.9M183.1 78.9h.9M161.5 73.9h.9M200.1 54.1h.9M170.2 91.0h.9M178.3 66.7h.9M166.6 86.7h.9M201.3 62.3h.9M178.6 84.1h.9M177.8 101.2h.9M170.4 84.3h.9M203.5 53.0h.9M190.7 85.7h.9M168.1 98.2h.9M162.4 95.5h.9M171.3 71.7h.9M183.1 75.8h.9M160.2 86.8h.9M190.5 59.0h.9M186.2 85.7h.9M171.2 71.8h.9M178.3 77.3h.9M167.8 75.1h.9M155.2 92.9h.9M172.3 88.6h.9M190.5 64.5h.9M176.2 77.2h.9M165.2 85.3h.9M167.0 48.7h.9M166.4 96.3h.9M168.8 72.3h.9M178.0 46.3h.9M199.9 84.4h.9M204.1 59.1h.9M163.0 81.2h.9M174.1 64.8h.9M188.6 88.1h.9M170.6 94.1h.9M150.6 80.0h.9M155.4 104.1h.9M189.2 58.3h.9M185.9 70.3h.9M154.7 65.5h.9M201.9 75.1h.9M172.8 101.8h.9M148.2 89.5h.9M161.4 80.3h.9M143.7 102.1h.9M201.0 70.1h.9M171.4 86.4h.9M181.7 84.3h.9M152.9 95.6h.9M179.2 66.6h.9M178.9 77.2h.9M194.8 63.4h.9M189.3 59.3h.9M178.7 73.0h.9M179.6 103.6h.9M193.2 84.4h.9M162.0 97.7h.9M155.5 92.8h.9M164.5 93.7h.9M158.3 98.1h.9M163.2 88.6h.9M157.6 92.2h.9M168.3 91.4h.9M157.5 94.4h.9M173.2 90.4h.9M154.6 98.9h.9M156.9 85.9h.9M152.2 96.5h.9M154.7 97.8h.9M161.4 95.6h.9M180.2 100.3h.9M171.3 90.6h.9M165.6 92.5h.9M147.0 95.5h.9M163.3 98.4h.9M161.3 99.2h.9M161.2 87.0h.9M168.3 89.6h.9M156.5 100.6h.9M151.0 104.5h.9M160.3 98.7h.9M173.7 91.7h.9M167.1 90.6h.9M142.5 102.3h.9M161.1 98.7h.9M160.2 97.6h.9M170.2 102.7h.9M171.0 84.0h.9M153.0 105.8h.9M163.4 90.0h.9M170.0 106.7h.9M154.9 95.0h.9M157.7 95.5h.9M152.2 104.8h.9M153.4 103.2h.9M149.1 107.6h.9M156.3 94.1h.9M164.8 96.7h.9M171.1 105.0h.9M158.9 93.8h.9M153.2 99.2h.9M158.1 98.4h.9M169.5 99.5h.9M163.5 101.8h.9M159.2 89.7h.9M167.5 89.4h.9M162.3 96.4h.9M154.2 94.2h.9M156.1 93.0h.9M172.6 104.5h.9M151.8 101.1h.9M153.5 110.7h.9M159.4 106.9h.9M162.2 95.4h.9M168.1 95.6h.9M167.6 89.4h.9M156.6 97.0h.9M163.9 106.0h.9M171.2 98.4h.9M162.8 90.2h.9M162.4 102.2h.9M163.5 90.9h.9M161.8 92.1h.9M157.8 94.9h.9M163.6 97.3h.9M166.9 99.9h.9M163.2 90.9h.9M152.1 112.1h.9M162.9 100.7h.9M157.4 96.4h.9M157.5 101.2h.9M147.6 95.1h.9M156.3 101.2h.9M164.2 92.2h.9M159.9 89.8h.9M166.9 97.7h.9M169.7 88.8h.9M174.6 84.3h.9M158.3 98.5h.9M157.6 92.6h.9M154.8 95.8h.9M155.8 101.9h.9M167.6 101.4h.9M166.4 99.4h.9M160.3 97.5h.9M155.8 103.2h.9M160.7 96.5h.9M159.9 98.3h.9M160.2 91.3h.9M177.3 85.2h.9M166.0 100.9h.9M161.3 103.6h.9M149.6 104.2h.9M168.7 96.6h.9M164.1 93.3h.9M153.3 105.6h.9M150.2 96.3h.9M163.9 101.7h.9M169.8 92.2h.9M152.0 89.4h.9M148.8 101.1h.9M166.6 103.3h.9M173.8 91.0h.9M164.0 95.2h.9M170.1 99.0h.9M169.2 93.6h.9M157.3 99.0h.9M162.0 94.7h.9M155.7 103.4h.9M158.5 92.2h.9M161.5 99.9h.9M165.2 102.8h.9M180.2 98.8h.9M159.0 91.6h.9M174.6 92.9h.9M156.7 98.7h.9M161.8 97.5h.9M166.9 99.9h.9M156.6 99.3h.9M175.3 95.4h.9M161.2 90.7h.9M154.1 104.7h.9M169.3 81.4h.9M160.0 90.2h.9M169.3 107.0h.9M141.7 110.0h.9M158.3 104.2h.9M157.6 90.5h.9M153.6 101.1h.9M160.0 102.0h.9M170.9 100.4h.9M161.1 98.3h.9M165.7 98.1h.9M152.9 99.3h.9M156.0 97.9h.9M168.0 90.3h.9M158.6 102.0h.9M152.1 99.1h.9M163.1 96.0h.9M156.6 99.3h.9M162.7 86.6h.9M156.4 106.7h.9M169.4 100.2h.9M162.6 98.7h.9M151.5 100.7h.9M161.1 86.6h.9M160.3 100.3h.9M157.1 103.4h.9M163.5 102.3h.9M168.6 94.2h.9M157.3 98.9h.9M151.1 106.5h.9M154.8 106.8h.9M167.5 104.3h.9M153.8 102.1h.9M158.8 92.4h.9M161.2 95.5h.9M158.4 96.3h.9M157.0 99.3h.9M169.7 88.1h.9M163.2 87.9h.9M165.1 99.8h.9M162.5 84.0h.9M165.5 95.7h.9M166.0 98.9h.9M151.2 102.9h.9M150.3 97.9h.9M156.0 92.9h.9M158.0 95.5h.9M156.2 93.6h.9M159.8 98.7h.9M162.3 91.4h.9M167.5 90.3h.9M158.0 98.4h.9M163.5 103.1h.9M163.8 97.0h.9M157.0 103.0h.9M158.7 99.2h.9M148.3 105.4h.9M165.1 97.9h.9M154.4 110.2h.9M163.0 100.8h.9M157.9 99.7h.9M158.4 102.6h.9M164.8 104.9h.9M167.3 101.3h.9M158.6 97.7h.9M171.0 89.9h.9M140.8 101.6h.9M173.2 93.8h.9M151.8 92.5h.9M162.2 98.4h.9M173.4 94.5h.9M172.6 96.0h.9M157.6 95.3h.9M170.3 88.7h.9M161.2 96.3h.9M164.1 93.7h.9M152.7 97.3h.9M163.5 98.2h.9M163.5 100.7h.9M149.9 102.6h.9M151.3 86.1h.9M165.0 98.4h.9M171.9 97.7h.9M176.8 94.4h.9M161.4 90.7h.9M163.3 93.9h.9M163.6 87.0h.9M167.0 98.7h.9M162.1 104.5h.9M163.9 93.0h.9M163.5 96.3h.9M162.9 106.4h.9M156.9 100.9h.9M150.0 99.9h.9M171.3 94.1h.9M160.2 98.4h.9M154.0 99.9h.9M162.7 98.2h.9M159.5 104.0h.9M160.9 98.7h.9M180.0 91.5h.9M170.9 90.0h.9M143.7 107.0h.9M175.7 96.7h.9M164.1 94.0h.9M164.1 99.4h.9M155.6 100.0h.9M151.3 98.3h.9M154.9 97.5h.9M154.6 97.4h.9M167.9 101.2h.9M164.9 87.3h.9M156.5 98.5h.9M163.3 94.6h.9M144.4 102.2h.9M163.2 96.6h.9M166.9 92.8h.9M155.3 95.5h.9M150.6 97.3h.9M162.8 97.8h.9M135.6 103.9h.9M166.2 108.6h.9M167.9 98.9h.9M155.6 92.1h.9M156.0 95.1h.9M156.2 91.3h.9M149.5 90.4h.9M165.7 101.5h.9M156.7 97.9h.9M161.3 94.3h.9M143.4 108.8h.9M159.0 94.0h.9M165.7 97.4h.9M162.7 91.0h.9M163.5 93.1h.9M158.5 95.8h.9M160.1 93.1h.9M153.3 102.8h.9M163.8 96.8h.9M156.9 90.4h.9M166.8 103.0h.9M161.1 104.0h.9M161.1 88.0h.9M169.3 99.4h.9M165.2 89.4h.9M153.2 100.8h.9M163.3 97.7h.9M159.6 96.1h.9M157.4 95.2h.9M163.1 99.5h.9M167.2 91.5h.9M170.4 95.0h.9M159.7 103.6h.9M157.2 105.7h.9M154.2 97.0h.9M152.4 97.4h.9M146.8 108.4h.9M153.7 94.6h.9M157.4 106.5h.9M169.5 87.8h.9M162.2 92.3h.9M170.8 96.6h.9M166.5 101.4h.9M175.5 84.4h.9M151.1 99.2h.9M151.9 100.1h.9M155.3 104.4h.9M161.6 92.0h.9M165.3 101.0h.9M159.2 94.2h.9M135.3 105.1h.9M194.4 56.8h.9M197.0 44.0h.9M179.5 41.8h.9M174.6 53.9h.9M204.8 55.2h.9M202.7 47.0h.9M185.9 75.7h.9M182.0 59.8h.9M201.4 40.9h.9M179.9 57.7h.9M203.8 50.2h.9M200.9 46.7h.9M178.3 39.7h.9M179.0 78.1h.9M171.6 53.0h.9M191.4 56.1h.9M203.9 44.7h.9M188.7 43.2h.9M183.7 35.8h.9M187.7 39.0h.9M187.7 49.3h.9M173.5 66.0h.9M182.7 49.7h.9M193.4 46.7h.9M198.4 38.5h.9M205.3 38.0h.9M207.2 40.9h.9M165.8 55.8h.9M178.8 59.6h.9M173.5 64.3h.9M188.1 49.4h.9M161.1 56.4h.9M182.1 63.6h.9M190.3 47.2h.9M186.7 70.1h.9M168.0 69.4h.9M186.1 49.2h.9M196.2 82.5h.9M170.0 47.2h.9M173.7 61.9h.9M194.6 60.0h.9M184.3 57.9h.9M191.8 62.2h.9M199.7 74.4h.9M200.0 52.7h.9M193.1 62.0h.9M198.7 36.5h.9M182.0 61.1h.9M193.8 51.3h.9M156.3 59.5h.9M176.5 73.9h.9M200.9 48.5h.9M197.7 62.2h.9M203.1 51.1h.9M198.6 45.8h.9M181.3 61.5h.9M177.6 57.6h.9M174.6 63.0h.9M193.2 45.4h.9M181.6 48.2h.9M180.1 62.4h.9M170.5 51.5h.9M197.3 37.5h.9M195.6 42.0h.9M192.4 67.5h.9M181.7 75.8h.9M198.7 49.6h.9M197.1 51.6h.9M182.1 57.0h.9M202.2 40.5h.9M194.7 49.8h.9M189.8 42.6h.9M194.8 70.6h.9M197.5 38.6h.9M183.4 57.6h.9M198.3 46.9h.9M191.5 48.0h.9M181.9 45.7h.9M171.3 71.3h.9M186.4 41.9h.9M179.0 66.5h.9M179.8 42.3h.9M198.8 46.1h.9M171.6 41.2h.9M197.5 45.7h.9M158.4 79.9h.9M181.3 40.4h.9M181.2 59.1h.9M185.6 35.0h.9M189.8 53.4h.9M183.6 56.8h.9M180.2 54.3h.9M202.2 63.9h.9M199.8 52.9h.9M195.7 43.9h.9M169.7 57.6h.9M167.4 44.4h.9M194.6 38.5h.9M186.3 68.8h.9M194.9 43.0h.9M173.5 46.4h.9M195.5 67.6h.9M172.3 64.6h.9M183.9 43.7h.9M190.3 47.0h.9M182.8 62.5h.9M202.9 48.9h.9M175.3 60.4h.9M189.4 50.8h.9M203.5 36.4h.9M198.2 74.2h.9M184.0 54.6h.9M194.4 56.4h.9M174.0 57.9h.9M191.8 60.6h.9M197.1 57.4h.9M186.4 52.2h.9M191.1 55.3h.9M178.3 62.5h.9M192.1 37.2h.9M202.8 48.1h.9M186.2 55.3h.9M173.6 66.9h.9M197.0 56.0h.9M173.4 56.5h.9M171.3 85.9h.9M197.5 39.1h.9M181.8 66.3h.9M200.1 79.2h.9M196.5 77.8h.9M176.6 58.0h.9M169.1 67.3h.9M185.1 69.6h.9M189.6 40.6h.9M192.9 55.2h.9M177.1 70.4h.9M178.7 82.0h.9M188.5 43.7h.9M183.0 52.7h.9M195.2 58.9h.9M193.8 64.2h.9M186.9 41.9h.9M192.5 50.6h.9M189.8 53.0h.9M161.2 71.6h.9M186.3 49.2h.9M207.1 53.6h.9M198.6 63.0h.9M161.1 75.7h.9M187.0 54.5h.9M172.4 53.6h.9M189.9 65.4h.9M174.6 34.4h.9M190.7 45.3h.9M176.2 60.3h.9M203.1 46.4h.9M190.8 64.4h.9M196.3 62.8h.9M168.8 50.1h.9M192.7 62.8h.9M199.7 65.3h.9M197.7 54.9h.9M198.7 41.7h.9M184.5 43.1h.9M201.2 42.3h.9M179.0 56.5h.9M191.6 36.1h.9M171.5 56.7h.9M164.3 58.0h.9M191.1 63.1h.9M173.8 66.9h.9M182.9 38.0h.9M179.0 65.2h.9M188.6 47.9h.9M186.1 58.8h.9M160.0 55.5h.9M176.3 62.0h.9M186.1 52.9h.9M195.0 59.6h.9M174.2 49.2h.9M187.8 54.4h.9M185.1 60.3h.9M197.2 61.4h.9" stroke="#000" stroke-width="1.0" fill="none"/>
<path d="M16.3 237.9V148.5H109.8V237.9" fill="none" stroke="#222" stroke-width="1.1"/><path d="M16.3 237.9H109.8" fill="none" stroke="#555" stroke-width="0.9"/><path d="M14.3 171.1H16.3" stroke="#222" stroke-width="1.1"/><path d="M38.900000000000006 237.9V239.70000000000002" stroke="#333" stroke-width="1.1"/><path d="M14.3 193.1H16.3" stroke="#222" stroke-width="1.1"/><path d="M62.900000000000006 237.9V239.70000000000002" stroke="#333" stroke-width="1.1"/><path d="M14.3 215.1H16.3" stroke="#222" stroke-width="1.1"/><path d="M86.9 237.9V239.70000000000002" stroke="#333" stroke-width="1.1"/><path d="M15.5 150.5V237.9" stroke="#666" stroke-width="0.8" stroke-dasharray="0.8 2.6" fill="none"/><path d="M16.3 238.6H109.8" stroke="#666" stroke-width="0.7" stroke-dasharray="0.8 2.6" fill="none"/><path d="M36.4 176.6h.9M23.8 182.9h.9M19.5 183.9h.9M26.7 179.7h.9M27.7 179.6h.9M35.6 185.5h.9M33.2 178.3h.9M46.3 178.5h.9M35.7 180.0h.9M40.4 174.0h.9M24.8 185.2h.9M50.2 180.6h.9M23.6 175.4h.9M43.9 180.8h.9M33.2 177.8h.9M25.1 179.2h.9M33.7 183.0h.9M32.7 185.0h.9M19.8 177.1h.9M23.7 184.6h.9M25.1 176.3h.9M33.3 178.9h.9M29.7 179.9h.9M33.7 183.0h.9M18.7 177.2h.9M43.9 182.0h.9M30.5 181.3h.9M36.7 181.3h.9M38.5 184.1h.9M54.0 179.8h.9M35.2 180.9h.9M30.2 181.6h.9M33.7 181.7h.9M46.9 183.7h.9M36.3 175.5h.9M37.9 182.2h.9M22.5 183.7h.9M26.5 177.3h.9M25.3 179.4h.9M26.6 179.5h.9M35.5 177.1h.9M43.8 187.8h.9M21.6 181.7h.9M27.3 173.4h.9M32.6 180.6h.9M19.9 176.0h.9M27.7 179.1h.9M30.0 177.4h.9M26.8 180.1h.9M46.6 185.3h.9M19.9 176.1h.9M34.4 186.3h.9M27.9 185.1h.9M27.1 183.3h.9M31.1 185.0h.9M35.1 179.2h.9M38.3 182.7h.9M25.3 177.5h.9M21.7 177.7h.9M39.2 174.6h.9M24.2 176.0h.9M17.7 179.9h.9M23.2 175.4h.9M35.0 181.1h.9M23.4 175.4h.9M26.8 177.2h.9M22.5 178.9h.9M32.3 181.8h.9M19.4 178.7h.9M18.9 176.1h.9M27.4 176.3h.9M28.0 177.0h.9M29.3 182.2h.9M38.8 174.9h.9M31.2 182.0h.9M27.9 177.0h.9M22.3 178.7h.9M23.1 176.8h.9M25.5 183.8h.9M35.8 179.6h.9M24.1 181.5h.9M26.6 179.5h.9M43.8 181.1h.9M41.4 181.2h.9M50.4 186.3h.9M37.5 179.6h.9M21.8 181.8h.9M35.8 184.5h.9M23.3 181.5h.9M33.0 180.3h.9M36.2 181.2h.9M35.5 184.4h.9M29.5 180.8h.9M26.9 181.0h.9M42.3 185.2h.9M29.1 178.2h.9M38.7 178.4h.9M35.4 180.5h.9M37.6 181.0h.9M28.8 177.7h.9M26.9 180.3h.9M31.2 182.4h.9M17.7 179.1h.9M37.5 182.4h.9M49.2 181.9h.9M31.6 181.3h.9M43.6 179.5h.9M39.3 178.9h.9M24.9 179.1h.9M35.2 184.3h.9M30.5 173.3h.9M39.4 182.0h.9M26.3 180.5h.9M28.2 176.9h.9M31.4 176.1h.9M38.0 177.5h.9M37.9 179.3h.9M32.6 177.4h.9M21.0 177.8h.9M41.2 183.6h.9M42.7 185.5h.9M28.0 176.4h.9M50.2 179.8h.9M42.5 184.3h.9M41.9 179.8h.9M26.5 179.6h.9M28.6 178.9h.9M24.7 176.3h.9M26.1 175.5h.9M29.6 175.9h.9M32.6 181.9h.9M20.4 173.1h.9M38.0 177.0h.9M20.5 176.2h.9M24.9 177.7h.9M43.8 181.0h.9M41.0 182.9h.9M23.4 183.7h.9M39.7 185.6h.9M22.9 173.3h.9M40.2 181.5h.9M43.0 180.1h.9M29.3 181.7h.9M38.4 180.2h.9M39.3 181.6h.9M25.2 179.6h.9M20.7 181.6h.9M27.6 183.4h.9M42.2 180.4h.9M46.9 180.7h.9M35.1 182.8h.9M35.2 177.9h.9M32.0 179.4h.9M26.7 176.6h.9M44.8 175.4h.9M21.1 174.9h.9M35.5 176.4h.9M23.4 177.4h.9M20.3 176.7h.9M28.3 182.1h.9M22.8 175.3h.9M34.4 179.7h.9M47.2 183.2h.9M27.5 181.2h.9M43.4 181.2h.9M27.0 182.9h.9M35.6 182.3h.9M34.8 179.0h.9M44.4 179.5h.9M32.5 183.9h.9M26.0 180.2h.9M34.0 179.6h.9M30.8 182.1h.9M30.1 182.9h.9M47.4 183.6h.9M35.7 180.1h.9M34.6 182.2h.9M31.9 181.9h.9M38.1 180.9h.9M19.8 182.8h.9M34.1 180.5h.9M34.3 179.6h.9M30.6 183.8h.9M25.5 184.3h.9M17.6 174.7h.9M28.3 178.2h.9M45.6 177.2h.9M35.1 185.6h.9M30.2 179.1h.9M31.4 177.4h.9M29.5 179.4h.9M45.5 179.0h.9M31.7 182.1h.9M39.5 180.7h.9M23.5 174.0h.9M37.5 178.9h.9M33.6 178.3h.9M28.3 183.0h.9M27.7 183.0h.9M21.8 177.3h.9M28.6 178.4h.9M25.2 178.3h.9M32.2 185.5h.9M32.8 174.8h.9M29.8 180.7h.9M35.4 180.3h.9M22.0 177.5h.9M32.7 177.6h.9M28.0 179.2h.9M39.1 179.9h.9M43.0 181.7h.9M42.7 187.0h.9M44.3 176.4h.9M35.2 183.7h.9M23.7 181.2h.9M28.0 183.9h.9M46.8 181.8h.9M18.5 175.5h.9M27.8 183.7h.9M19.9 178.7h.9M21.7 175.7h.9M37.7 177.8h.9M46.8 183.5h.9M30.2 170.1h.9M34.4 179.1h.9M20.7 172.9h.9M35.3 183.6h.9M24.4 176.4h.9M33.7 175.2h.9M19.0 177.7h.9M19.5 181.7h.9M38.6 179.9h.9M25.1 180.9h.9M27.8 181.9h.9M37.1 178.3h.9M25.5 180.6h.9M40.5 180.2h.9M37.9 178.5h.9M19.7 176.1h.9M36.4 182.1h.9M30.1 180.4h.9M43.4 180.6h.9M34.2 177.5h.9M35.7 179.2h.9M23.0 185.5h.9M29.4 184.6h.9M30.0 175.0h.9M29.9 184.0h.9M18.7 176.2h.9M37.2 178.6h.9M18.0 180.4h.9M23.2 172.2h.9M31.1 179.6h.9M24.7 178.0h.9M20.4 177.0h.9M43.1 175.4h.9M19.5 181.6h.9M37.2 183.9h.9M32.1 179.6h.9M43.5 179.0h.9M29.6 180.5h.9M35.3 183.5h.9M18.2 176.5h.9M27.4 174.8h.9M27.2 176.6h.9M31.9 180.6h.9M32.5 183.5h.9M37.4 178.9h.9M27.7 179.6h.9M28.4 179.1h.9M37.4 182.5h.9M29.7 182.8h.9M19.0 178.0h.9M37.1 178.9h.9M36.6 173.9h.9M25.3 180.5h.9M30.9 183.2h.9M30.5 179.7h.9M29.6 172.6h.9M36.9 178.0h.9M23.6 181.5h.9M31.8 185.4h.9M32.6 175.5h.9M24.8 183.4h.9M29.5 181.1h.9M21.8 184.3h.9M25.0 185.1h.9M27.5 186.6h.9M42.2 183.8h.9M27.9 180.2h.9M41.3 184.2h.9M32.3 176.9h.9M36.0 179.6h.9M29.7 177.0h.9M38.3 181.8h.9M30.6 186.3h.9M33.9 182.6h.9M21.8 180.4h.9M29.6 185.1h.9M39.1 178.6h.9M45.8 180.6h.9M22.0 178.6h.9M23.5 177.1h.9M20.6 179.0h.9M34.2 185.5h.9M30.4 181.8h.9M29.2 182.2h.9M29.6 176.0h.9M27.9 181.3h.9M27.1 179.0h.9M29.3 180.6h.9M40.1 176.8h.9M24.6 181.8h.9M29.6 174.7h.9M32.9 180.9h.9M24.8 183.4h.9M26.3 182.8h.9M22.0 178.0h.9M26.3 180.4h.9M39.5 177.6h.9M26.7 179.1h.9M24.2 178.3h.9M25.4 183.3h.9M42.0 177.6h.9M26.7 183.4h.9M18.6 181.0h.9M21.7 175.6h.9M33.8 184.8h.9M35.3 179.5h.9M45.5 180.3h.9M44.2 182.0h.9M17.8 180.1h.9M29.2 178.6h.9M26.0 176.1h.9M34.0 187.1h.9M41.9 178.9h.9M42.3 184.7h.9M32.9 176.0h.9M41.1 184.2h.9M24.6 182.1h.9M31.0 182.8h.9M19.1 181.3h.9M44.8 174.5h.9M43.2 181.6h.9M43.8 177.3h.9M30.6 177.1h.9M41.5 183.7h.9M26.3 182.1h.9M22.5 184.0h.9M31.2 179.3h.9M46.0 180.1h.9M35.8 183.5h.9M24.7 184.2h.9M21.2 183.0h.9M26.3 180.0h.9M34.2 180.0h.9M39.1 181.6h.9M32.1 173.3h.9M54.4 179.0h.9M35.1 179.1h.9M19.9 177.1h.9M41.9 181.8h.9M22.0 184.5h.9M39.8 179.6h.9M34.4 184.9h.9M25.0 179.5h.9M24.9 178.2h.9M32.8 179.8h.9M35.4 179.3h.9M28.0 180.4h.9M18.1 181.7h.9M32.2 172.8h.9M44.0 179.0h.9M34.7 175.8h.9M34.3 180.3h.9M36.6 179.7h.9M32.1 177.6h.9M38.6 179.8h.9M29.1 176.3h.9M49.0 177.8h.9M27.2 174.3h.9M23.4 177.3h.9M30.3 177.2h.9M26.2 179.6h.9M28.5 173.3h.9M25.4 173.9h.9M34.0 181.6h.9M32.8 181.4h.9M29.8 179.9h.9M38.0 183.4h.9M21.8 177.4h.9M38.9 180.9h.9M37.7 180.6h.9M24.2 181.4h.9M18.6 180.3h.9M40.4 177.6h.9M26.4 185.5h.9M34.5 177.0h.9M19.4 178.5h.9M25.2 182.7h.9M39.8 179.1h.9M36.0 181.7h.9M25.9 177.8h.9M27.0 173.7h.9M28.3 180.6h.9M31.6 175.1h.9M32.4 176.4h.9M19.1 178.0h.9M33.1 179.5h.9M26.8 179.6h.9M27.0 176.5h.9M22.1 177.5h.9M24.9 180.0h.9M22.3 178.9h.9M44.1 176.9h.9M33.0 184.2h.9M34.9 180.1h.9M20.9 177.2h.9M28.7 180.4h.9M36.4 180.8h.9M22.3 182.4h.9M33.6 189.0h.9M28.5 178.6h.9M37.7 177.0h.9M25.0 170.2h.9M32.9 175.5h.9M32.8 179.7h.9M42.6 177.3h.9M20.7 177.3h.9M31.5 178.7h.9M27.9 183.1h.9M29.4 174.8h.9M19.6 180.9h.9M17.5 178.7h.9M19.3 177.6h.9M17.9 175.4h.9M28.2 175.8h.9M20.7 174.2h.9M27.9 176.0h.9M20.8 178.3h.9M18.3 180.5h.9M20.5 172.7h.9M25.0 174.6h.9M29.6 176.2h.9M25.3 172.5h.9M27.4 177.3h.9M23.7 177.4h.9M29.0 177.7h.9M28.2 179.8h.9M29.8 181.8h.9M28.0 181.2h.9M26.1 179.4h.9M27.8 180.5h.9M28.6 175.5h.9M25.8 175.0h.9M18.0 180.7h.9M22.7 180.4h.9M29.6 186.3h.9M26.0 177.5h.9M22.2 174.8h.9M28.5 179.4h.9M21.7 176.7h.9M22.1 175.1h.9M24.0 183.3h.9M25.8 185.3h.9M24.4 179.7h.9M21.3 176.0h.9M24.3 179.3h.9M21.6 178.2h.9M25.7 173.3h.9M24.3 181.4h.9M18.4 179.6h.9M25.2 182.9h.9M29.2 176.4h.9M25.1 178.3h.9M18.0 177.9h.9M24.2 172.1h.9M19.1 187.5h.9M22.4 170.8h.9M19.1 174.2h.9M28.9 177.1h.9M27.1 172.7h.9M24.4 179.9h.9M20.9 176.7h.9M18.3 178.6h.9M26.2 179.2h.9M20.1 178.7h.9M28.8 178.7h.9M28.4 177.8h.9M19.1 179.9h.9M30.0 181.3h.9M29.6 177.5h.9M18.0 176.8h.9M23.6 177.0h.9M20.8 179.5h.9M25.2 177.1h.9M27.9 177.0h.9M20.4 172.9h.9M17.9 185.4h.9M21.8 173.9h.9M19.6 184.5h.9M26.2 181.3h.9M20.8 182.2h.9M24.8 179.4h.9M18.4 180.2h.9M20.5 179.5h.9M27.0 180.6h.9M27.8 181.5h.9M24.2 184.0h.9M24.5 174.8h.9M17.7 180.2h.9M24.7 184.3h.9M24.6 183.5h.9M19.9 174.7h.9M26.4 179.6h.9M18.6 179.5h.9M23.9 179.4h.9M18.2 170.3h.9M28.0 181.6h.9M22.2 172.6h.9M70.3 199.9h.9M61.5 184.2h.9M55.3 189.8h.9M59.8 185.2h.9M59.4 179.0h.9M68.9 191.2h.9M70.6 190.9h.9M68.9 187.5h.9M60.9 186.1h.9M75.5 190.4h.9M47.9 189.5h.9M73.4 198.1h.9M70.7 196.7h.9M55.2 190.9h.9M63.5 175.5h.9M63.9 192.9h.9M50.7 181.1h.9M54.0 183.8h.9M48.6 166.2h.9M60.8 199.8h.9M60.0 186.3h.9M57.1 178.6h.9M52.4 182.9h.9M58.8 189.0h.9M52.9 190.9h.9M54.2 195.8h.9M58.4 194.6h.9M53.1 179.1h.9M50.9 181.5h.9M62.5 183.4h.9M64.2 191.0h.9M47.6 190.3h.9M55.4 186.6h.9M54.4 188.0h.9M61.2 180.7h.9M53.2 177.7h.9M58.2 198.5h.9M53.0 180.9h.9M58.5 183.8h.9M62.6 197.0h.9M56.7 193.0h.9M58.2 182.6h.9M63.1 178.3h.9M55.6 184.8h.9M51.5 181.2h.9M51.3 181.7h.9M51.3 174.6h.9M53.2 205.8h.9M64.1 199.7h.9M55.3 196.7h.9M59.2 205.0h.9M67.6 181.2h.9M38.6 186.0h.9M53.1 189.2h.9M48.7 183.3h.9M61.3 171.9h.9M54.3 200.4h.9M54.9 187.9h.9M57.1 197.7h.9M64.4 198.5h.9M54.5 181.8h.9M70.1 175.2h.9M55.7 189.8h.9M67.8 182.7h.9M43.8 186.0h.9M67.1 194.3h.9M55.9 184.1h.9M45.2 204.3h.9M61.9 196.7h.9M60.4 192.0h.9M66.2 211.3h.9M45.8 203.9h.9M63.2 184.6h.9M39.2 183.0h.9M64.9 184.2h.9M58.3 197.9h.9M50.4 194.4h.9M61.2 201.5h.9M61.3 197.1h.9M67.1 179.0h.9M62.9 176.3h.9M51.1 187.5h.9M62.0 177.1h.9M55.5 187.7h.9M59.6 172.1h.9M64.2 193.4h.9M40.3 203.9h.9M57.0 182.6h.9M54.8 189.7h.9M54.3 191.2h.9M47.5 186.6h.9M53.9 190.5h.9M64.9 178.6h.9M57.6 186.8h.9M48.6 177.8h.9M65.4 192.2h.9M57.1 188.0h.9M60.8 186.1h.9M40.8 193.3h.9M73.0 197.2h.9M66.4 181.0h.9M61.1 173.1h.9M64.4 185.3h.9M57.6 184.0h.9M67.0 187.6h.9M62.8 189.2h.9M66.6 176.8h.9M57.4 189.3h.9M49.0 188.8h.9M45.4 187.0h.9M58.3 188.7h.9M50.9 192.9h.9M52.2 186.2h.9M52.3 199.3h.9M60.2 171.6h.9M49.4 195.1h.9M72.8 191.5h.9M49.3 202.4h.9M52.9 190.9h.9M46.8 190.6h.9M60.4 201.9h.9M64.2 186.2h.9M63.0 190.0h.9M57.9 183.4h.9M42.6 193.3h.9M57.9 196.4h.9M53.3 184.7h.9M44.8 181.2h.9M53.9 172.4h.9M63.1 195.2h.9M61.8 174.2h.9M46.5 190.2h.9M51.7 172.8h.9M61.2 198.7h.9M53.7 183.4h.9M51.1 182.8h.9M54.3 191.3h.9M55.4 197.1h.9M62.9 190.9h.9M54.5 185.2h.9M67.4 178.8h.9M62.4 177.0h.9M59.7 195.4h.9M49.1 206.9h.9M59.7 188.3h.9M63.4 184.2h.9M55.2 184.7h.9M61.7 195.7h.9M57.5 177.5h.9M54.0 188.3h.9M55.2 193.6h.9M52.4 180.8h.9M57.5 185.4h.9M64.2 172.3h.9M61.5 191.3h.9M42.8 197.3h.9M55.0 197.2h.9M52.3 194.8h.9M58.4 195.9h.9M66.9 180.1h.9M53.0 198.9h.9M56.4 181.3h.9M62.2 182.5h.9M43.2 188.6h.9M53.2 181.0h.9M64.8 188.3h.9M64.3 195.1h.9M61.8 183.0h.9M54.5 187.9h.9M62.0 180.4h.9M72.2 193.1h.9M58.6 171.7h.9M51.3 180.1h.9M51.7 195.8h.9M48.3 180.7h.9M71.4 195.4h.9M55.3 180.0h.9M60.5 186.9h.9M64.4 176.8h.9M61.7 181.4h.9M53.8 173.5h.9M67.2 183.3h.9M51.3 166.3h.9M59.4 193.8h.9M76.5 189.1h.9M66.6 190.5h.9M66.0 195.2h.9M66.6 193.7h.9M48.5 185.7h.9M66.4 193.4h.9M55.5 182.1h.9M52.7 203.5h.9M58.9 178.1h.9M53.7 197.0h.9M55.1 179.2h.9M63.6 197.1h.9M55.4 166.7h.9M54.9 188.4h.9M61.0 174.5h.9M61.6 187.5h.9M62.1 188.0h.9M72.2 187.0h.9M53.3 179.6h.9M66.9 177.9h.9M46.5 190.5h.9M53.2 189.3h.9M52.2 183.2h.9M40.4 184.3h.9M64.8 201.5h.9M58.3 178.1h.9M52.0 202.7h.9M58.0 182.8h.9M57.5 179.3h.9M48.8 180.4h.9M60.2 184.6h.9M53.7 189.6h.9M43.0 191.7h.9M63.7 203.8h.9M58.5 183.9h.9M62.4 189.9h.9M44.7 187.9h.9M52.1 188.5h.9M55.7 183.0h.9M67.1 184.2h.9M46.3 191.9h.9M66.2 188.0h.9M55.3 173.0h.9M55.2 190.2h.9M61.1 186.8h.9M67.6 187.2h.9M57.8 186.9h.9M60.6 208.1h.9M54.6 186.2h.9M68.0 188.6h.9M60.6 173.1h.9M69.9 169.3h.9M62.4 178.3h.9M61.4 182.6h.9M55.8 181.1h.9M58.6 186.8h.9M58.2 194.2h.9M48.2 189.2h.9M54.2 187.7h.9M65.7 191.0h.9M57.9 180.2h.9M61.7 197.2h.9M69.1 169.9h.9M64.6 188.5h.9M62.7 207.8h.9M47.0 195.8h.9M62.4 189.2h.9M49.4 184.3h.9M55.8 186.5h.9M62.6 199.2h.9M56.2 186.4h.9M48.5 177.1h.9M53.4 176.8h.9M42.1 175.1h.9M45.5 196.1h.9M58.2 172.3h.9M52.6 177.4h.9M52.3 192.9h.9M61.1 169.5h.9M59.0 181.1h.9M57.3 180.2h.9M44.0 182.3h.9M49.8 181.6h.9M53.3 183.6h.9M56.2 192.0h.9M57.3 196.0h.9M68.9 187.2h.9M52.0 206.5h.9M53.4 205.6h.9M63.4 197.2h.9M53.2 192.8h.9M66.0 191.3h.9M51.8 185.1h.9M67.9 189.6h.9M58.5 193.8h.9M63.9 183.7h.9M68.4 189.1h.9M54.0 190.5h.9M62.0 187.5h.9M58.7 181.6h.9M56.3 180.0h.9M69.1 175.2h.9M64.3 194.6h.9M44.9 181.8h.9M59.7 192.5h.9M49.1 194.7h.9M52.8 175.7h.9M48.6 190.1h.9M59.8 178.5h.9M59.9 181.8h.9M66.6 197.7h.9M54.6 190.0h.9M53.5 200.8h.9M53.5 179.1h.9M58.4 172.9h.9M58.9 180.6h.9M55.1 185.6h.9M45.4 193.9h.9M50.6 180.8h.9M71.8 200.1h.9M54.1 195.8h.9M69.4 189.1h.9M77.7 183.3h.9M45.8 181.0h.9M50.7 188.5h.9M61.5 185.5h.9M58.5 186.5h.9M64.5 187.2h.9M51.0 184.5h.9M60.4 196.7h.9M56.5 180.0h.9M57.3 184.0h.9M61.7 184.3h.9M56.2 196.4h.9M63.3 172.7h.9M45.3 187.4h.9M50.2 173.4h.9M43.7 188.7h.9M47.4 183.8h.9M63.3 193.3h.9M49.7 191.3h.9M61.4 183.3h.9M65.2 184.4h.9M62.6 185.1h.9M56.0 192.2h.9M65.4 195.3h.9M54.3 196.6h.9M52.4 179.7h.9M58.6 179.0h.9M67.3 185.6h.9M52.9 195.1h.9M57.4 196.0h.9M55.4 181.4h.9M64.4 183.3h.9M71.6 205.8h.9M62.2 198.2h.9M55.9 191.2h.9M64.8 179.2h.9M62.5 188.7h.9M65.6 175.2h.9M53.0 187.9h.9M62.1 184.5h.9M70.2 187.2h.9M50.9 180.8h.9M78.5 190.3h.9M54.8 182.8h.9M46.5 178.7h.9M53.7 181.0h.9M59.1 175.2h.9M56.0 187.4h.9M59.8 194.5h.9M53.2 177.9h.9M67.0 202.2h.9M58.7 191.4h.9M60.2 183.6h.9M39.6 172.3h.9M53.8 183.6h.9M79.2 188.9h.9M62.9 190.1h.9M70.1 186.6h.9M50.9 181.6h.9M60.4 187.0h.9M53.2 171.8h.9M56.5 172.9h.9M46.8 200.9h.9M61.1 189.9h.9M61.5 179.2h.9M68.9 199.6h.9M44.4 184.1h.9M46.8 182.1h.9M64.1 194.0h.9M63.3 183.7h.9M58.1 187.0h.9M50.6 183.1h.9M50.5 191.2h.9M65.1 198.4h.9M61.9 179.6h.9M60.4 175.7h.9M70.2 181.0h.9M53.2 184.4h.9M46.6 185.2h.9M52.1 192.4h.9M55.0 191.5h.9M45.7 203.4h.9M59.8 189.8h.9M53.8 189.1h.9M62.0 200.9h.9M57.8 190.9h.9M57.0 184.0h.9M53.3 195.7h.9M47.0 188.4h.9M53.9 192.8h.9M59.0 179.3h.9M60.3 185.4h.9M59.9 184.5h.9M51.0 191.4h.9M56.4 189.6h.9M58.6 184.2h.9M48.9 186.7h.9M74.1 189.0h.9M63.8 180.5h.9M55.2 191.9h.9M52.7 181.9h.9M54.0 185.0h.9M50.1 190.0h.9M54.0 197.1h.9M59.5 176.0h.9M70.0 187.3h.9M54.2 190.1h.9M61.7 195.5h.9M51.9 189.0h.9M44.3 198.0h.9M47.1 197.7h.9M51.3 198.6h.9M76.2 183.2h.9M49.3 189.0h.9M62.6 202.4h.9M61.4 174.6h.9M37.2 171.6h.9M48.2 179.9h.9M55.1 169.5h.9M61.4 194.5h.9M46.2 189.4h.9M55.1 192.7h.9M66.7 187.8h.9M44.5 194.6h.9M62.8 175.4h.9M68.0 184.0h.9M48.3 171.2h.9M46.7 191.3h.9M61.5 178.9h.9M56.5 192.7h.9M66.7 185.1h.9M55.4 178.1h.9M57.5 196.8h.9M62.3 196.6h.9M68.1 191.7h.9M57.0 189.9h.9M56.3 181.6h.9M67.6 183.6h.9M59.8 185.1h.9M66.5 198.0h.9M69.9 184.6h.9M60.8 186.2h.9M60.1 192.8h.9M44.1 184.0h.9M64.2 181.6h.9M72.2 188.4h.9M57.3 195.7h.9M48.8 178.3h.9M52.1 187.6h.9M56.4 196.3h.9M65.1 188.4h.9M48.3 175.9h.9M68.2 193.1h.9M51.2 191.7h.9M55.6 181.6h.9M65.9 194.3h.9M59.0 185.5h.9M49.7 198.6h.9M54.1 179.7h.9M69.5 191.9h.9M54.9 181.2h.9M52.4 183.0h.9M56.1 189.2h.9M48.2 187.0h.9M50.4 176.2h.9M62.5 186.2h.9M50.0 183.6h.9M65.4 194.6h.9M57.6 195.3h.9M47.7 185.8h.9M54.4 198.0h.9M46.2 177.1h.9M62.9 195.9h.9M59.5 188.2h.9M56.5 187.2h.9M62.9 171.1h.9M64.9 181.6h.9M55.1 173.8h.9M44.9 182.9h.9M65.4 185.3h.9M71.6 192.1h.9M61.7 182.2h.9M52.0 184.5h.9M58.0 189.1h.9M49.4 199.4h.9M58.5 197.1h.9M70.9 193.6h.9M53.0 178.8h.9M55.4 194.6h.9M53.0 182.7h.9M66.5 189.1h.9M61.4 181.0h.9M69.4 194.3h.9M49.6 184.6h.9M64.2 186.1h.9M57.1 191.4h.9M62.3 175.9h.9M69.1 179.4h.9M51.3 179.9h.9M67.1 176.0h.9M59.6 197.5h.9M57.7 169.2h.9M51.2 191.8h.9M54.6 174.8h.9M58.0 185.0h.9M57.1 191.1h.9M61.0 182.7h.9M55.7 187.1h.9M47.8 198.4h.9M65.6 194.3h.9M53.8 182.1h.9M66.2 193.9h.9M44.6 177.8h.9M70.0 182.1h.9M59.7 193.1h.9M60.3 191.1h.9M59.2 183.5h.9M56.1 168.2h.9M57.3 192.4h.9M47.0 185.0h.9M60.0 188.4h.9M69.5 182.3h.9M44.9 173.8h.9M61.0 178.2h.9M51.0 188.5h.9M61.4 187.1h.9M65.9 197.6h.9M53.1 185.6h.9M57.9 179.5h.9M59.7 193.6h.9M66.2 181.3h.9M61.6 186.0h.9M49.9 181.3h.9M41.0 176.5h.9M67.3 185.3h.9M49.4 189.2h.9M65.6 183.7h.9M63.2 182.7h.9M50.0 190.8h.9M52.9 181.4h.9M70.6 201.3h.9M58.9 184.3h.9M56.0 190.1h.9M56.0 187.1h.9M70.8 186.9h.9M61.2 197.6h.9M55.6 193.5h.9M54.2 178.9h.9M60.0 191.6h.9M66.5 190.1h.9M60.0 192.9h.9M64.1 171.1h.9M60.8 181.1h.9M57.7 191.7h.9M69.4 197.7h.9M55.3 188.4h.9M46.2 184.5h.9M57.5 192.6h.9M59.5 182.0h.9M60.8 182.3h.9M52.2 184.2h.9M57.3 195.9h.9M63.6 189.6h.9M47.6 192.8h.9M46.0 181.4h.9M58.5 174.9h.9M46.8 185.1h.9M55.4 183.7h.9M55.4 173.0h.9M57.0 194.2h.9M51.3 198.1h.9M54.8 183.6h.9M65.5 183.6h.9M50.3 188.1h.9M59.8 188.0h.9M57.6 191.3h.9M55.1 190.2h.9M56.0 193.3h.9M62.9 178.6h.9M55.1 181.6h.9M58.2 192.1h.9M57.8 195.4h.9M52.1 199.6h.9M53.2 177.2h.9M73.6 191.6h.9M54.5 181.0h.9M42.6 190.8h.9M58.4 193.4h.9M65.0 195.7h.9M51.6 185.6h.9M60.1 184.1h.9M73.7 173.9h.9M51.6 192.4h.9M65.5 183.6h.9M57.6 191.2h.9M50.5 185.0h.9M50.2 180.4h.9M55.4 190.8h.9M66.6 197.2h.9M56.1 184.0h.9M52.9 203.2h.9M75.7 179.5h.9M56.2 197.2h.9M57.0 188.7h.9M64.5 209.0h.9M54.8 186.2h.9M31.7 188.2h.9M60.3 183.5h.9M59.4 182.2h.9M65.3 189.9h.9M60.9 169.8h.9M66.3 190.3h.9M58.0 187.1h.9M58.5 181.7h.9M58.0 195.5h.9M58.2 194.4h.9M59.4 191.7h.9M73.4 186.5h.9M55.8 190.3h.9M60.3 181.8h.9M62.2 180.1h.9M64.8 186.0h.9M49.8 186.4h.9M57.6 180.4h.9M59.3 179.0h.9M45.9 174.7h.9M45.9 192.1h.9M46.2 187.8h.9M56.2 187.3h.9M55.6 195.2h.9M48.3 177.3h.9M59.1 187.6h.9M66.4 184.0h.9M55.3 185.2h.9M51.0 183.0h.9M64.3 193.2h.9M55.5 164.3h.9M47.8 174.3h.9M62.6 193.5h.9M65.7 188.0h.9M51.3 193.4h.9M55.1 192.0h.9M46.9 170.9h.9M60.9 190.5h.9M69.0 181.1h.9M64.9 185.8h.9M69.7 183.7h.9M64.1 180.4h.9M62.8 201.2h.9M53.6 199.1h.9M64.0 186.8h.9M43.6 187.3h.9M56.2 188.5h.9M60.7 187.4h.9M71.2 187.6h.9M50.2 195.4h.9M63.2 190.5h.9M68.7 182.7h.9M57.0 190.2h.9M49.9 195.9h.9M62.3 193.7h.9M69.1 196.7h.9M60.9 189.1h.9M53.2 179.0h.9M65.6 185.8h.9M64.3 187.8h.9M57.6 193.8h.9M58.1 190.0h.9M44.0 183.4h.9M70.6 188.1h.9M58.5 200.1h.9M74.0 192.4h.9M58.5 180.1h.9M65.6 198.9h.9M59.1 197.7h.9M62.6 181.7h.9M58.6 185.5h.9M52.3 191.3h.9M63.3 198.2h.9M54.3 186.3h.9M52.8 190.8h.9M59.6 194.5h.9M55.9 195.8h.9M48.7 183.1h.9M51.0 193.3h.9M59.5 194.2h.9M59.4 194.8h.9M55.0 196.4h.9M57.8 177.3h.9M62.9 179.6h.9M58.9 180.5h.9M44.2 187.3h.9M62.5 198.0h.9M63.2 193.4h.9M54.2 173.6h.9M70.6 190.4h.9M67.1 197.4h.9M58.3 186.1h.9M58.4 176.3h.9M63.3 191.0h.9M59.3 179.4h.9M64.0 178.9h.9M52.6 184.6h.9M50.5 188.4h.9M53.0 181.7h.9M61.3 162.7h.9M61.5 188.7h.9M56.0 180.2h.9M58.8 186.7h.9M51.7 177.0h.9M49.6 174.3h.9M50.9 182.8h.9M62.2 181.9h.9M63.1 195.6h.9M97.9 203.7h.9M89.6 198.1h.9M85.8 206.4h.9M86.9 219.4h.9M84.5 216.5h.9M85.6 215.2h.9M90.2 208.5h.9M90.1 212.8h.9M82.3 205.2h.9M77.3 202.6h.9M85.6 205.7h.9M74.3 210.7h.9M81.9 223.0h.9M94.5 198.1h.9M89.2 213.2h.9M79.2 223.5h.9M88.4 211.4h.9M91.5 204.5h.9M81.5 216.8h.9M91.9 213.9h.9M79.7 211.2h.9M86.0 210.5h.9M84.8 217.7h.9M78.0 221.3h.9M83.3 211.3h.9M91.0 224.4h.9M94.2 203.5h.9M81.3 206.2h.9M91.6 201.6h.9M85.5 212.2h.9M89.2 211.6h.9M82.5 209.2h.9M90.5 210.9h.9M99.2 200.6h.9M85.5 219.9h.9M79.6 222.9h.9M88.1 201.2h.9M98.6 206.7h.9M88.1 209.3h.9M94.7 214.2h.9M86.4 209.7h.9M93.5 213.0h.9M95.3 209.8h.9M86.9 211.0h.9M96.1 215.7h.9M95.3 209.4h.9M87.8 213.4h.9M92.0 210.7h.9M88.6 214.1h.9M83.0 212.5h.9M85.7 202.7h.9M88.4 206.2h.9M91.8 207.2h.9M89.8 201.8h.9M93.8 218.0h.9M93.7 211.3h.9M80.5 217.4h.9M83.2 209.2h.9M91.3 206.9h.9M94.1 200.7h.9M87.8 207.7h.9M83.5 211.6h.9M92.9 196.8h.9M89.4 203.5h.9M87.1 199.6h.9M85.4 199.6h.9M87.1 201.9h.9M102.5 214.1h.9M83.0 202.0h.9M81.5 211.2h.9M89.2 202.0h.9M88.7 209.4h.9M87.3 210.5h.9M89.4 218.2h.9M88.9 204.7h.9M94.8 200.2h.9M97.4 210.4h.9M96.9 206.4h.9M83.3 199.7h.9M92.2 203.3h.9M82.0 214.8h.9M83.7 215.0h.9M88.4 204.7h.9M85.1 221.0h.9M81.0 208.7h.9M89.3 210.5h.9M80.5 219.2h.9M86.2 202.4h.9M93.1 205.2h.9M96.1 205.1h.9M84.3 207.7h.9M84.0 202.0h.9M97.2 200.2h.9M81.9 213.6h.9M96.7 208.1h.9M91.3 203.9h.9M86.3 212.1h.9M87.4 206.9h.9M81.2 207.2h.9M89.1 209.4h.9M93.8 199.9h.9M79.2 198.0h.9M93.7 195.0h.9M85.1 212.1h.9M91.4 198.0h.9M85.9 215.2h.9M94.2 198.8h.9M88.2 207.0h.9M90.8 210.0h.9M84.4 206.4h.9M89.3 208.1h.9M80.0 215.2h.9M84.9 206.3h.9M85.3 209.7h.9M100.4 188.0h.9M85.3 202.2h.9M87.5 196.2h.9M91.0 199.1h.9M87.7 209.5h.9M83.8 209.9h.9M86.4 212.8h.9M90.0 212.8h.9M94.8 207.9h.9M84.6 213.7h.9M91.4 223.8h.9M82.4 194.1h.9M92.0 204.9h.9M89.0 216.4h.9M92.7 210.1h.9M84.7 213.1h.9M92.7 211.7h.9M87.3 203.2h.9M97.0 205.0h.9M90.5 214.8h.9M89.3 206.0h.9M84.2 217.0h.9M85.4 217.2h.9M90.9 209.4h.9M94.0 217.6h.9M96.8 208.9h.9M86.6 202.0h.9M97.8 194.1h.9M79.5 217.5h.9M88.1 206.1h.9M92.7 197.8h.9M85.5 210.2h.9M91.6 201.7h.9M80.7 210.9h.9M91.2 209.0h.9M96.9 189.3h.9M78.5 219.1h.9M83.9 217.7h.9M86.2 212.9h.9M83.8 198.0h.9M76.6 223.8h.9M95.4 209.1h.9M88.5 211.3h.9M90.8 193.5h.9M83.9 196.5h.9M91.2 212.7h.9M87.5 202.3h.9M91.3 213.3h.9M96.3 203.1h.9M86.1 215.6h.9M93.8 201.8h.9M94.5 216.5h.9M97.0 207.0h.9M91.7 207.2h.9M89.1 208.2h.9M81.8 218.3h.9M85.2 214.4h.9M85.4 207.5h.9M79.1 207.2h.9M93.6 208.6h.9M79.2 212.4h.9M89.5 200.2h.9M81.9 221.7h.9M87.4 208.4h.9M83.7 209.7h.9M89.9 211.5h.9M81.9 215.0h.9M94.7 218.4h.9M89.5 215.7h.9M100.6 193.4h.9M89.1 224.6h.9M90.9 213.9h.9M77.7 229.5h.9M94.4 207.8h.9M78.2 207.4h.9M89.5 211.1h.9M92.6 202.8h.9M79.8 207.9h.9M96.8 216.1h.9M79.0 219.8h.9M92.1 199.5h.9M81.8 208.9h.9M96.5 205.7h.9M92.5 212.3h.9M93.2 210.3h.9M87.5 204.3h.9M82.3 199.0h.9M83.4 203.9h.9M90.3 205.8h.9M89.8 210.8h.9M89.2 206.0h.9M84.8 217.1h.9M77.4 205.3h.9M96.2 202.6h.9M85.9 200.9h.9M80.5 214.0h.9M85.5 215.9h.9M80.9 201.1h.9M76.9 215.7h.9M95.2 201.1h.9M93.9 200.6h.9M87.3 208.1h.9M88.2 200.1h.9M83.3 209.3h.9M87.9 213.8h.9M88.1 213.1h.9M88.7 213.5h.9M88.0 215.4h.9M83.5 209.7h.9M93.1 196.3h.9M81.8 214.3h.9M90.1 196.4h.9M91.4 212.8h.9M84.0 204.6h.9M91.7 209.4h.9M93.1 210.0h.9M93.7 206.5h.9M79.8 219.2h.9M93.6 203.5h.9M82.7 232.4h.9M94.4 210.7h.9M81.5 205.4h.9M97.0 204.0h.9M86.4 194.3h.9M87.0 215.0h.9M80.6 216.0h.9M88.8 202.9h.9M90.6 199.4h.9M92.8 208.9h.9M86.9 207.5h.9M92.2 214.2h.9M87.0 216.8h.9M87.3 205.3h.9M92.1 199.4h.9M95.9 211.2h.9M91.3 211.6h.9M76.7 215.4h.9M89.1 203.7h.9M83.0 207.9h.9M90.3 216.5h.9M90.2 213.6h.9M96.4 202.6h.9M81.5 201.4h.9M90.0 210.4h.9M82.8 201.2h.9M90.7 200.2h.9M99.6 191.9h.9M85.1 215.8h.9M85.0 216.3h.9M94.2 201.5h.9M82.8 211.4h.9M87.6 196.9h.9M84.1 216.9h.9M78.3 228.3h.9M88.4 213.7h.9M92.8 208.5h.9M90.4 202.4h.9M81.6 196.8h.9M83.1 207.5h.9M94.4 200.2h.9M90.6 208.2h.9M84.8 221.7h.9M81.9 210.2h.9M90.2 216.3h.9M94.1 202.2h.9M86.7 210.8h.9M99.2 213.3h.9M88.6 203.6h.9M87.4 209.3h.9M96.1 196.5h.9M93.9 218.3h.9M84.2 202.7h.9M82.1 212.0h.9M86.6 208.2h.9M86.0 209.5h.9M82.5 212.5h.9M85.9 227.5h.9M85.7 202.7h.9M86.8 206.7h.9M96.9 205.0h.9M81.1 214.2h.9M87.1 213.0h.9M83.5 213.5h.9M83.3 224.6h.9M81.2 222.7h.9M84.5 218.6h.9M83.4 220.8h.9M86.4 199.4h.9M92.8 205.2h.9M88.0 211.8h.9M93.1 219.3h.9M95.6 203.1h.9M79.7 224.9h.9M91.8 205.4h.9M85.5 209.7h.9M95.9 211.0h.9M82.5 214.4h.9M87.9 194.7h.9M84.5 209.0h.9M93.9 203.9h.9M87.5 206.3h.9M94.5 212.8h.9M90.8 212.3h.9M95.3 212.0h.9M86.6 198.2h.9M99.0 208.4h.9M79.6 218.5h.9M92.2 206.5h.9M92.3 210.9h.9M82.3 202.7h.9M92.6 215.5h.9M84.0 194.7h.9M81.2 202.7h.9M82.2 210.3h.9M85.0 213.9h.9M91.1 211.0h.9M84.4 205.9h.9M79.5 213.4h.9M82.1 218.3h.9M91.6 205.8h.9M89.7 212.9h.9M88.3 196.8h.9M89.3 212.1h.9M94.6 210.4h.9M93.2 209.2h.9M87.3 217.5h.9M92.3 208.8h.9M90.2 213.3h.9M92.8 203.4h.9M83.1 220.3h.9M87.1 209.7h.9M76.9 212.2h.9M86.7 221.5h.9M90.3 207.8h.9M87.3 217.9h.9M92.2 215.9h.9M91.4 211.5h.9M87.3 220.8h.9M93.6 205.8h.9M81.9 223.5h.9M89.3 213.1h.9M84.4 214.9h.9M97.4 212.1h.9M84.0 213.2h.9M86.8 215.0h.9M77.4 217.8h.9M92.7 211.4h.9M88.4 198.7h.9M87.5 212.7h.9M90.7 207.4h.9M88.3 197.7h.9M81.2 220.7h.9M87.2 212.3h.9M87.8 215.9h.9M92.7 213.9h.9M80.1 208.8h.9M96.6 206.6h.9M84.8 216.5h.9M89.4 196.5h.9M88.6 226.2h.9M78.2 215.5h.9M89.4 198.4h.9M92.5 199.5h.9M93.4 202.0h.9M86.6 206.7h.9M88.9 214.6h.9M86.6 209.5h.9M80.1 205.8h.9M90.5 193.9h.9M96.0 212.9h.9M83.1 210.5h.9M84.1 203.6h.9M88.2 208.7h.9M89.8 209.3h.9M88.9 217.7h.9M95.2 202.1h.9M92.8 202.4h.9M95.8 212.4h.9M88.4 208.2h.9M93.1 208.5h.9M86.6 211.0h.9M95.8 218.5h.9M91.1 223.3h.9M89.5 205.2h.9M80.5 207.7h.9M77.8 219.4h.9M82.0 210.1h.9M91.9 211.4h.9M83.4 211.6h.9M94.3 206.0h.9M89.2 208.9h.9M75.0 212.0h.9M93.5 213.0h.9M87.1 223.2h.9M94.7 205.4h.9M81.0 221.7h.9M89.7 203.8h.9M80.5 203.1h.9M88.7 190.1h.9M92.1 205.4h.9M90.7 205.7h.9M98.4 223.7h.9M82.0 214.0h.9M86.0 216.4h.9M92.0 213.2h.9M80.8 212.7h.9M92.6 201.4h.9M96.1 217.6h.9M85.4 213.0h.9M86.6 204.6h.9M86.0 197.8h.9M90.4 205.3h.9M90.5 203.7h.9M88.2 206.8h.9M90.9 206.5h.9M76.7 205.2h.9M88.3 211.2h.9M90.8 205.0h.9M90.8 204.3h.9M93.8 203.9h.9M81.2 209.4h.9M93.4 205.2h.9M88.1 212.3h.9M88.4 199.9h.9M89.4 210.8h.9M84.9 207.7h.9M86.9 206.7h.9M86.6 199.1h.9M83.9 201.0h.9M90.7 213.7h.9M82.8 214.2h.9M91.5 204.1h.9M88.3 205.2h.9M82.2 204.3h.9M79.0 215.9h.9M96.0 199.0h.9M96.0 202.9h.9M89.2 212.0h.9M83.2 204.1h.9M91.9 200.7h.9M83.4 206.4h.9M87.5 199.5h.9M90.6 209.3h.9M84.6 214.9h.9M88.1 220.4h.9M80.9 218.2h.9M91.8 214.8h.9M97.0 197.8h.9M91.5 213.4h.9M93.1 212.0h.9M87.3 205.2h.9M89.9 215.3h.9M97.1 201.3h.9M90.1 219.0h.9M95.9 205.8h.9M91.3 214.1h.9M86.7 208.0h.9M87.6 203.1h.9M82.9 214.2h.9M91.5 205.1h.9M80.2 204.0h.9M88.6 203.8h.9M87.4 221.5h.9M86.2 200.2h.9M90.6 206.1h.9M92.4 204.1h.9M93.4 199.5h.9M73.9 213.4h.9M89.7 209.2h.9M87.8 212.4h.9M89.9 209.0h.9M88.6 209.9h.9M89.1 221.8h.9M83.4 214.6h.9M94.3 207.2h.9M95.6 203.1h.9M101.1 202.7h.9M83.0 217.0h.9M80.7 202.6h.9M93.8 210.5h.9M85.8 212.9h.9M85.8 224.4h.9M86.2 211.5h.9M98.5 217.2h.9M80.1 209.6h.9M96.3 213.5h.9M83.3 216.7h.9M81.2 209.2h.9M83.1 212.2h.9M87.3 204.4h.9M97.7 206.5h.9M83.6 219.0h.9M95.6 212.3h.9M87.3 206.3h.9M97.4 205.4h.9M88.1 210.2h.9M85.6 204.6h.9M82.7 214.6h.9M82.4 202.7h.9M89.0 200.4h.9M83.1 203.2h.9M89.4 204.4h.9M97.6 191.3h.9M83.3 204.9h.9M91.1 207.7h.9M88.7 208.9h.9M91.3 210.0h.9M89.3 198.4h.9M87.6 211.7h.9M89.9 200.9h.9M90.3 204.0h.9M85.5 194.6h.9M91.5 198.4h.9M86.6 227.9h.9M85.5 217.5h.9M86.1 220.7h.9M93.0 211.0h.9M81.9 196.9h.9M97.6 202.5h.9M87.0 215.5h.9M88.3 206.9h.9M83.7 210.3h.9M82.3 212.8h.9M83.6 217.8h.9M89.5 201.8h.9M90.2 202.0h.9M90.8 195.2h.9M90.0 209.9h.9M94.7 207.9h.9M91.7 196.4h.9M89.6 205.3h.9M95.2 209.0h.9M84.4 207.3h.9M82.4 226.6h.9M92.7 209.0h.9M89.0 204.2h.9M81.1 213.1h.9M93.7 207.0h.9M83.6 221.4h.9M93.5 209.7h.9M89.1 197.2h.9M81.4 199.9h.9M93.9 187.5h.9M89.1 216.3h.9M73.3 213.6h.9M94.7 209.8h.9M84.9 200.6h.9M87.6 211.3h.9M86.8 213.3h.9M88.4 218.7h.9M86.2 210.0h.9M83.8 212.8h.9M91.1 217.4h.9M80.5 213.6h.9M89.0 212.5h.9M79.4 212.6h.9M89.6 204.4h.9M82.3 217.9h.9M86.9 215.4h.9M85.0 223.2h.9M91.3 196.9h.9M93.4 212.6h.9M85.6 213.1h.9M91.8 199.8h.9M94.6 210.0h.9M79.9 213.3h.9M92.5 191.6h.9M83.5 209.3h.9M95.0 207.0h.9M79.0 211.5h.9M88.3 211.6h.9M91.5 208.3h.9M98.0 216.9h.9M84.7 209.4h.9M92.9 206.4h.9M86.3 223.7h.9M88.3 213.2h.9M89.9 205.8h.9M94.8 201.4h.9M88.1 212.6h.9M89.5 202.3h.9M91.3 205.3h.9M90.8 207.4h.9M91.8 217.6h.9M89.6 201.1h.9M96.8 203.0h.9M96.6 204.9h.9M94.3 206.9h.9M88.9 204.7h.9M88.6 210.0h.9M91.8 208.9h.9M89.3 218.9h.9M81.5 202.6h.9M75.7 205.4h.9M89.5 214.8h.9M94.1 201.1h.9M95.8 206.2h.9M86.7 202.2h.9M91.2 204.6h.9M101.1 205.0h.9M97.2 209.0h.9M87.8 206.4h.9M86.9 202.7h.9M92.7 214.0h.9M84.3 208.4h.9M84.5 209.3h.9M24.9 210.8h.9M54.8 213.0h.9M49.6 232.1h.9M69.9 231.8h.9M57.5 219.2h.9M83.4 210.9h.9M59.5 218.3h.9M58.8 222.8h.9M56.0 224.9h.9M39.9 221.8h.9M36.6 227.5h.9M70.2 214.9h.9M45.5 216.7h.9M63.1 202.2h.9M37.2 226.1h.9M50.3 204.4h.9M24.7 218.1h.9M52.4 234.7h.9M33.0 223.0h.9M33.8 206.7h.9M50.2 208.5h.9M83.7 216.2h.9M40.4 213.1h.9M50.0 209.1h.9M63.4 228.3h.9M32.1 211.9h.9M47.1 203.0h.9M31.6 213.0h.9M38.4 219.6h.9M66.8 218.4h.9M57.9 207.6h.9M43.3 220.3h.9M62.6 215.7h.9M62.1 214.1h.9M33.9 219.5h.9M46.1 200.0h.9M66.9 220.2h.9M65.1 211.9h.9M77.5 221.1h.9M69.2 210.2h.9M48.0 228.9h.9M52.7 216.7h.9M77.6 227.6h.9M56.9 234.9h.9M28.8 215.9h.9M44.1 230.7h.9M79.0 211.9h.9M55.6 225.6h.9M61.8 219.1h.9M69.6 235.3h.9M55.3 206.0h.9M51.5 216.2h.9M47.1 223.3h.9M65.3 225.3h.9M61.1 219.1h.9M36.7 213.3h.9M39.3 219.7h.9M51.4 216.3h.9M61.9 213.8h.9M70.7 226.6h.9M38.1 229.1h.9M47.9 209.7h.9M48.3 204.5h.9M58.9 228.1h.9M28.8 220.7h.9M62.8 222.9h.9M63.8 220.8h.9M45.8 225.1h.9M58.8 224.2h.9M58.4 214.2h.9M52.6 222.4h.9M70.2 198.4h.9M32.7 201.1h.9M44.8 210.3h.9M56.6 213.7h.9M74.9 210.8h.9M41.9 208.8h.9M48.5 218.1h.9M45.5 207.8h.9M31.2 218.3h.9M44.4 207.2h.9M48.9 219.7h.9M86.4 232.0h.9M38.9 212.3h.9M21.6 197.9h.9M23.4 225.2h.9M50.7 202.6h.9M42.3 211.7h.9M42.5 230.5h.9M21.9 212.2h.9M57.1 221.1h.9M17.9 218.3h.9M32.8 211.0h.9M27.4 223.8h.9M103.5 226.1h.9M48.3 199.8h.9M67.3 227.9h.9M35.4 225.5h.9M24.2 204.4h.9M55.5 203.3h.9M65.4 230.1h.9M54.3 221.3h.9M79.2 221.5h.9M74.5 230.3h.9M72.7 218.2h.9M66.9 219.8h.9M57.4 207.3h.9M47.2 213.7h.9M71.3 221.4h.9M60.4 215.8h.9M74.2 193.6h.9M39.1 225.9h.9M47.1 223.0h.9M79.5 224.5h.9M30.0 214.7h.9M35.2 221.4h.9M70.6 214.6h.9M62.1 215.0h.9M84.9 218.2h.9M57.6 222.3h.9M71.0 223.6h.9M53.5 217.5h.9M62.2 222.6h.9M47.9 211.5h.9M50.1 221.4h.9M46.7 206.7h.9M48.6 212.3h.9M63.8 212.1h.9M47.4 234.8h.9M61.2 208.2h.9M73.4 213.5h.9M40.9 223.2h.9M31.2 216.4h.9M63.1 224.1h.9M45.5 212.3h.9M52.7 228.5h.9M25.1 224.8h.9M58.9 230.0h.9M36.0 228.0h.9M40.1 219.9h.9M47.7 193.7h.9M53.1 220.8h.9M68.0 211.1h.9M35.3 223.8h.9M48.3 227.0h.9M77.1 214.9h.9M51.4 210.2h.9M21.4 217.0h.9M65.9 227.2h.9M53.8 234.7h.9M45.7 216.9h.9M45.4 212.9h.9M49.7 210.6h.9M47.4 219.8h.9M56.0 207.2h.9M62.4 209.4h.9M61.6 217.8h.9M23.2 207.3h.9M69.6 211.0h.9M43.6 213.0h.9M56.1 222.6h.9M49.5 233.2h.9M45.0 212.7h.9M51.3 218.7h.9M48.8 215.6h.9M64.5 216.0h.9M68.2 207.1h.9M68.1 196.4h.9M62.8 223.5h.9M94.6 208.5h.9M65.5 223.4h.9M39.0 219.6h.9M40.5 206.0h.9M29.7 215.0h.9M37.1 197.3h.9M58.8 200.7h.9M65.5 219.4h.9M40.7 201.9h.9M39.3 204.1h.9M47.9 213.5h.9M94.4 196.9h.9M44.4 222.4h.9M70.9 229.9h.9M38.0 224.8h.9M68.1 223.9h.9M30.9 209.0h.9M18.6 209.8h.9M31.3 219.6h.9M41.5 222.8h.9M52.1 213.7h.9M83.0 228.3h.9M32.2 230.4h.9M66.5 229.9h.9M61.4 199.5h.9M47.7 193.4h.9M30.8 210.2h.9M74.9 217.4h.9M57.5 224.1h.9M39.0 227.7h.9M57.6 207.6h.9M44.4 214.6h.9M64.0 230.8h.9M48.8 214.8h.9M83.8 218.8h.9M47.9 223.6h.9M58.9 209.2h.9M39.9 209.2h.9M45.5 204.6h.9M67.4 202.9h.9M65.0 220.8h.9M66.3 202.4h.9M56.3 219.6h.9M68.6 220.6h.9M44.2 228.1h.9M77.0 230.2h.9M41.5 222.1h.9M38.7 215.3h.9M66.5 202.9h.9M100.3 229.0h.9M41.1 211.4h.9M52.7 215.6h.9M33.7 215.6h.9M28.1 210.9h.9M83.9 216.3h.9M47.4 232.4h.9M59.2 223.1h.9M44.4 227.8h.9M48.4 225.6h.9M64.7 234.0h.9M70.6 216.8h.9M36.2 214.0h.9M42.3 232.1h.9M46.5 194.3h.9M60.3 225.0h.9M38.5 224.0h.9M31.7 219.4h.9M51.2 220.0h.9M61.0 210.3h.9M67.5 212.0h.9M55.9 231.0h.9M38.4 217.7h.9M80.8 229.4h.9M42.5 210.8h.9M63.2 210.5h.9M55.2 203.4h.9M64.6 201.0h.9M56.2 223.9h.9M42.6 201.4h.9M32.4 197.9h.9M84.1 197.8h.9M32.1 220.2h.9M54.7 227.2h.9M76.1 221.4h.9M52.8 211.3h.9M50.8 226.4h.9M64.2 223.2h.9M25.5 209.3h.9M42.3 211.5h.9M35.9 223.7h.9M71.9 235.1h.9M45.0 215.9h.9M55.5 216.9h.9M39.7 224.9h.9M19.6 212.1h.9M21.6 223.2h.9M30.3 205.4h.9M53.7 206.5h.9M58.1 213.1h.9M87.2 204.8h.9M40.0 222.7h.9M55.9 221.4h.9M49.0 226.4h.9M59.8 230.2h.9M30.9 219.5h.9M50.1 221.0h.9M37.9 225.1h.9M31.3 225.8h.9M63.3 198.9h.9M60.7 197.6h.9M63.6 200.9h.9M52.8 214.3h.9M26.3 198.4h.9M62.5 212.2h.9M72.5 216.5h.9M100.9 218.8h.9M84.1 220.5h.9M55.5 222.4h.9M41.2 210.6h.9M82.3 215.1h.9M34.5 222.2h.9M39.9 217.9h.9M73.6 230.1h.9M85.3 228.9h.9M65.5 222.7h.9M59.4 216.9h.9M93.2 216.5h.9M83.0 216.1h.9M75.2 188.8h.9M57.2 211.1h.9M81.5 232.5h.9M44.0 216.7h.9M70.6 220.5h.9M56.5 227.3h.9M32.6 233.8h.9M62.7 188.7h.9M39.5 216.9h.9M93.9 217.6h.9M29.6 231.5h.9M62.2 217.8h.9M73.4 214.0h.9M53.6 228.0h.9M63.2 227.7h.9M49.5 234.9h.9M31.5 204.3h.9M64.4 215.0h.9M59.3 218.5h.9M53.3 207.5h.9M61.2 231.3h.9M82.8 209.8h.9M69.8 207.3h.9M54.0 207.3h.9M47.0 199.7h.9M53.5 207.8h.9M40.9 198.5h.9M49.9 216.7h.9M36.7 213.5h.9M41.5 202.6h.9M40.9 213.0h.9M61.4 214.8h.9M60.8 231.1h.9M71.7 213.9h.9M25.8 216.2h.9M57.3 228.1h.9M50.3 224.7h.9M40.2 208.0h.9M50.7 220.1h.9M67.4 186.5h.9M74.8 233.0h.9M78.7 226.5h.9M53.5 223.5h.9M77.5 208.2h.9M67.0 223.0h.9M53.2 235.9h.9M43.7 208.1h.9M54.7 211.6h.9M78.2 201.2h.9M33.1 220.9h.9M68.1 205.9h.9M77.5 198.6h.9M72.8 208.9h.9M47.2 235.7h.9M54.2 211.3h.9M59.3 236.6h.9M56.3 210.0h.9M58.6 205.3h.9M43.4 211.9h.9M66.0 212.7h.9M63.2 229.1h.9M81.8 200.7h.9M54.1 206.1h.9M65.8 220.1h.9M54.8 212.2h.9M38.5 200.6h.9M71.3 215.5h.9M55.4 220.7h.9M68.3 236.4h.9M51.9 224.1h.9M27.1 213.6h.9M42.9 211.3h.9M74.5 218.6h.9M56.0 218.3h.9M51.1 215.3h.9M43.9 212.2h.9M47.6 215.7h.9M23.1 218.2h.9M54.2 221.6h.9M36.0 208.2h.9M68.4 210.3h.9M62.9 210.8h.9M34.5 203.0h.9M44.5 212.8h.9M34.1 231.6h.9M55.2 208.7h.9M80.0 225.7h.9M42.0 207.3h.9M51.7 224.7h.9M31.2 228.9h.9M48.4 225.8h.9M52.5 222.3h.9M65.7 230.3h.9M42.9 236.3h.9M33.5 220.6h.9M66.3 217.8h.9M69.9 201.6h.9M54.2 227.4h.9M55.2 206.7h.9M57.7 219.5h.9M38.4 230.7h.9M46.0 207.5h.9M56.8 211.2h.9M51.8 219.9h.9M48.1 223.5h.9M60.0 229.6h.9M38.3 218.3h.9M59.4 220.5h.9M19.9 207.1h.9M60.6 223.3h.9M55.7 219.5h.9M75.7 214.2h.9M42.3 232.4h.9M65.4 216.1h.9M43.2 233.5h.9M50.6 209.7h.9M76.5 203.2h.9M52.7 223.9h.9M50.4 212.6h.9M62.5 205.7h.9M51.6 224.8h.9M36.8 231.4h.9M51.7 217.0h.9M47.2 223.4h.9M47.2 219.9h.9M76.3 230.0h.9M29.8 231.0h.9M47.0 220.7h.9M56.9 220.5h.9M45.1 223.5h.9M72.1 212.0h.9M54.9 225.7h.9M73.2 221.0h.9M59.7 222.4h.9M49.5 221.0h.9M50.5 214.3h.9M61.3 225.0h.9M62.6 218.7h.9M50.0 223.2h.9M48.4 217.6h.9M80.1 204.0h.9M45.0 215.2h.9M22.9 205.9h.9M72.7 222.6h.9M52.6 230.4h.9M38.4 236.4h.9M53.8 211.6h.9M73.1 222.7h.9M58.2 216.3h.9M24.6 197.0h.9M54.8 226.9h.9M41.5 218.3h.9M28.6 202.7h.9M53.8 224.3h.9M67.1 229.2h.9M41.4 215.8h.9M67.8 207.3h.9M49.5 217.3h.9M54.3 226.0h.9M61.7 213.0h.9M71.2 222.4h.9M60.5 221.7h.9M74.8 212.3h.9M53.4 207.5h.9M50.8 209.2h.9M40.8 197.7h.9M52.8 227.2h.9M53.8 210.5h.9M59.5 214.7h.9M53.0 231.2h.9M57.1 220.8h.9M49.8 215.4h.9M39.0 215.9h.9M41.2 228.4h.9M50.3 224.4h.9M75.8 227.1h.9M42.8 233.6h.9M22.4 231.1h.9M52.9 210.1h.9M18.8 202.3h.9M58.3 200.2h.9M64.7 228.4h.9M76.6 219.5h.9M53.3 213.1h.9M100.1 228.9h.9M64.7 220.3h.9M72.3 198.2h.9M68.5 211.4h.9M41.3 221.3h.9M41.7 213.1h.9M81.0 220.3h.9M60.7 201.6h.9M69.2 210.7h.9M61.9 207.0h.9M60.2 222.5h.9M29.6 220.2h.9M39.2 229.3h.9M60.3 217.6h.9M105.1 225.3h.9M47.7 225.7h.9M58.9 230.4h.9M37.4 236.4h.9M45.7 213.4h.9M41.9 214.1h.9M86.3 218.9h.9M36.2 215.6h.9M58.4 226.6h.9M48.8 219.0h.9M103.5 215.8h.9M56.2 205.3h.9M70.2 212.6h.9M85.2 229.1h.9M67.8 212.2h.9M48.6 213.4h.9M55.7 213.7h.9M45.2 218.1h.9M53.8 213.4h.9M69.6 227.5h.9M60.7 229.3h.9M85.8 203.1h.9M62.7 226.2h.9M74.5 225.0h.9M71.2 202.3h.9M38.2 222.8h.9M20.0 211.7h.9M51.2 220.9h.9M69.5 219.6h.9M40.3 207.7h.9M61.2 223.0h.9M60.6 218.6h.9M56.2 203.4h.9M53.8 224.7h.9M35.3 221.4h.9M53.2 214.7h.9M34.0 206.4h.9M27.1 199.5h.9M66.1 217.1h.9M59.5 201.4h.9M20.2 199.6h.9M81.5 228.3h.9M31.7 218.2h.9M57.2 207.5h.9M43.5 226.6h.9M66.4 226.1h.9M59.9 218.4h.9M62.9 215.7h.9M82.9 219.5h.9M63.6 216.5h.9M43.3 216.8h.9M49.0 209.4h.9M59.4 216.3h.9M42.5 202.8h.9M64.9 223.1h.9M41.3 218.2h.9M40.3 231.4h.9M56.6 221.8h.9M83.4 195.4h.9M61.6 220.1h.9M49.9 217.7h.9M75.8 211.0h.9M44.0 234.6h.9M72.0 222.4h.9M68.5 218.5h.9M50.1 216.2h.9M60.3 213.1h.9M28.4 216.0h.9M59.8 216.3h.9M66.4 220.6h.9M71.3 218.9h.9M52.3 223.4h.9M70.0 213.4h.9M40.9 230.9h.9M46.4 221.4h.9M47.4 219.9h.9M78.5 234.3h.9M33.4 203.5h.9M81.3 220.3h.9M50.3 225.8h.9M39.6 224.2h.9M77.7 229.9h.9M67.0 212.7h.9M49.7 208.7h.9M86.2 229.9h.9M39.9 217.2h.9M70.4 229.5h.9M18.4 230.6h.9M27.7 201.6h.9M67.5 208.5h.9M70.3 222.3h.9M64.4 229.3h.9M58.2 230.5h.9M51.3 209.7h.9M32.8 223.0h.9M39.3 220.0h.9M32.8 204.8h.9M43.6 226.0h.9M53.6 201.7h.9M46.7 223.7h.9M78.0 211.8h.9M68.2 227.1h.9M52.1 227.7h.9M25.2 202.0h.9M33.4 217.9h.9M24.2 231.7h.9M28.8 222.2h.9M39.5 213.6h.9M26.1 203.6h.9M29.0 202.8h.9M77.3 217.8h.9M46.0 227.5h.9M25.0 228.5h.9M69.6 228.9h.9M45.8 221.2h.9M74.5 234.4h.9M57.3 218.1h.9M56.9 217.4h.9M66.6 233.9h.9M21.6 227.9h.9M49.6 228.7h.9M66.8 211.1h.9M18.6 218.2h.9M59.1 200.2h.9M48.6 228.8h.9M30.0 207.0h.9M29.6 222.0h.9M77.1 197.3h.9M72.0 210.0h.9M72.4 201.6h.9M21.7 211.2h.9M59.0 221.3h.9M48.6 217.2h.9M21.2 198.1h.9M65.1 216.4h.9M24.0 196.8h.9M65.0 213.7h.9M26.5 227.6h.9M74.2 219.0h.9M60.7 211.0h.9M46.5 221.8h.9M41.9 218.8h.9M51.4 211.6h.9M20.8 211.7h.9M70.5 223.0h.9M64.8 221.5h.9M68.2 222.0h.9M72.6 201.3h.9M56.7 233.5h.9M53.7 230.8h.9M63.6 202.4h.9M39.8 226.6h.9M71.2 210.6h.9M31.4 228.6h.9M54.6 216.2h.9M49.7 221.5h.9M66.7 220.4h.9M72.6 221.7h.9M37.2 220.9h.9M47.3 221.9h.9M40.3 215.2h.9M36.4 216.7h.9M74.0 201.7h.9M56.4 221.0h.9M63.2 211.3h.9M27.4 198.2h.9M69.0 227.1h.9M66.2 222.7h.9M30.9 210.9h.9M31.8 222.7h.9M50.4 235.8h.9M54.4 201.8h.9M37.6 225.7h.9M72.3 235.9h.9M67.1 200.5h.9M42.8 205.0h.9M22.3 209.0h.9M31.5 234.6h.9M33.0 196.3h.9M55.4 217.4h.9M52.3 205.9h.9M76.7 202.0h.9M51.6 196.4h.9M41.3 212.0h.9M48.5 208.4h.9M64.5 210.4h.9M60.8 227.9h.9M69.2 213.0h.9M40.7 211.3h.9M52.7 217.5h.9M65.0 215.6h.9M22.6 224.6h.9M45.8 220.4h.9M57.7 213.1h.9M67.0 235.8h.9M76.4 234.5h.9M22.3 222.2h.9M75.8 228.8h.9M19.5 202.8h.9M63.1 233.6h.9M21.2 231.1h.9M22.9 216.9h.9M39.0 205.7h.9M67.4 218.0h.9M36.6 225.7h.9M47.7 218.5h.9M40.7 211.8h.9M23.9 221.3h.9M62.2 229.0h.9M37.1 204.4h.9M36.0 229.8h.9M44.8 221.8h.9M23.3 209.5h.9M61.3 230.5h.9M53.0 204.7h.9M30.5 201.6h.9M55.0 226.3h.9M43.2 235.2h.9M39.7 208.6h.9M46.5 216.4h.9M69.0 209.7h.9M18.6 220.8h.9M18.7 230.5h.9M37.1 231.2h.9M32.4 223.0h.9M44.9 223.8h.9M62.0 209.4h.9M46.5 212.7h.9M38.8 197.8h.9M55.8 202.5h.9M61.0 204.3h.9M74.7 221.0h.9M56.7 221.0h.9M72.9 197.3h.9M19.4 206.1h.9M64.4 224.2h.9M25.1 229.9h.9M32.1 223.5h.9M76.9 217.4h.9M74.9 197.2h.9M38.7 215.1h.9M66.7 236.0h.9M45.5 202.5h.9M27.3 205.4h.9M22.7 228.4h.9M39.7 227.6h.9M35.1 228.5h.9M51.7 213.4h.9M55.7 197.0h.9M76.6 227.4h.9M44.5 232.7h.9M62.9 217.8h.9M63.0 211.7h.9M38.7 201.7h.9M21.2 207.3h.9M55.0 217.0h.9M69.9 226.8h.9M41.9 200.1h.9M27.4 215.0h.9M24.8 196.8h.9M34.4 217.9h.9M77.7 215.9h.9M70.3 215.4h.9M74.3 206.0h.9M30.5 201.5h.9M39.7 231.3h.9M58.0 233.7h.9M27.3 218.0h.9M22.7 234.1h.9M22.8 211.9h.9M45.8 211.2h.9M52.9 210.6h.9M34.9 199.3h.9M64.1 209.5h.9M49.3 212.9h.9M39.3 224.2h.9M30.5 208.2h.9M61.1 211.5h.9M41.0 226.3h.9M69.5 215.8h.9M76.0 220.4h.9M57.8 212.8h.9M63.5 203.7h.9M43.5 212.1h.9M66.1 218.2h.9M35.7 230.5h.9M26.3 211.0h.9M58.5 201.1h.9M58.3 197.1h.9M37.2 235.2h.9M58.7 220.9h.9M73.2 229.1h.9M35.4 228.5h.9M61.6 218.4h.9M46.1 204.3h.9M38.2 215.4h.9M76.2 199.6h.9M57.1 218.2h.9M19.2 233.1h.9M62.2 212.8h.9M67.4 215.5h.9M46.8 206.8h.9M21.9 229.1h.9M64.0 231.7h.9M42.1 218.7h.9M66.5 213.3h.9M41.6 201.7h.9M43.9 220.6h.9M61.6 203.2h.9M33.3 207.3h.9M70.8 209.5h.9M32.7 206.3h.9M70.0 223.6h.9M64.6 220.4h.9M34.7 230.4h.9M61.3 226.9h.9M53.2 228.3h.9M39.1 205.8h.9M50.4 219.3h.9M27.0 230.2h.9M18.0 219.9h.9M76.3 206.4h.9M59.8 225.0h.9M64.0 210.3h.9M38.3 221.2h.9M17.8 229.3h.9M18.9 217.3h.9M35.7 214.4h.9M32.3 214.9h.9M47.4 221.6h.9M33.8 232.6h.9M72.6 215.8h.9M40.1 221.6h.9M37.4 223.4h.9M39.1 227.6h.9M31.7 199.9h.9M24.5 218.3h.9M56.6 200.6h.9M37.2 197.1h.9M41.5 202.2h.9M72.4 235.3h.9M63.5 220.0h.9M73.6 227.3h.9M56.1 219.3h.9M64.4 221.2h.9M63.0 210.0h.9M44.5 222.6h.9M70.4 207.0h.9M38.1 217.9h.9M35.7 216.8h.9M50.9 217.3h.9M53.3 201.0h.9M55.4 216.5h.9M53.5 207.0h.9M21.3 196.8h.9M67.2 226.3h.9M63.5 201.0h.9M74.4 234.0h.9M34.6 216.3h.9M32.4 210.6h.9M63.9 197.3h.9M24.8 196.5h.9M39.0 223.3h.9M76.4 223.8h.9M39.1 210.2h.9M48.4 230.2h.9M43.5 207.8h.9M63.1 217.0h.9M58.9 201.7h.9M39.7 210.2h.9M61.5 225.0h.9M51.0 213.4h.9M40.2 206.8h.9M39.8 216.2h.9M45.2 229.6h.9M44.7 219.4h.9M17.6 206.7h.9M17.9 231.7h.9M29.0 200.4h.9M58.7 226.1h.9M76.2 213.8h.9M76.6 184.7h.9M84.6 183.3h.9M78.6 196.3h.9M106.2 172.0h.9M80.9 198.9h.9M75.7 201.1h.9M86.6 197.1h.9M74.8 189.7h.9M77.2 181.6h.9M82.2 180.9h.9M68.4 177.4h.9M93.7 186.1h.9M69.0 200.3h.9M74.8 195.5h.9M77.8 195.8h.9M82.3 169.3h.9M98.2 202.5h.9M61.9 201.3h.9M77.2 193.2h.9M95.9 202.4h.9M92.1 213.0h.9M93.5 185.7h.9M64.1 200.8h.9M58.8 188.3h.9M75.5 184.6h.9M96.8 195.4h.9M77.2 201.4h.9M74.9 204.6h.9M105.3 190.6h.9M78.0 204.1h.9M55.7 178.9h.9M67.3 175.1h.9M79.9 195.1h.9M79.6 191.7h.9M91.3 203.2h.9M95.4 190.5h.9M80.2 207.4h.9M85.1 205.8h.9M74.1 191.5h.9M72.0 191.8h.9M85.2 187.3h.9M104.2 176.4h.9M90.7 180.6h.9M83.6 183.9h.9M80.9 192.7h.9M70.1 179.2h.9M71.1 192.2h.9M90.0 208.8h.9M58.7 196.7h.9M74.1 192.1h.9M83.9 200.2h.9M85.0 191.7h.9M99.2 194.9h.9M79.9 203.8h.9M65.8 182.1h.9M97.9 189.9h.9M57.9 200.3h.9M94.8 183.8h.9M63.8 191.4h.9M84.3 185.7h.9M68.6 197.4h.9M86.4 175.3h.9M66.1 188.5h.9M72.1 194.1h.9M86.1 211.2h.9M84.3 201.5h.9M60.6 184.6h.9M92.8 176.7h.9M96.3 197.5h.9M81.4 190.6h.9M65.4 180.6h.9M73.3 187.3h.9M94.9 181.2h.9M72.1 173.7h.9M81.8 191.8h.9M93.2 211.8h.9M86.3 182.9h.9M82.5 194.7h.9M79.0 180.5h.9M84.0 179.2h.9M78.7 188.6h.9M47.9 198.1h.9M105.9 188.0h.9M72.1 201.4h.9M63.6 192.0h.9M82.7 185.9h.9M78.8 182.9h.9M72.6 198.7h.9M69.0 185.8h.9M71.1 197.1h.9M75.1 182.9h.9M83.8 170.9h.9M56.3 194.8h.9M102.6 186.7h.9M83.9 177.3h.9M81.2 193.8h.9M86.8 184.0h.9M103.5 181.8h.9M98.4 180.6h.9M89.5 205.7h.9M106.4 190.6h.9M59.5 200.6h.9M71.0 180.6h.9M72.5 182.3h.9M89.2 193.8h.9M88.2 200.8h.9M75.0 199.2h.9M94.8 211.2h.9M81.9 189.1h.9M68.4 187.8h.9M80.0 194.5h.9M63.3 187.7h.9M77.4 185.7h.9M72.3 195.5h.9M67.9 196.8h.9M66.6 194.1h.9M66.2 204.2h.9M89.0 205.9h.9M69.5 178.2h.9M63.6 189.6h.9M93.0 199.3h.9M88.2 179.1h.9M93.2 199.5h.9M73.1 165.3h.9M70.1 190.5h.9M99.3 194.1h.9M79.1 208.5h.9M99.1 195.8h.9M87.5 205.0h.9M71.0 196.1h.9M74.6 181.8h.9M86.0 203.5h.9M103.0 200.0h.9M94.0 190.1h.9M61.3 185.3h.9M84.9 185.8h.9M103.7 204.7h.9M77.5 210.1h.9M88.0 209.2h.9M77.8 200.2h.9M77.2 192.2h.9M94.3 212.1h.9M81.6 195.2h.9M69.1 189.8h.9M86.2 178.9h.9M74.7 180.3h.9M82.5 201.4h.9M84.3 189.1h.9M67.5 175.1h.9M80.3 208.0h.9M102.0 230.4h.9M74.9 200.6h.9M91.2 186.9h.9M96.9 199.8h.9M73.2 209.1h.9M67.8 213.5h.9M36.5 202.6h.9M70.6 163.7h.9M74.0 172.4h.9M21.5 180.5h.9M106.8 205.0h.9M21.8 221.8h.9M91.4 176.3h.9M74.5 168.7h.9M93.8 224.9h.9M67.1 206.4h.9M68.0 189.5h.9M37.3 165.7h.9M71.6 175.0h.9M99.1 222.4h.9M38.0 200.6h.9M102.1 161.5h.9M40.1 198.7h.9M76.1 194.1h.9M101.2 219.4h.9M92.7 167.4h.9M45.6 190.9h.9M68.7 231.5h.9M90.0 216.7h.9M107.2 210.8h.9M85.0 191.4h.9M101.9 179.5h.9M64.6 167.2h.9M73.9 183.7h.9M40.3 188.4h.9M53.2 194.2h.9M49.5 225.6h.9M105.7 193.6h.9M105.6 210.4h.9M103.3 173.0h.9M55.2 188.7h.9M105.1 232.7h.9M76.2 173.6h.9M35.6 168.6h.9M61.0 165.8h.9M26.8 160.3h.9M65.9 171.5h.9M104.5 166.8h.9M55.3 173.2h.9M51.8 191.9h.9M23.9 214.8h.9M61.9 223.7h.9M79.5 204.7h.9M102.1 168.0h.9M48.6 224.1h.9M40.0 211.7h.9M103.2 224.7h.9M26.4 219.0h.9M50.5 175.8h.9M61.9 235.4h.9M104.1 221.1h.9M72.4 185.4h.9M97.5 220.2h.9M100.0 192.9h.9M86.3 168.1h.9M89.8 209.2h.9M92.0 211.8h.9M90.6 231.6h.9M46.5 175.4h.9M35.9 199.3h.9M41.5 183.5h.9M94.9 233.5h.9M81.4 171.7h.9M61.1 162.0h.9M25.0 201.7h.9M99.2 192.5h.9M18.1 176.7h.9M36.2 232.1h.9" stroke="#000" stroke-width="1.0" fill="none"/>
<path d="M115.2 237.9V148.5H209.4V237.9" fill="none" stroke="#222" stroke-width="1.1"/><path d="M115.2 237.9H209.4" fill="none" stroke="#555" stroke-width="0.9"/><path d="M113.2 171.1H115.2" stroke="#222" stroke-width="1.1"/><path d="M137.8 237.9V239.70000000000002" stroke="#333" stroke-width="1.1"/><path d="M113.2 193.1H115.2" stroke="#222" stroke-width="1.1"/><path d="M161.8 237.9V239.70000000000002" stroke="#333" stroke-width="1.1"/><path d="M113.2 215.1H115.2" stroke="#222" stroke-width="1.1"/><path d="M185.8 237.9V239.70000000000002" stroke="#333" stroke-width="1.1"/><path d="M114.4 150.5V237.9" stroke="#666" stroke-width="0.8" stroke-dasharray="0.8 2.6" fill="none"/><path d="M115.2 238.6H209.4" stroke="#666" stroke-width="0.7" stroke-dasharray="0.8 2.6" fill="none"/><path d="M133.8 183.0h.9M131.7 184.8h.9M122.4 178.0h.9M132.7 176.2h.9M135.0 178.1h.9M118.3 178.7h.9M129.4 180.0h.9M131.5 174.9h.9M140.2 183.6h.9M130.8 183.7h.9M122.8 177.3h.9M129.8 179.0h.9M128.6 183.4h.9M129.4 181.5h.9M127.7 180.6h.9M119.7 176.3h.9M127.2 177.5h.9M132.7 174.6h.9M149.4 186.4h.9M122.0 177.6h.9M143.3 181.5h.9M142.3 177.7h.9M126.7 178.4h.9M120.1 175.2h.9M134.2 171.1h.9M119.7 180.3h.9M132.5 173.2h.9M122.1 173.9h.9M139.2 173.1h.9M140.3 176.2h.9M137.4 182.5h.9M123.2 178.6h.9M133.5 178.7h.9M139.4 180.4h.9M136.5 177.4h.9M126.4 175.7h.9M139.9 182.4h.9M143.0 175.2h.9M138.5 176.7h.9M130.6 168.4h.9M132.8 183.3h.9M119.3 181.0h.9M129.6 179.3h.9M133.7 173.5h.9M126.0 181.9h.9M126.6 178.4h.9M122.0 179.3h.9M120.0 176.8h.9M143.4 180.9h.9M122.0 175.8h.9M127.0 180.8h.9M150.6 187.5h.9M122.8 177.7h.9M138.6 174.0h.9M123.5 176.2h.9M131.5 180.8h.9M136.6 178.7h.9M130.6 180.2h.9M122.1 177.7h.9M117.7 176.5h.9M132.1 179.0h.9M131.0 181.2h.9M152.4 174.0h.9M146.5 184.0h.9M122.4 176.0h.9M126.1 172.7h.9M131.3 183.5h.9M123.4 185.3h.9M132.8 182.5h.9M128.1 179.6h.9M126.8 181.0h.9M118.2 178.3h.9M125.9 178.1h.9M126.7 175.9h.9M120.7 180.5h.9M126.3 178.5h.9M134.5 175.8h.9M138.1 176.5h.9M121.3 179.7h.9M140.6 176.1h.9M117.7 183.5h.9M121.6 185.2h.9M134.3 180.4h.9M133.6 186.1h.9M125.1 179.9h.9M125.8 176.4h.9M129.5 171.4h.9M132.4 175.7h.9M122.0 182.8h.9M126.5 175.3h.9M137.3 181.6h.9M130.7 178.0h.9M137.2 180.0h.9M126.7 181.3h.9M136.1 179.1h.9M139.9 180.1h.9M128.4 177.6h.9M121.3 174.3h.9M123.6 179.5h.9M134.2 177.3h.9M120.6 178.4h.9M125.8 177.6h.9M121.4 180.6h.9M138.6 185.7h.9M119.7 181.1h.9M125.6 178.5h.9M120.9 186.9h.9M129.2 175.3h.9M128.5 179.1h.9M120.7 174.5h.9M131.9 178.0h.9M120.2 182.0h.9M126.5 182.2h.9M127.5 179.1h.9M147.0 176.8h.9M137.5 180.7h.9M128.0 175.3h.9M128.2 178.3h.9M125.5 176.8h.9M134.2 182.9h.9M130.6 182.1h.9M135.8 178.3h.9M131.4 175.7h.9M123.1 174.1h.9M127.1 171.8h.9M123.1 178.6h.9M119.3 184.7h.9M134.2 179.0h.9M139.2 177.7h.9M128.2 178.8h.9M122.3 180.0h.9M121.0 176.1h.9M127.7 175.3h.9M130.5 170.0h.9M129.6 178.9h.9M132.6 177.6h.9M142.6 177.2h.9M133.6 179.6h.9M125.2 177.1h.9M129.9 179.8h.9M135.9 182.2h.9M132.7 179.5h.9M119.3 182.3h.9M139.6 180.2h.9M134.7 177.5h.9M126.6 180.2h.9M131.2 176.1h.9M130.6 175.4h.9M124.1 178.8h.9M129.0 175.3h.9M132.9 177.7h.9M133.2 178.1h.9M128.1 177.2h.9M125.3 180.8h.9M133.1 181.2h.9M128.6 176.8h.9M125.0 182.0h.9M131.8 172.9h.9M122.6 181.5h.9M137.9 178.6h.9M125.7 170.9h.9M122.7 180.6h.9M122.3 183.0h.9M137.3 182.0h.9M131.9 180.9h.9M135.1 173.0h.9M126.6 179.0h.9M134.9 179.6h.9M121.7 181.4h.9M126.0 174.5h.9M132.0 171.4h.9M137.7 179.5h.9M124.8 178.2h.9M129.6 172.3h.9M139.7 175.3h.9M134.1 176.8h.9M137.6 176.8h.9M133.8 176.8h.9M133.8 172.2h.9M119.9 180.2h.9M124.2 178.6h.9M125.7 177.2h.9M145.2 179.6h.9M129.4 174.3h.9M147.2 182.9h.9M137.6 178.2h.9M134.7 184.1h.9M141.2 182.4h.9M149.6 182.4h.9M133.7 171.5h.9M129.0 178.2h.9M142.3 180.2h.9M129.6 180.0h.9M140.8 176.6h.9M137.2 179.2h.9M133.9 175.4h.9M118.5 176.2h.9M120.5 180.7h.9M135.5 172.8h.9M127.7 180.5h.9M120.0 179.2h.9M126.1 176.3h.9M134.8 189.0h.9M120.5 173.8h.9M126.9 179.8h.9M143.9 178.2h.9M124.6 183.6h.9M116.4 176.7h.9M132.0 177.1h.9M127.4 181.1h.9M137.8 178.3h.9M134.2 176.2h.9M133.2 184.5h.9M142.7 180.1h.9M135.0 180.7h.9M131.5 177.3h.9M127.2 179.9h.9M130.7 178.5h.9M137.6 178.7h.9M123.6 178.5h.9M131.0 173.9h.9M120.4 174.3h.9M123.9 177.1h.9M122.7 181.5h.9M132.3 168.9h.9M146.0 176.1h.9M136.7 179.8h.9M130.2 182.9h.9M120.7 178.0h.9M125.7 175.5h.9M121.2 176.0h.9M126.4 176.2h.9M128.0 174.8h.9M123.1 175.3h.9M124.1 180.9h.9M118.5 172.6h.9M118.0 182.0h.9M120.8 175.3h.9M119.4 178.8h.9M121.6 176.9h.9M118.1 176.4h.9M124.0 178.6h.9M122.5 182.1h.9M118.2 176.6h.9M117.0 176.8h.9M123.0 175.3h.9M127.8 183.0h.9M127.5 180.5h.9M127.9 180.3h.9M121.0 177.0h.9M126.9 171.2h.9M117.2 178.4h.9M117.4 175.1h.9M117.4 175.2h.9M121.8 174.9h.9M126.0 170.5h.9M124.8 179.1h.9M122.4 178.2h.9M116.8 175.5h.9M123.8 178.0h.9M123.5 172.1h.9M125.7 174.1h.9M122.6 177.5h.9M120.0 179.6h.9M119.4 176.8h.9M121.9 173.2h.9M119.3 175.5h.9M127.7 180.3h.9M117.1 175.1h.9M124.0 177.7h.9M120.8 178.2h.9M120.9 175.3h.9M122.4 177.0h.9M119.8 171.5h.9M124.7 175.2h.9M123.3 177.0h.9M121.8 178.8h.9M121.2 180.8h.9M122.8 175.5h.9M124.8 178.3h.9M118.0 176.5h.9M117.6 174.6h.9M117.9 174.6h.9M120.7 176.7h.9M122.2 176.9h.9M121.1 174.7h.9M180.7 186.6h.9M164.1 184.6h.9M181.1 168.9h.9M155.9 188.3h.9M168.3 186.3h.9M150.8 199.3h.9M164.0 184.7h.9M156.7 184.7h.9M160.0 173.1h.9M159.8 181.9h.9M162.6 189.4h.9M150.3 197.5h.9M164.8 179.5h.9M150.3 181.2h.9M161.5 196.8h.9M151.5 180.5h.9M162.8 186.3h.9M158.3 185.7h.9M156.1 200.6h.9M166.5 184.1h.9M168.7 201.7h.9M162.4 189.1h.9M154.8 187.7h.9M160.4 197.1h.9M151.2 173.7h.9M154.7 189.6h.9M142.7 185.1h.9M152.2 177.7h.9M159.7 195.9h.9M147.8 188.5h.9M157.3 191.8h.9M158.7 181.6h.9M165.7 190.0h.9M150.5 170.7h.9M153.0 188.2h.9M164.7 182.0h.9M155.5 172.2h.9M154.9 187.5h.9M153.9 185.7h.9M150.8 179.4h.9M160.7 174.2h.9M158.7 196.0h.9M154.0 182.6h.9M151.9 176.2h.9M153.9 176.4h.9M156.7 182.1h.9M149.4 186.7h.9M166.3 192.7h.9M156.2 186.2h.9M150.0 184.4h.9M163.5 192.3h.9M169.0 174.3h.9M170.7 189.3h.9M170.6 186.3h.9M168.0 186.1h.9M149.9 188.8h.9M154.2 185.9h.9M162.4 192.4h.9M163.4 193.9h.9M145.9 195.4h.9M151.6 187.0h.9M155.0 177.1h.9M165.2 178.2h.9M153.8 197.8h.9M140.4 172.9h.9M165.8 182.9h.9M164.5 186.1h.9M154.4 191.8h.9M152.7 181.9h.9M160.1 177.5h.9M146.8 173.1h.9M165.6 201.5h.9M167.6 181.2h.9M154.1 178.4h.9M158.2 194.5h.9M157.7 186.1h.9M132.6 188.7h.9M148.7 184.3h.9M161.1 187.2h.9M164.2 198.5h.9M140.2 174.0h.9M171.5 190.2h.9M152.6 184.3h.9M158.5 194.8h.9M155.8 186.4h.9M147.8 198.1h.9M162.1 182.7h.9M147.8 186.3h.9M165.5 204.9h.9M173.8 183.5h.9M155.2 178.7h.9M162.2 180.5h.9M163.2 189.2h.9M161.9 178.8h.9M167.8 185.0h.9M148.9 186.3h.9M160.0 187.1h.9M166.2 196.3h.9M176.9 185.9h.9M168.4 166.0h.9M173.7 186.5h.9M168.9 184.8h.9M163.1 191.8h.9M153.9 182.2h.9M135.6 191.2h.9M157.5 184.9h.9M168.6 189.6h.9M160.6 171.6h.9M160.0 184.4h.9M166.6 182.8h.9M148.9 184.9h.9M173.6 179.8h.9M169.1 185.4h.9M142.5 191.8h.9M177.7 190.4h.9M150.2 185.0h.9M151.7 209.8h.9M163.2 167.7h.9M165.4 190.4h.9M150.6 181.9h.9M158.2 200.6h.9M154.5 180.7h.9M166.5 181.7h.9M150.4 185.7h.9M165.4 188.0h.9M155.8 198.3h.9M170.0 173.9h.9M149.5 179.4h.9M157.0 188.1h.9M158.2 187.4h.9M162.4 176.5h.9M141.2 189.2h.9M168.8 188.4h.9M155.5 191.3h.9M156.2 176.3h.9M155.7 193.0h.9M161.4 192.3h.9M154.8 191.3h.9M170.3 184.2h.9M154.9 196.7h.9M159.7 177.5h.9M155.5 197.4h.9M161.8 201.8h.9M164.0 189.0h.9M167.4 182.0h.9M167.5 186.2h.9M156.9 190.1h.9M155.2 177.9h.9M151.8 191.1h.9M161.3 187.6h.9M164.7 179.8h.9M155.7 200.0h.9M151.4 197.2h.9M156.8 191.2h.9M160.9 185.0h.9M159.9 194.7h.9M153.4 179.4h.9M165.9 183.8h.9M157.6 185.5h.9M155.6 172.6h.9M158.2 183.3h.9M148.2 182.5h.9M160.9 200.8h.9M154.7 197.7h.9M155.4 190.7h.9M157.0 193.0h.9M160.1 183.9h.9M146.7 194.9h.9M147.1 182.2h.9M173.1 188.9h.9M159.7 188.1h.9M161.0 184.3h.9M161.8 185.8h.9M156.4 190.8h.9M164.1 189.9h.9M166.6 201.9h.9M172.7 187.9h.9M150.4 196.2h.9M160.0 193.3h.9M156.3 193.9h.9M150.3 188.5h.9M148.5 203.2h.9M157.1 170.6h.9M169.3 194.9h.9M170.1 178.3h.9M162.2 197.7h.9M157.8 190.4h.9M157.6 184.9h.9M170.2 181.2h.9M159.6 191.9h.9M159.7 194.0h.9M143.7 196.3h.9M150.0 185.6h.9M156.6 191.1h.9M157.9 184.0h.9M164.8 203.6h.9M154.5 182.1h.9M154.7 177.7h.9M149.7 183.6h.9M164.9 183.3h.9M152.8 186.4h.9M153.0 208.6h.9M171.4 187.5h.9M146.0 182.8h.9M152.1 180.3h.9M142.1 183.1h.9M154.5 181.9h.9M149.1 190.1h.9M152.4 169.4h.9M151.1 193.5h.9M168.6 178.2h.9M157.8 191.5h.9M166.3 183.4h.9M161.4 183.7h.9M144.9 194.3h.9M158.5 190.4h.9M157.4 180.2h.9M155.2 189.7h.9M149.1 199.1h.9M176.9 169.2h.9M166.3 183.6h.9M163.8 188.5h.9M157.6 194.1h.9M159.8 198.7h.9M161.6 175.8h.9M157.8 187.1h.9M154.6 177.5h.9M174.5 186.6h.9M158.9 174.4h.9M163.5 186.2h.9M167.7 200.4h.9M154.1 181.5h.9M168.3 195.6h.9M161.6 192.9h.9M156.7 187.0h.9M159.2 170.5h.9M165.0 193.3h.9M152.0 182.9h.9M161.5 192.8h.9M159.3 183.6h.9M162.5 188.2h.9M151.4 184.7h.9M156.3 192.4h.9M148.9 180.9h.9M156.1 187.4h.9M177.7 185.8h.9M167.4 193.3h.9M169.3 200.7h.9M163.7 179.6h.9M156.4 198.9h.9M176.0 197.2h.9M177.9 192.6h.9M152.7 188.0h.9M161.5 194.4h.9M165.9 180.3h.9M168.4 182.8h.9M161.4 192.3h.9M164.7 191.3h.9M155.0 186.2h.9M166.5 183.6h.9M150.0 167.3h.9M159.3 180.1h.9M159.2 178.8h.9M155.7 184.2h.9M166.6 180.3h.9M149.8 188.0h.9M165.6 180.0h.9M163.1 187.2h.9M163.0 172.5h.9M159.8 185.1h.9M160.7 181.8h.9M158.2 169.9h.9M158.9 197.8h.9M160.6 187.6h.9M161.8 198.2h.9M153.7 175.5h.9M150.3 181.8h.9M159.8 193.5h.9M153.3 179.0h.9M166.1 195.5h.9M153.0 193.0h.9M157.6 183.2h.9M158.0 180.2h.9M145.6 175.8h.9M153.0 189.3h.9M162.1 193.7h.9M152.7 186.7h.9M147.5 179.2h.9M167.1 185.9h.9M173.8 192.3h.9M155.2 181.4h.9M142.5 197.3h.9M166.8 215.4h.9M175.3 189.6h.9M150.7 172.9h.9M155.9 186.7h.9M147.3 192.5h.9M166.6 179.1h.9M156.9 175.7h.9M167.0 179.8h.9M187.5 198.0h.9M187.4 199.4h.9M180.6 218.0h.9M191.1 201.6h.9M186.4 210.8h.9M196.2 211.0h.9M187.1 221.4h.9M199.1 191.8h.9M181.6 214.8h.9M184.3 204.9h.9M181.0 211.0h.9M180.0 221.2h.9M174.6 207.8h.9M188.4 219.0h.9M177.2 224.0h.9M176.2 213.0h.9M181.4 224.8h.9M184.3 214.7h.9M187.1 210.8h.9M188.9 211.2h.9M182.5 204.1h.9M190.8 209.5h.9M188.3 217.4h.9M183.0 220.2h.9M188.9 214.7h.9M188.3 204.9h.9M180.5 215.8h.9M193.4 210.8h.9M178.3 220.5h.9M179.7 220.4h.9M177.4 211.9h.9M196.7 200.8h.9M205.1 193.6h.9M193.2 206.0h.9M190.3 207.4h.9M190.7 205.6h.9M173.1 213.6h.9M200.8 208.1h.9M180.6 214.1h.9M189.1 210.0h.9M190.7 212.7h.9M185.9 206.8h.9M179.9 210.1h.9M178.8 208.6h.9M189.7 208.9h.9M192.9 211.3h.9M186.8 211.1h.9M199.9 203.8h.9M179.6 203.4h.9M185.0 213.1h.9M187.2 203.1h.9M194.9 204.2h.9M184.9 210.0h.9M172.5 219.9h.9M180.3 205.2h.9M186.3 215.6h.9M197.2 214.6h.9M189.7 208.6h.9M187.0 207.4h.9M206.6 200.7h.9M203.3 205.3h.9M191.4 203.4h.9M166.8 218.4h.9M183.7 204.7h.9M188.0 211.3h.9M168.3 207.7h.9M187.8 212.6h.9M177.8 211.7h.9M190.3 218.2h.9M189.1 220.5h.9M191.5 202.3h.9M182.6 206.8h.9M178.4 209.3h.9M179.3 206.3h.9M191.9 207.7h.9M179.1 209.6h.9M197.0 205.8h.9M193.3 207.5h.9M179.1 219.1h.9M198.9 208.4h.9M176.8 213.5h.9M192.4 214.2h.9M184.8 213.8h.9M180.1 217.8h.9M171.3 229.1h.9M185.0 211.9h.9M190.9 214.1h.9M195.8 208.8h.9M184.3 200.9h.9M180.4 217.0h.9M182.9 211.0h.9M184.0 208.3h.9M180.7 222.4h.9M185.9 210.7h.9M186.2 215.8h.9M182.8 210.2h.9M187.8 211.0h.9M185.4 208.8h.9M178.7 218.3h.9M177.1 211.8h.9M180.2 215.0h.9M185.3 207.2h.9M188.3 206.3h.9M184.5 211.3h.9M173.8 222.2h.9M183.7 211.8h.9M188.4 204.2h.9M179.0 206.8h.9M179.3 224.6h.9M198.4 208.9h.9M181.5 220.6h.9M185.6 220.6h.9M189.4 205.6h.9M181.7 214.1h.9M197.0 207.7h.9M178.2 215.0h.9M185.6 216.6h.9M197.5 199.2h.9M190.7 206.5h.9M189.9 200.5h.9M189.1 219.2h.9M197.9 211.7h.9M182.0 219.5h.9M175.8 215.6h.9M174.0 210.5h.9M191.5 208.8h.9M176.6 209.4h.9M198.9 204.0h.9M185.5 215.2h.9M182.3 205.7h.9M180.3 219.4h.9M190.4 220.4h.9M188.1 218.1h.9M178.3 199.3h.9M185.3 195.2h.9M190.2 214.7h.9M198.5 206.1h.9M189.7 213.4h.9M180.2 209.0h.9M181.6 213.7h.9M185.0 222.9h.9M191.2 216.7h.9M187.7 213.1h.9M182.3 209.5h.9M183.3 210.1h.9M178.8 209.8h.9M194.0 210.2h.9M183.5 215.9h.9M184.6 217.9h.9M184.9 217.0h.9M191.8 209.7h.9M186.7 203.1h.9M188.6 212.8h.9M190.2 218.3h.9M182.2 216.1h.9M180.9 206.6h.9M185.1 211.7h.9M171.9 216.3h.9M184.2 207.9h.9M179.6 205.3h.9M183.5 212.8h.9M191.5 222.4h.9M187.2 212.8h.9M188.5 215.5h.9M175.6 228.3h.9M179.7 207.9h.9M178.0 206.9h.9M189.4 205.0h.9M192.6 206.2h.9M185.7 206.8h.9M180.9 210.2h.9M178.8 219.7h.9M189.4 211.0h.9M188.1 205.7h.9M174.3 209.8h.9M187.7 220.9h.9M206.5 210.3h.9M191.7 193.6h.9M195.9 196.9h.9M184.0 201.0h.9M189.0 213.4h.9M190.8 208.0h.9M186.3 220.8h.9M188.0 213.5h.9M182.2 213.7h.9M188.7 211.0h.9M177.2 209.2h.9M188.8 210.7h.9M184.4 213.8h.9M177.7 222.9h.9M198.1 211.5h.9M187.7 204.6h.9M177.5 214.9h.9M198.3 205.6h.9M184.0 215.3h.9M197.0 207.7h.9M192.1 211.7h.9M190.9 201.4h.9M196.2 198.8h.9M179.2 217.0h.9M193.1 213.8h.9M186.3 215.0h.9M183.0 212.2h.9M185.8 213.4h.9M179.8 218.7h.9M176.6 210.8h.9M198.8 203.4h.9M185.7 213.5h.9M192.5 206.8h.9M192.7 206.3h.9M185.5 209.9h.9M182.1 210.5h.9M187.6 213.6h.9M176.7 219.7h.9M181.8 217.1h.9M180.5 227.0h.9M191.7 210.7h.9M188.0 218.6h.9M199.8 196.9h.9M200.8 208.3h.9M185.6 214.9h.9M183.6 214.0h.9M181.6 211.3h.9M199.9 202.7h.9M184.3 208.5h.9M193.2 213.3h.9M187.4 203.3h.9M185.3 219.9h.9M191.2 201.0h.9M193.5 207.5h.9M185.8 219.1h.9M185.2 209.7h.9M192.7 212.6h.9M187.1 204.9h.9M187.0 209.7h.9M181.2 210.3h.9M179.5 226.7h.9M193.3 206.2h.9M191.4 205.1h.9M192.9 204.0h.9M184.3 212.8h.9M188.7 196.7h.9M201.2 207.0h.9M186.9 210.3h.9M173.2 213.7h.9M180.9 210.2h.9M179.0 204.3h.9M188.0 208.7h.9M180.8 205.7h.9M189.7 213.2h.9M188.6 213.8h.9M181.9 214.9h.9M188.2 209.4h.9M193.6 209.1h.9M186.8 217.1h.9M173.1 224.8h.9M182.4 214.3h.9M183.9 220.3h.9M183.9 204.5h.9M197.3 208.4h.9M184.0 215.2h.9M195.0 200.8h.9M192.6 199.0h.9M187.4 205.5h.9M171.6 213.3h.9M187.5 205.0h.9M187.2 214.1h.9M186.2 200.5h.9M189.5 210.4h.9M195.5 209.6h.9M190.5 203.5h.9M194.0 216.3h.9M181.4 215.9h.9M189.1 201.7h.9M194.7 213.9h.9M177.4 217.5h.9M185.3 200.6h.9M190.1 210.8h.9M183.0 215.0h.9M191.7 209.5h.9M189.1 213.6h.9M186.1 215.1h.9M182.1 210.5h.9M174.9 212.3h.9M179.9 212.2h.9M188.8 210.2h.9M186.1 204.4h.9M188.5 202.1h.9M186.3 212.2h.9M181.8 204.3h.9M187.4 215.2h.9M190.5 202.0h.9M179.1 214.5h.9M177.5 214.6h.9M194.9 204.0h.9M186.8 211.8h.9M189.8 205.1h.9M170.7 218.2h.9M172.0 213.8h.9M185.1 213.4h.9M179.9 214.9h.9M190.1 208.2h.9M188.3 194.1h.9M200.1 209.8h.9M185.3 222.0h.9M178.2 207.4h.9M192.9 207.5h.9M188.4 203.2h.9M190.5 202.8h.9M199.2 203.6h.9M193.8 212.4h.9M174.6 218.3h.9M181.8 220.0h.9M183.7 211.1h.9M179.1 219.4h.9M185.4 208.0h.9M188.2 214.5h.9M179.4 211.7h.9M187.0 210.8h.9M188.0 208.6h.9M189.7 203.2h.9M184.4 213.1h.9M193.6 217.9h.9M188.6 212.8h.9M182.4 210.3h.9M184.2 218.3h.9M186.9 212.9h.9M164.7 220.6h.9M188.5 212.2h.9M183.3 207.7h.9M188.0 207.8h.9M187.5 209.9h.9M175.9 219.1h.9M189.9 211.9h.9M178.4 209.8h.9M186.4 203.9h.9M185.8 215.8h.9M190.4 214.7h.9M188.3 207.1h.9M186.5 211.4h.9M171.8 214.3h.9M182.1 213.9h.9M174.2 211.2h.9M197.7 212.2h.9M180.4 220.9h.9M189.2 214.5h.9M182.4 206.8h.9M185.7 209.3h.9M190.6 204.0h.9M191.4 209.8h.9M182.3 219.8h.9M175.5 211.9h.9M184.1 216.7h.9M180.3 209.2h.9M204.7 198.2h.9M193.3 210.6h.9M196.5 206.3h.9M184.7 203.8h.9M188.0 208.3h.9M182.4 217.8h.9M179.7 219.5h.9M187.3 207.1h.9M183.6 210.3h.9M190.5 195.4h.9M181.0 214.9h.9M171.4 218.0h.9M179.3 216.3h.9M182.6 213.4h.9M179.9 218.0h.9M188.3 208.3h.9M187.3 210.2h.9M182.9 210.3h.9M189.2 208.2h.9M198.1 204.3h.9M174.6 200.6h.9M192.5 205.8h.9M201.3 202.2h.9M180.5 217.2h.9M179.2 214.8h.9M182.0 217.5h.9M186.6 210.6h.9M192.6 198.0h.9M181.9 219.5h.9M186.6 201.2h.9M201.5 206.2h.9M188.6 219.8h.9M183.0 224.5h.9M178.7 212.5h.9M190.8 213.6h.9M196.4 206.5h.9M191.8 213.9h.9M187.2 205.4h.9M170.5 202.8h.9M179.5 216.8h.9M191.3 210.6h.9M190.5 211.0h.9M187.1 214.2h.9M189.9 203.8h.9M174.5 220.5h.9M184.3 206.4h.9M189.6 209.3h.9M193.3 205.0h.9M181.9 202.0h.9M188.9 215.5h.9M187.8 207.9h.9M182.3 209.6h.9M197.0 202.8h.9M186.7 206.2h.9M177.0 217.6h.9M188.5 204.7h.9M177.6 221.2h.9M198.8 204.9h.9M187.2 206.2h.9M180.4 218.7h.9M191.0 206.8h.9M181.2 213.2h.9M181.0 210.0h.9M181.3 222.3h.9M186.0 202.2h.9M191.1 211.9h.9M184.1 211.5h.9M180.4 205.9h.9M185.6 210.2h.9M191.9 210.9h.9M188.1 205.3h.9M182.8 216.4h.9M185.8 212.0h.9M184.0 213.9h.9M194.3 209.5h.9M173.7 221.6h.9M190.6 214.1h.9M179.5 210.8h.9M184.6 208.1h.9M175.3 210.4h.9M175.6 213.9h.9M182.5 210.5h.9M186.3 217.1h.9M178.2 209.0h.9M187.6 210.1h.9M172.0 217.5h.9M186.0 205.9h.9M187.8 213.1h.9M195.9 211.7h.9M179.7 219.7h.9M188.3 223.2h.9M190.9 203.8h.9M168.3 216.0h.9M183.1 211.6h.9M189.0 202.8h.9M187.7 210.9h.9M184.1 215.4h.9M185.2 211.2h.9M179.9 211.2h.9M196.5 207.9h.9M200.6 203.4h.9M173.9 211.8h.9M197.7 197.2h.9M180.9 208.4h.9M180.7 218.1h.9M194.1 209.2h.9M193.7 202.4h.9M187.8 217.0h.9M184.6 220.3h.9M203.9 216.6h.9M192.1 207.8h.9M176.9 220.0h.9M174.4 211.6h.9M191.7 203.8h.9M189.6 208.6h.9M184.5 204.7h.9M180.3 206.3h.9M191.0 208.8h.9M191.4 206.5h.9M185.5 219.6h.9M180.3 219.8h.9M178.9 208.2h.9M188.8 203.4h.9M188.8 207.7h.9M190.6 204.6h.9M177.1 214.2h.9M197.4 200.6h.9M185.6 208.6h.9M174.3 224.3h.9M172.9 216.2h.9M181.4 215.2h.9M183.9 207.0h.9M178.9 204.1h.9M187.2 226.0h.9M170.2 209.4h.9M182.3 208.6h.9M188.9 206.7h.9M180.1 218.9h.9M192.7 208.9h.9M190.3 219.3h.9M194.9 203.4h.9M191.7 206.1h.9M196.2 197.6h.9M184.7 207.7h.9M191.1 206.0h.9M186.8 204.3h.9M187.4 209.5h.9M178.8 205.3h.9M191.6 213.2h.9M195.4 204.4h.9M191.9 212.5h.9M178.5 217.2h.9M184.6 202.1h.9M186.8 204.8h.9M189.8 216.7h.9M174.3 220.5h.9M184.5 210.6h.9M183.2 211.1h.9M172.3 215.7h.9M183.3 208.7h.9M184.6 221.9h.9M182.0 214.4h.9M186.9 213.1h.9M193.2 214.9h.9M177.1 222.6h.9M179.3 212.9h.9M170.1 213.8h.9M196.1 215.6h.9M186.0 205.8h.9M199.0 207.2h.9M178.5 217.1h.9M195.8 203.1h.9M193.1 210.8h.9M177.4 219.3h.9M187.1 218.8h.9M171.4 214.1h.9M179.4 208.5h.9M193.5 211.9h.9M192.2 205.3h.9M178.8 218.5h.9M195.7 203.2h.9M184.5 206.6h.9M172.6 220.6h.9M188.0 215.3h.9M180.8 206.8h.9M186.6 212.8h.9M187.3 216.0h.9M181.3 217.2h.9M186.6 210.7h.9M168.6 213.8h.9M179.4 218.1h.9M189.8 208.1h.9M177.7 208.8h.9M185.9 214.3h.9M191.4 207.8h.9M177.0 218.5h.9M186.5 201.4h.9M199.2 207.1h.9M186.3 210.1h.9M184.7 207.6h.9M176.1 222.0h.9M172.6 213.6h.9M183.3 216.6h.9M190.2 203.0h.9M193.3 211.6h.9M182.0 209.7h.9M179.1 212.1h.9M184.3 211.7h.9M193.3 211.2h.9M178.8 203.0h.9M190.6 216.3h.9M202.0 204.8h.9M180.5 207.8h.9M182.4 207.0h.9M196.1 206.0h.9M178.7 205.8h.9M188.8 209.1h.9M198.3 208.4h.9M191.1 209.6h.9M178.7 210.7h.9M183.5 213.4h.9M181.6 211.6h.9M181.1 218.5h.9M178.5 222.4h.9M192.4 203.1h.9M185.3 217.1h.9M189.8 208.3h.9M183.1 212.4h.9M176.3 212.2h.9M180.0 210.7h.9M180.1 209.8h.9M189.6 213.6h.9M191.6 207.4h.9M181.0 213.9h.9M187.1 210.2h.9M193.0 210.3h.9M185.5 221.2h.9M186.5 216.8h.9M189.8 211.0h.9M191.8 208.2h.9M189.9 213.6h.9M197.7 201.6h.9M189.0 212.6h.9M188.7 206.6h.9M175.7 214.7h.9M190.8 214.0h.9M199.6 203.5h.9M183.9 213.9h.9M192.7 198.1h.9M188.2 204.5h.9M179.9 212.7h.9M176.3 217.7h.9M179.7 211.7h.9M190.2 210.4h.9M178.1 212.8h.9M176.6 216.3h.9M172.2 213.8h.9M189.3 212.3h.9M184.2 208.9h.9M183.8 217.9h.9M189.9 212.5h.9M185.9 206.5h.9M175.8 215.1h.9M190.4 212.1h.9M188.9 203.5h.9M187.2 210.6h.9M179.0 214.9h.9M186.0 203.7h.9M186.1 208.2h.9M174.1 210.3h.9M191.5 196.4h.9M188.0 211.9h.9M170.9 212.5h.9M182.7 209.7h.9M176.1 219.9h.9M175.8 218.0h.9M179.6 217.5h.9M191.9 212.0h.9M181.3 201.4h.9M182.7 206.2h.9M186.2 219.5h.9M185.0 214.7h.9M191.0 202.8h.9M194.4 216.0h.9M188.8 210.4h.9M195.6 201.1h.9M184.2 211.3h.9M188.4 211.6h.9M179.1 208.9h.9M195.3 207.3h.9M176.6 209.7h.9M177.4 209.0h.9M189.9 215.3h.9M195.7 203.8h.9M183.7 205.9h.9M178.1 211.1h.9M186.7 204.0h.9M184.2 215.2h.9M176.2 216.4h.9M194.7 213.1h.9M191.2 210.9h.9M177.4 221.4h.9M194.2 198.9h.9M192.7 210.7h.9M192.5 210.5h.9M184.5 212.7h.9M183.6 208.1h.9M177.2 217.7h.9M173.5 214.4h.9M200.1 208.7h.9M193.3 206.1h.9M187.5 208.6h.9M184.7 205.2h.9M193.8 206.3h.9M194.8 214.2h.9M188.9 216.5h.9M190.8 211.7h.9M186.8 204.5h.9M186.6 208.9h.9M165.4 217.5h.9M191.7 210.5h.9M187.1 210.6h.9M180.3 213.7h.9M186.5 202.3h.9M187.6 212.5h.9M187.5 216.1h.9M189.0 209.9h.9M185.7 199.5h.9M180.7 211.5h.9M179.9 211.2h.9M193.0 200.2h.9M185.7 206.7h.9M189.0 211.5h.9M187.1 212.4h.9M184.8 207.3h.9M185.9 197.7h.9M184.9 217.5h.9M189.4 202.4h.9M192.1 208.0h.9M184.5 210.1h.9M181.5 203.9h.9M186.0 209.2h.9M180.7 210.0h.9M189.7 208.9h.9M167.0 220.4h.9M170.2 216.3h.9M182.8 207.3h.9M177.4 217.3h.9M187.2 215.4h.9M175.6 214.0h.9M182.7 209.9h.9M172.5 207.9h.9M171.1 219.7h.9M199.6 202.3h.9M191.1 207.0h.9M187.8 215.3h.9M198.4 203.9h.9M174.7 211.0h.9M183.1 217.2h.9M183.9 200.9h.9M183.4 209.6h.9M175.0 216.9h.9M182.1 215.2h.9M181.0 206.8h.9M190.6 207.8h.9M185.9 209.9h.9M180.9 214.4h.9M181.3 214.3h.9M181.8 210.4h.9M197.5 207.1h.9M181.9 217.1h.9M193.8 211.3h.9M185.5 211.8h.9M188.6 205.8h.9M190.7 209.2h.9M189.9 207.5h.9M185.6 203.3h.9M185.7 211.4h.9M177.1 199.7h.9M179.0 215.4h.9M197.0 213.7h.9M187.5 213.6h.9M178.5 202.4h.9M174.9 211.8h.9M178.4 215.1h.9M184.4 197.4h.9M185.9 204.7h.9M182.4 206.6h.9M179.6 211.9h.9M193.9 216.2h.9M178.9 211.8h.9M178.9 206.2h.9M189.9 206.6h.9M187.6 203.5h.9M179.9 211.3h.9M189.2 204.7h.9M192.0 210.7h.9M179.7 206.3h.9M180.1 220.8h.9M184.8 205.6h.9M184.0 208.5h.9M182.3 212.8h.9M173.2 210.2h.9M190.3 208.9h.9M187.7 206.8h.9M198.2 212.7h.9M188.7 212.4h.9M189.4 205.3h.9M190.6 216.5h.9M182.7 224.7h.9M180.1 223.1h.9M185.2 207.0h.9M175.5 213.8h.9M180.7 210.7h.9M192.5 206.1h.9M190.5 205.4h.9M179.6 213.8h.9M178.2 213.4h.9M180.8 208.3h.9M171.9 208.8h.9M185.4 214.0h.9M197.7 192.7h.9M195.1 203.4h.9M186.4 208.1h.9M188.0 221.9h.9M193.1 207.4h.9M188.4 214.9h.9M194.7 194.9h.9M189.6 201.6h.9M182.9 209.8h.9M196.4 198.7h.9M193.8 200.4h.9M184.8 206.7h.9M184.1 224.5h.9M178.4 206.9h.9M182.4 224.9h.9M187.9 211.1h.9M179.4 216.2h.9M179.3 218.3h.9M188.3 205.9h.9M185.5 206.8h.9M178.3 217.6h.9M189.1 212.7h.9M188.0 214.8h.9M176.0 218.4h.9M186.2 203.4h.9M175.6 219.9h.9M189.2 207.4h.9M196.5 210.5h.9M182.8 210.5h.9M200.7 211.9h.9M179.0 202.6h.9M189.3 207.8h.9M181.8 207.0h.9M180.1 217.9h.9M183.7 208.2h.9M195.7 200.8h.9M183.9 205.1h.9M186.0 214.8h.9M187.6 206.8h.9M190.3 216.7h.9M172.3 210.6h.9M195.7 217.9h.9M192.6 215.6h.9M186.0 217.5h.9M188.2 209.2h.9M182.3 212.9h.9M189.9 215.7h.9M190.3 214.8h.9M188.6 206.6h.9M182.5 215.7h.9M179.7 215.0h.9M184.6 208.6h.9M194.5 201.9h.9M179.0 214.9h.9M187.8 216.2h.9M192.4 207.7h.9M192.3 212.3h.9M194.0 202.7h.9M188.0 207.0h.9M194.2 215.1h.9M186.7 209.0h.9M191.2 199.1h.9M187.2 202.6h.9M180.9 210.6h.9M188.2 208.0h.9M188.0 201.7h.9M190.5 208.3h.9M184.1 206.9h.9M176.7 219.0h.9M185.6 219.3h.9M194.0 210.1h.9M184.9 212.8h.9M193.0 200.7h.9M185.5 210.4h.9M175.0 216.0h.9M183.3 210.5h.9M192.9 203.5h.9M189.7 217.5h.9M176.5 214.1h.9M191.2 206.5h.9M195.8 217.3h.9M180.3 214.2h.9M186.2 204.2h.9M179.4 200.6h.9M186.9 207.2h.9M171.5 210.9h.9M179.1 213.4h.9M178.8 211.4h.9M185.4 215.6h.9M167.6 219.0h.9M186.2 209.7h.9M189.1 207.7h.9M184.6 209.6h.9M197.0 204.1h.9M194.4 203.9h.9M176.0 210.4h.9M187.0 210.9h.9M184.7 208.8h.9M187.3 213.3h.9M191.5 205.6h.9M179.6 211.7h.9M195.1 208.3h.9M183.9 217.4h.9M184.0 208.3h.9M179.5 222.1h.9M179.3 212.4h.9M182.6 208.0h.9M192.4 206.5h.9M185.1 214.3h.9M190.4 218.8h.9M195.2 211.3h.9M190.6 212.5h.9M197.1 214.9h.9M172.4 211.2h.9M178.0 217.3h.9M180.0 214.9h.9M182.7 205.2h.9M188.4 208.7h.9M193.3 199.9h.9M186.7 212.6h.9M192.1 214.2h.9M190.4 211.0h.9M175.3 213.9h.9M178.0 215.6h.9M195.1 213.3h.9M174.5 217.2h.9M181.5 219.5h.9M191.5 219.2h.9M184.4 208.2h.9M185.0 210.9h.9M187.4 208.2h.9M195.4 207.5h.9M196.8 209.3h.9M180.1 212.8h.9M186.1 207.0h.9M190.1 217.8h.9M182.2 211.1h.9M173.4 217.5h.9M193.3 217.7h.9M184.4 218.7h.9M183.0 216.0h.9M183.2 217.2h.9M168.5 216.7h.9M199.4 199.7h.9M195.0 205.3h.9M192.9 206.1h.9M177.2 214.3h.9M192.1 210.9h.9M189.9 207.6h.9M182.9 205.8h.9M176.6 211.4h.9M180.8 216.7h.9M191.1 205.2h.9M179.3 214.0h.9M169.0 217.4h.9M173.5 210.4h.9M189.7 213.8h.9M198.1 203.7h.9M188.8 201.3h.9M188.5 205.9h.9M186.9 206.7h.9M183.8 197.5h.9M182.7 225.1h.9M181.8 212.1h.9M192.4 207.8h.9M181.3 209.0h.9M188.6 213.1h.9M183.5 212.2h.9M182.7 208.9h.9M186.0 211.1h.9M189.8 207.3h.9M182.6 219.1h.9M195.3 195.9h.9M180.3 217.2h.9M179.0 207.8h.9M186.6 213.6h.9M180.8 210.3h.9M189.9 209.7h.9M187.8 216.8h.9M198.1 198.7h.9M174.6 212.3h.9M188.7 217.0h.9M192.7 207.8h.9M170.0 214.9h.9M200.8 206.2h.9M188.4 208.7h.9M188.4 216.0h.9M190.0 213.5h.9M180.7 214.5h.9M179.7 216.9h.9M194.2 222.0h.9M195.0 197.7h.9M190.8 204.9h.9M183.8 211.0h.9M169.8 219.3h.9M192.4 206.2h.9M186.9 207.2h.9M180.5 216.3h.9M175.5 212.0h.9M181.7 213.8h.9M185.2 202.2h.9M182.9 206.2h.9M182.2 215.9h.9M190.1 223.7h.9M172.1 209.0h.9M182.4 214.4h.9M182.9 210.0h.9M172.1 204.4h.9M195.6 207.2h.9M186.8 215.2h.9M186.5 207.2h.9M181.1 215.1h.9M199.1 206.7h.9M194.8 209.3h.9M185.9 213.9h.9M176.3 211.7h.9M181.3 213.6h.9M187.2 209.8h.9M188.9 208.8h.9M182.3 209.6h.9M178.9 216.2h.9M193.8 207.6h.9M178.4 207.8h.9M182.7 210.8h.9M183.5 211.4h.9M183.6 213.3h.9M200.2 200.9h.9M184.0 216.1h.9M178.6 217.8h.9M179.6 220.1h.9M186.7 206.1h.9M179.4 219.3h.9M193.8 199.0h.9M178.6 216.8h.9M197.7 204.8h.9M181.1 217.9h.9M185.3 209.9h.9M187.5 206.5h.9M190.7 221.7h.9M168.7 222.0h.9M194.7 203.8h.9M186.7 208.7h.9M196.0 203.0h.9M189.8 208.1h.9M195.5 204.0h.9M191.0 202.2h.9M188.2 205.8h.9M187.5 206.2h.9M187.6 205.4h.9M188.3 206.9h.9M176.1 222.9h.9M185.6 202.9h.9M178.3 216.0h.9M186.5 216.9h.9M196.0 199.9h.9M188.2 217.0h.9M186.3 210.8h.9M185.7 210.5h.9M183.1 209.4h.9M189.1 206.2h.9M184.8 218.2h.9M184.0 210.4h.9M179.3 218.6h.9M180.6 213.7h.9M189.6 210.8h.9M189.8 214.6h.9M192.1 208.1h.9M182.7 207.1h.9M185.0 205.3h.9M187.1 208.3h.9M165.9 218.9h.9M180.2 212.1h.9M182.3 211.3h.9M194.5 212.7h.9M173.7 209.3h.9M185.5 208.9h.9M196.1 204.3h.9M182.5 213.4h.9M187.4 219.7h.9M191.8 213.6h.9M163.8 209.7h.9M190.7 215.0h.9M181.7 210.1h.9M178.9 220.8h.9M198.0 206.8h.9M187.2 210.9h.9M194.5 207.7h.9M181.9 208.1h.9M191.5 214.9h.9M171.7 212.2h.9M181.5 212.1h.9M189.4 209.6h.9M177.4 220.0h.9M191.7 206.9h.9M185.7 217.3h.9M186.3 211.2h.9M185.8 214.6h.9M201.2 207.8h.9M183.5 212.5h.9M193.1 207.1h.9M171.3 217.7h.9M197.0 205.4h.9M185.2 211.0h.9M196.3 205.8h.9M169.7 197.5h.9M186.6 214.7h.9M185.4 198.8h.9M190.7 219.7h.9M189.3 221.3h.9M182.7 211.8h.9M194.3 212.9h.9M192.3 202.7h.9M188.9 210.3h.9M181.1 205.6h.9M197.7 212.3h.9M184.9 211.5h.9M188.5 210.6h.9M193.3 211.9h.9M180.0 215.0h.9M179.2 214.7h.9M190.9 213.0h.9M183.8 207.6h.9M174.8 217.6h.9M186.7 219.0h.9M192.7 204.2h.9M178.5 214.4h.9M187.9 208.5h.9M186.5 208.6h.9M183.1 213.3h.9M175.4 220.2h.9M175.2 219.3h.9M174.0 218.6h.9M178.1 217.4h.9M173.0 215.6h.9M189.4 210.6h.9M195.5 212.4h.9M188.0 212.4h.9M180.5 218.2h.9M186.5 202.8h.9M193.6 200.2h.9M188.0 204.8h.9M178.8 208.1h.9M196.2 204.5h.9M171.5 215.8h.9M186.0 210.4h.9M180.9 219.4h.9M190.8 212.7h.9M187.2 214.5h.9M167.9 211.0h.9M190.8 199.5h.9M193.6 205.9h.9M189.4 218.3h.9M177.2 218.6h.9M188.1 213.1h.9M181.5 211.2h.9M179.7 212.3h.9M185.7 210.1h.9M187.5 205.9h.9M184.8 210.9h.9M197.9 211.8h.9M179.2 225.0h.9M177.8 216.0h.9M188.7 202.8h.9M195.7 201.9h.9M196.7 203.6h.9M182.4 210.1h.9M188.8 208.2h.9M181.0 212.2h.9M172.4 215.2h.9M188.2 206.3h.9M187.4 210.8h.9M181.2 212.1h.9M170.5 211.0h.9M184.0 212.2h.9M190.3 199.3h.9M188.0 215.6h.9M182.9 212.3h.9M186.3 207.4h.9M189.9 211.3h.9M180.4 217.6h.9M191.5 209.7h.9M174.3 208.4h.9M182.2 210.0h.9M181.5 206.4h.9M192.0 205.5h.9M187.8 206.3h.9M192.4 208.3h.9M176.4 211.8h.9M182.9 210.1h.9M187.1 215.9h.9M183.8 211.2h.9M195.3 210.1h.9M170.3 210.7h.9M181.6 212.5h.9M198.3 211.3h.9M188.0 220.7h.9M189.4 205.3h.9M195.3 204.1h.9M195.4 201.8h.9M180.0 217.6h.9M180.0 215.3h.9M180.6 213.5h.9M194.9 206.7h.9M184.0 207.3h.9M195.9 210.1h.9M193.8 200.0h.9M185.1 214.4h.9M180.2 205.9h.9M178.6 214.9h.9M197.8 208.0h.9M181.4 203.2h.9M201.9 198.0h.9M190.4 208.7h.9M182.7 208.2h.9M183.7 213.2h.9M194.5 208.7h.9M184.0 210.7h.9M181.4 209.0h.9M190.4 206.5h.9M195.7 212.0h.9M186.1 214.3h.9M178.4 223.9h.9M170.3 216.7h.9M174.3 216.4h.9M187.5 210.5h.9M185.1 211.0h.9M187.8 217.8h.9M195.4 195.5h.9M194.6 206.0h.9M186.0 212.7h.9M173.8 219.3h.9M195.7 206.0h.9M179.6 226.3h.9M186.4 211.1h.9M185.1 214.5h.9M185.2 208.4h.9M180.0 223.5h.9M183.9 208.7h.9M186.4 203.7h.9M192.6 204.3h.9M190.9 208.6h.9M186.3 205.1h.9M181.3 199.7h.9M182.7 211.5h.9M175.8 215.2h.9M184.1 206.7h.9M173.3 221.1h.9M177.1 215.0h.9M179.4 209.8h.9M188.7 206.9h.9M193.1 209.5h.9M183.6 218.9h.9M189.8 204.5h.9M187.7 213.0h.9M192.8 204.1h.9M179.5 215.6h.9M183.3 205.9h.9M189.6 211.8h.9M174.8 208.9h.9M182.2 211.0h.9M196.5 213.3h.9M178.7 209.5h.9M192.6 206.6h.9M194.4 203.1h.9M179.1 207.7h.9M185.8 212.8h.9M190.9 208.9h.9M182.8 214.9h.9M192.2 210.6h.9M188.4 209.7h.9M185.4 210.6h.9M201.1 205.3h.9M183.1 213.0h.9M180.9 211.5h.9M188.1 211.6h.9M197.3 198.0h.9M188.7 206.6h.9M187.1 205.0h.9M186.4 214.3h.9M185.7 216.2h.9M186.6 218.1h.9M174.7 215.7h.9M189.3 204.5h.9M189.9 211.5h.9M183.1 213.5h.9M188.9 205.8h.9M187.6 210.3h.9M205.3 197.9h.9M180.8 209.8h.9M179.0 219.6h.9M177.2 207.5h.9M181.3 214.5h.9M178.4 202.6h.9M194.7 202.3h.9M197.7 209.3h.9M194.8 208.1h.9M191.1 222.6h.9M189.5 216.2h.9M185.5 204.1h.9M187.0 216.8h.9M191.9 211.9h.9M182.1 213.1h.9M184.8 211.9h.9M189.9 208.3h.9M181.1 209.6h.9M203.8 201.2h.9M191.5 209.5h.9M192.1 208.1h.9M186.3 208.2h.9M187.0 211.6h.9M200.1 207.3h.9M180.2 216.2h.9M198.3 206.3h.9M190.1 216.7h.9M188.1 207.7h.9M173.8 206.8h.9M187.7 208.1h.9M197.7 196.6h.9M185.2 212.8h.9M177.9 221.5h.9M196.3 207.5h.9M183.6 212.6h.9M197.9 212.4h.9M175.5 219.5h.9M187.8 202.6h.9M195.2 208.9h.9M199.5 207.2h.9M187.8 211.1h.9M187.4 223.0h.9M180.6 213.3h.9M183.7 212.8h.9M185.7 211.1h.9M192.8 207.3h.9M197.3 208.8h.9M184.9 204.5h.9M183.4 216.1h.9M180.9 205.4h.9M195.3 206.8h.9M172.2 221.7h.9M185.4 214.2h.9M194.1 210.9h.9M189.7 208.0h.9M187.5 202.4h.9M188.0 203.7h.9M192.4 214.7h.9M182.3 209.9h.9M181.5 210.4h.9M180.7 218.8h.9M187.8 208.9h.9M182.4 207.2h.9M192.5 205.0h.9M191.2 206.6h.9M179.7 213.7h.9M186.7 220.0h.9M192.2 214.2h.9M187.7 202.7h.9M184.0 211.0h.9M198.3 209.1h.9M177.6 211.0h.9M186.6 209.6h.9M194.3 206.5h.9M189.5 198.2h.9M174.8 214.9h.9M189.8 206.5h.9M195.9 215.7h.9M185.0 216.0h.9M185.7 222.8h.9M201.8 203.7h.9M184.7 211.9h.9M179.9 218.4h.9M197.1 204.0h.9M189.7 214.3h.9M200.5 203.9h.9M186.5 213.9h.9M177.5 204.7h.9M181.1 213.8h.9M193.1 210.8h.9M190.3 216.9h.9M175.8 211.4h.9M180.7 214.3h.9M185.4 210.1h.9M177.0 212.4h.9M178.7 206.9h.9M180.1 207.5h.9M193.5 204.9h.9M195.7 209.9h.9M196.9 211.9h.9M180.7 214.9h.9M182.2 214.4h.9M172.0 223.4h.9M190.4 209.6h.9M187.6 209.0h.9M187.9 206.1h.9M180.1 214.5h.9M179.9 213.1h.9M184.9 208.6h.9M181.9 222.9h.9M188.6 213.8h.9M191.2 199.5h.9M176.2 207.6h.9M170.7 227.3h.9M174.4 218.4h.9M191.7 201.4h.9M193.4 210.2h.9M189.9 203.1h.9M172.3 213.4h.9M193.3 213.3h.9M165.2 216.0h.9M199.0 197.3h.9M184.1 211.7h.9M185.6 203.5h.9M178.7 212.8h.9M189.8 208.1h.9M176.7 218.3h.9M168.1 221.6h.9M175.7 205.6h.9M189.6 207.9h.9M187.9 204.8h.9M186.4 204.7h.9M189.2 208.8h.9M180.2 208.6h.9M184.6 207.0h.9M184.4 221.9h.9M185.4 213.6h.9M188.6 211.7h.9M183.3 205.2h.9M183.7 225.5h.9M181.4 214.0h.9M187.0 219.8h.9M190.5 211.9h.9M178.3 203.6h.9M189.3 211.7h.9M182.8 212.4h.9M194.2 206.4h.9M185.8 214.1h.9M174.0 219.6h.9M179.7 218.2h.9M169.0 225.9h.9M165.6 219.6h.9M194.5 207.6h.9M189.9 215.8h.9M182.4 218.3h.9M190.3 207.7h.9M178.3 213.2h.9M188.6 216.3h.9M186.2 212.3h.9M178.7 218.9h.9M195.0 205.3h.9M186.0 213.0h.9M173.6 226.6h.9M182.5 209.7h.9M180.3 216.3h.9M177.7 218.9h.9M176.6 213.1h.9M186.5 211.0h.9M191.6 209.3h.9M186.7 208.5h.9M189.5 208.0h.9M198.3 207.5h.9M184.2 215.7h.9M177.9 218.4h.9M190.9 215.3h.9M188.2 210.4h.9M197.7 199.5h.9M187.3 213.9h.9M184.6 217.6h.9M187.4 206.7h.9M181.8 209.3h.9M188.1 209.7h.9M193.8 196.0h.9M180.8 210.3h.9M179.2 212.8h.9M193.8 208.8h.9M188.1 211.4h.9M187.6 204.9h.9M185.4 206.5h.9M183.9 206.3h.9M185.4 215.6h.9M179.0 208.2h.9M172.8 209.9h.9M184.5 212.3h.9M178.8 211.9h.9M191.9 213.1h.9M175.4 212.2h.9M185.2 206.6h.9M205.3 203.4h.9M189.9 208.2h.9M180.4 207.1h.9M177.9 212.5h.9M195.8 205.5h.9M183.0 209.6h.9M190.6 217.2h.9M181.1 214.1h.9M192.9 216.4h.9M183.0 201.4h.9M176.3 214.6h.9M195.7 195.6h.9M188.2 196.2h.9M188.8 205.1h.9M174.8 218.1h.9M188.8 207.6h.9M187.0 215.6h.9M171.7 209.3h.9M195.0 204.0h.9M171.9 217.8h.9M177.0 213.7h.9M188.5 207.3h.9M175.3 215.4h.9M186.0 212.5h.9M179.8 215.4h.9M184.5 221.6h.9M179.4 213.2h.9M187.2 211.4h.9M184.1 205.4h.9M190.0 204.5h.9M206.2 213.2h.9M178.4 212.7h.9M193.7 212.3h.9M191.8 200.6h.9M178.6 215.5h.9M180.8 215.0h.9M183.7 208.5h.9M183.1 214.1h.9M182.8 210.4h.9M178.0 216.8h.9M167.1 209.2h.9M193.5 217.9h.9M181.2 209.4h.9M171.9 224.7h.9M177.5 213.4h.9M170.3 219.8h.9M172.5 204.3h.9M165.6 211.9h.9M151.2 214.4h.9M172.3 215.7h.9M174.6 231.9h.9M178.4 221.8h.9M174.3 213.5h.9M166.6 219.0h.9M175.9 209.3h.9M176.7 219.6h.9M189.8 210.0h.9M195.9 217.4h.9M173.3 218.7h.9M176.1 225.7h.9M160.5 225.3h.9M203.4 206.1h.9M174.2 221.6h.9M206.2 221.9h.9M172.3 226.5h.9M186.8 209.2h.9M185.6 210.3h.9M181.7 203.5h.9M160.8 221.1h.9M182.0 201.4h.9M160.0 202.9h.9M185.8 206.0h.9M183.3 217.5h.9M165.6 218.9h.9M188.7 222.2h.9M162.3 222.4h.9M147.7 212.3h.9M182.6 209.5h.9M182.2 218.8h.9M172.2 213.4h.9M162.0 216.8h.9M180.5 210.8h.9M189.1 212.2h.9M184.4 213.6h.9M171.2 219.0h.9M181.6 226.9h.9M188.3 218.3h.9M174.9 217.4h.9M181.8 209.5h.9M166.5 205.4h.9M172.3 206.4h.9M195.3 213.2h.9M183.0 227.0h.9M194.6 213.8h.9M174.0 216.7h.9M178.9 204.5h.9M167.6 221.3h.9M171.0 217.8h.9M162.6 223.5h.9M166.8 212.5h.9M163.1 211.4h.9M169.9 209.7h.9M177.5 220.3h.9M179.2 221.1h.9M181.7 225.4h.9M179.0 231.8h.9M167.1 216.3h.9M187.0 211.2h.9M152.2 210.5h.9M192.5 215.1h.9M160.8 214.9h.9M184.3 212.8h.9M178.3 222.3h.9M154.2 217.3h.9M183.1 206.7h.9M194.1 212.5h.9M192.8 217.7h.9M177.0 210.6h.9M157.7 206.5h.9M165.2 217.5h.9M172.2 215.8h.9M188.1 217.6h.9M160.2 204.3h.9M173.9 214.8h.9M178.7 217.6h.9M177.0 212.5h.9M161.1 211.0h.9M179.3 212.1h.9M183.6 210.8h.9M159.0 212.1h.9M146.2 209.0h.9M201.4 207.3h.9M190.3 221.4h.9M169.3 209.1h.9M177.3 213.0h.9M146.4 220.1h.9M172.8 219.1h.9M172.8 215.6h.9M184.9 214.6h.9M171.9 207.0h.9M173.4 207.4h.9M193.8 212.3h.9M170.4 222.0h.9M180.3 205.0h.9M185.0 212.2h.9M177.0 218.0h.9M178.3 221.7h.9M182.8 217.3h.9M168.6 218.7h.9M168.5 209.1h.9M165.2 213.3h.9M176.5 208.5h.9M170.9 213.0h.9M183.5 218.6h.9M184.1 216.4h.9M173.7 218.9h.9M173.7 207.6h.9M174.0 217.9h.9M156.1 230.0h.9M166.3 222.9h.9M203.2 208.1h.9M187.8 217.6h.9M169.7 219.7h.9M169.0 218.6h.9M175.9 211.5h.9M167.3 216.5h.9M163.0 214.2h.9M177.5 210.0h.9M167.1 211.1h.9M200.6 206.7h.9M182.8 214.3h.9M180.2 223.0h.9M172.4 222.1h.9M160.5 224.2h.9M164.4 213.8h.9M170.0 215.5h.9M165.9 212.9h.9M167.2 213.3h.9M167.8 224.5h.9M161.0 214.8h.9M158.8 206.5h.9M171.8 206.7h.9M173.7 208.0h.9M174.8 211.0h.9M162.7 231.3h.9M166.2 223.5h.9M169.5 215.8h.9M176.3 207.9h.9M184.2 219.6h.9M179.6 217.5h.9M186.6 229.1h.9M159.6 217.2h.9M154.4 221.8h.9M162.4 216.4h.9M180.8 224.2h.9M167.1 222.2h.9M163.6 218.2h.9M179.9 217.6h.9M194.0 213.8h.9M161.9 216.1h.9M153.6 216.4h.9M186.5 218.1h.9M177.0 219.5h.9M182.1 218.4h.9M173.5 217.6h.9M163.4 212.4h.9M177.3 222.7h.9M161.7 222.2h.9M187.0 215.5h.9M178.7 213.2h.9M189.7 200.3h.9M164.4 222.4h.9M190.2 211.4h.9M173.5 212.2h.9M168.8 214.0h.9M189.6 211.1h.9M168.9 210.6h.9M167.3 223.5h.9M168.5 220.2h.9M176.2 219.1h.9M180.7 199.8h.9M183.7 223.9h.9M162.5 210.5h.9M176.6 210.8h.9M187.5 211.8h.9M166.2 217.1h.9M175.8 201.5h.9M149.9 211.4h.9M175.4 220.8h.9M173.7 221.1h.9M199.7 206.6h.9M181.2 206.0h.9M193.1 218.7h.9M189.9 220.6h.9M164.9 214.6h.9M189.8 209.7h.9M182.3 210.3h.9M183.6 214.6h.9M178.2 214.7h.9M176.4 223.1h.9M153.0 218.5h.9M175.8 214.3h.9M165.1 221.3h.9M173.7 214.7h.9M169.6 222.9h.9M180.1 217.6h.9M194.3 208.6h.9M168.5 206.2h.9M191.8 214.9h.9M196.3 210.6h.9M152.6 220.7h.9M157.2 227.9h.9M183.1 213.1h.9M171.8 223.0h.9M160.0 222.5h.9M170.4 209.3h.9M163.0 213.4h.9M165.3 225.4h.9M192.5 226.2h.9M178.0 222.1h.9M166.2 228.7h.9M163.3 227.6h.9M165.0 211.8h.9M177.5 219.7h.9M164.6 217.9h.9M181.7 206.6h.9M176.5 234.8h.9M175.8 212.3h.9M168.8 221.1h.9M171.7 203.1h.9M181.8 210.6h.9M167.5 212.6h.9M176.5 208.3h.9M182.8 228.8h.9M166.1 219.6h.9M183.0 206.7h.9M163.6 217.1h.9M168.5 218.4h.9M171.3 200.1h.9M166.4 228.1h.9M173.8 214.7h.9M172.2 214.4h.9M194.5 210.7h.9M175.8 222.4h.9M185.3 212.3h.9M174.9 218.7h.9M154.0 222.6h.9M166.5 209.1h.9M155.7 207.2h.9M160.6 223.3h.9M172.7 209.2h.9M168.4 213.6h.9M157.3 199.2h.9M171.5 199.3h.9M173.6 213.9h.9M164.5 209.7h.9M183.7 200.6h.9M179.8 216.1h.9M176.7 209.2h.9M177.7 218.9h.9M169.8 203.6h.9M179.5 209.3h.9M205.8 215.4h.9M170.4 209.5h.9M169.2 218.0h.9M180.4 216.9h.9M176.6 210.9h.9M162.2 207.2h.9M154.1 220.0h.9M179.8 217.7h.9M184.8 211.7h.9M153.3 221.6h.9M176.5 214.4h.9M165.5 222.9h.9M179.4 222.7h.9M175.0 215.3h.9M165.8 212.1h.9M191.8 212.4h.9M164.8 215.1h.9M166.1 224.7h.9M178.6 215.2h.9M176.8 219.7h.9M169.5 217.6h.9M160.0 220.3h.9M170.9 211.5h.9M175.0 224.4h.9M167.0 217.6h.9M174.9 209.8h.9M183.5 221.3h.9M174.4 216.4h.9M160.3 215.1h.9M181.0 224.2h.9M166.3 206.8h.9M174.0 210.9h.9M179.9 213.6h.9M191.8 208.9h.9M154.4 217.3h.9M180.5 221.3h.9M189.2 212.4h.9M160.4 217.8h.9M170.6 215.0h.9M171.3 220.9h.9M176.4 216.3h.9M170.1 204.3h.9M166.0 228.8h.9M165.6 218.7h.9M178.7 217.7h.9M154.2 228.2h.9M183.2 224.6h.9M181.4 211.0h.9M176.4 219.8h.9M177.6 222.0h.9M172.3 226.4h.9M189.4 214.8h.9M168.3 226.7h.9M196.8 211.6h.9M196.1 216.0h.9M180.5 217.4h.9M163.9 223.1h.9M176.9 219.7h.9M140.0 217.6h.9M167.5 213.9h.9M164.3 212.4h.9M166.3 207.8h.9M174.1 232.3h.9M186.0 210.9h.9M163.1 210.7h.9M198.0 202.4h.9M172.8 223.4h.9M173.1 216.8h.9M162.2 217.6h.9M160.6 227.6h.9M178.5 223.8h.9M166.2 216.5h.9M175.1 223.0h.9M186.1 204.4h.9M163.0 230.3h.9M171.8 223.2h.9M190.8 205.5h.9M179.8 213.2h.9M171.9 213.4h.9M174.7 214.9h.9M168.3 223.8h.9M165.7 226.3h.9M175.8 213.0h.9M193.3 202.8h.9M165.8 220.3h.9M173.5 214.1h.9M185.9 200.3h.9M180.5 213.5h.9M203.7 220.6h.9M182.2 217.8h.9M161.3 227.4h.9M178.6 221.7h.9M164.4 217.7h.9M170.1 210.9h.9M170.9 212.2h.9M176.9 216.3h.9M163.8 215.8h.9M177.0 212.9h.9M143.9 217.3h.9M167.9 207.1h.9M172.8 208.4h.9M181.3 219.9h.9M155.5 219.6h.9M167.8 218.0h.9M179.4 215.8h.9M163.8 218.7h.9M178.2 212.4h.9M168.8 214.6h.9M163.0 208.4h.9M165.3 211.9h.9M177.0 229.3h.9M162.5 214.2h.9M179.4 221.1h.9M164.0 217.2h.9M165.7 214.4h.9M205.7 218.9h.9M180.3 219.1h.9M176.0 213.9h.9M184.9 219.5h.9M166.2 225.3h.9M167.0 219.8h.9M180.1 215.5h.9M167.5 200.7h.9M187.0 213.1h.9M166.5 226.2h.9M154.8 213.7h.9M173.2 212.8h.9M183.1 212.5h.9M173.8 221.3h.9M190.7 212.9h.9M186.6 223.4h.9M155.1 215.4h.9M182.8 218.8h.9M163.0 211.0h.9M179.5 217.0h.9M187.4 223.9h.9M174.1 216.3h.9M188.5 222.0h.9M188.8 209.2h.9M181.1 214.1h.9M189.8 208.7h.9M168.0 216.4h.9M174.1 222.2h.9M170.5 222.9h.9M173.6 210.1h.9M154.8 207.4h.9M188.8 206.4h.9M148.5 219.8h.9M161.3 207.4h.9M187.0 216.2h.9M179.8 215.9h.9M168.0 217.3h.9M173.8 217.3h.9M177.1 217.5h.9M163.1 211.3h.9M172.3 221.9h.9M176.6 215.0h.9M155.1 225.7h.9M150.8 231.2h.9M177.6 211.0h.9M178.4 221.0h.9M161.2 218.0h.9M170.7 214.9h.9M193.7 219.5h.9M178.0 218.5h.9M175.9 228.4h.9M169.6 219.4h.9M174.8 210.6h.9M170.9 223.5h.9M172.5 202.2h.9M184.6 227.1h.9M180.7 216.3h.9M194.9 209.5h.9M184.6 219.7h.9M168.0 220.4h.9M162.8 214.4h.9M155.5 216.9h.9M166.1 230.8h.9M180.4 217.6h.9M175.8 216.6h.9M171.0 215.9h.9M174.9 220.5h.9M188.4 209.3h.9M178.7 206.5h.9M170.2 213.5h.9M185.1 200.2h.9M191.2 213.7h.9M197.2 215.4h.9M173.2 219.9h.9M196.6 200.6h.9M166.2 216.9h.9M186.1 205.4h.9M169.3 202.6h.9M168.4 221.4h.9M193.5 214.2h.9M207.1 192.0h.9M180.8 227.4h.9M188.9 198.0h.9M180.7 214.9h.9M186.0 204.8h.9M158.6 215.1h.9M197.1 203.4h.9M166.8 226.1h.9M176.0 204.4h.9M189.9 235.7h.9M176.1 225.3h.9M196.8 203.5h.9M191.8 224.8h.9M182.9 212.5h.9M176.3 190.4h.9M160.4 205.6h.9M181.4 199.6h.9M185.3 207.9h.9M190.4 222.8h.9M192.7 206.1h.9M172.2 213.8h.9M192.1 226.5h.9M168.1 211.7h.9M173.9 208.7h.9M169.9 205.7h.9M171.7 221.1h.9M175.8 215.9h.9M174.4 208.8h.9M181.0 219.1h.9M171.8 209.3h.9M169.4 207.9h.9M185.6 204.1h.9M186.5 210.3h.9M175.4 225.6h.9M172.3 210.8h.9M174.3 225.3h.9M184.9 201.4h.9M187.9 228.1h.9M182.9 211.3h.9M167.9 208.7h.9M192.1 207.9h.9M169.1 215.9h.9M182.1 198.2h.9M157.4 212.3h.9M162.4 215.1h.9M172.1 232.7h.9M192.0 214.2h.9M175.4 227.2h.9M187.5 222.0h.9M175.5 206.9h.9M172.3 228.6h.9M179.7 213.1h.9M176.4 230.7h.9M197.8 216.1h.9M153.5 217.4h.9M173.4 217.4h.9M179.8 225.3h.9M196.9 202.4h.9M195.0 204.9h.9M154.8 215.3h.9M183.5 207.1h.9M174.3 213.6h.9M186.6 204.4h.9M177.9 203.9h.9M176.5 210.1h.9M184.2 218.8h.9M190.1 210.0h.9M190.1 220.7h.9M203.8 191.4h.9M159.8 211.9h.9M185.3 200.8h.9M206.8 201.8h.9M173.1 219.7h.9M192.7 203.8h.9M160.3 220.6h.9M193.7 216.1h.9M177.5 198.2h.9M193.0 216.7h.9M181.7 212.3h.9M170.1 211.1h.9M197.5 206.4h.9M187.4 210.7h.9M186.2 204.6h.9M197.5 209.1h.9M153.5 214.0h.9M168.8 224.8h.9M184.3 203.0h.9M172.7 213.9h.9M181.9 209.1h.9M152.6 211.1h.9M181.1 230.5h.9M185.0 231.1h.9M180.5 215.3h.9M168.5 212.4h.9M181.4 218.6h.9M189.2 214.4h.9M163.5 210.6h.9M182.6 216.6h.9M191.5 218.3h.9M163.7 216.0h.9M175.0 210.6h.9M182.8 217.2h.9M182.2 214.8h.9M188.8 221.1h.9M167.0 214.2h.9M189.6 222.6h.9M148.0 226.0h.9M163.3 201.7h.9M165.7 226.2h.9M170.5 220.1h.9M172.0 227.8h.9M170.5 216.0h.9M181.6 214.1h.9M179.5 207.2h.9M194.1 207.6h.9M189.1 207.3h.9M190.1 197.9h.9M183.8 210.7h.9M154.1 224.6h.9M169.0 223.5h.9M175.1 213.8h.9M173.8 221.7h.9M198.0 212.8h.9M176.9 201.4h.9M190.9 216.1h.9M168.3 218.3h.9M168.0 226.6h.9M194.1 198.6h.9M172.7 209.4h.9M187.9 213.7h.9M180.8 207.8h.9M202.6 223.2h.9M194.5 204.4h.9M166.6 219.1h.9M187.1 201.1h.9M168.7 226.0h.9M198.1 194.2h.9M177.5 229.9h.9M189.2 219.0h.9M193.0 193.7h.9M196.0 212.0h.9M179.7 220.9h.9M205.8 218.4h.9M193.2 232.7h.9M170.9 201.8h.9M177.5 207.7h.9M162.4 223.7h.9M162.5 214.4h.9M189.3 211.6h.9M175.9 207.5h.9M177.5 225.9h.9M182.3 208.7h.9M187.4 215.9h.9M182.7 217.0h.9M165.8 217.4h.9M182.1 210.5h.9M162.0 220.7h.9M178.1 212.2h.9M170.7 221.7h.9M196.6 215.7h.9M179.0 225.4h.9M173.5 216.3h.9M195.0 216.7h.9M162.4 213.6h.9M182.2 217.4h.9M182.7 216.4h.9M182.3 207.3h.9M160.1 207.0h.9M169.9 211.2h.9M177.4 209.1h.9M176.1 210.0h.9M172.1 204.4h.9M192.2 207.6h.9M169.9 210.7h.9M155.8 220.7h.9M164.9 203.9h.9M188.5 201.3h.9M188.7 196.0h.9M182.4 205.2h.9M160.7 221.4h.9M170.0 199.2h.9M167.5 233.2h.9M189.6 200.2h.9M193.7 221.0h.9M192.4 199.4h.9M199.7 208.1h.9M167.0 210.6h.9M167.1 220.8h.9M191.8 214.0h.9M169.2 230.1h.9M178.2 226.8h.9M181.0 216.5h.9M158.5 222.1h.9M185.5 200.6h.9M180.0 197.0h.9M187.3 200.5h.9M177.7 202.6h.9M181.3 213.4h.9M174.0 226.0h.9M160.6 219.9h.9M198.8 213.2h.9M173.7 212.8h.9M176.6 233.4h.9M174.1 212.8h.9M174.4 208.2h.9M152.5 214.8h.9M195.2 217.0h.9M178.1 203.8h.9M172.5 227.8h.9M201.1 211.1h.9M174.1 233.5h.9M176.6 222.5h.9M180.8 220.3h.9M161.8 228.5h.9M186.8 210.7h.9M152.6 214.5h.9M184.7 206.2h.9M161.4 214.1h.9M184.5 211.8h.9M175.2 221.9h.9M189.5 199.8h.9M200.4 216.0h.9M183.3 214.5h.9M175.0 202.9h.9M195.5 197.4h.9M155.6 221.0h.9M170.6 209.0h.9M149.5 227.9h.9M196.7 202.7h.9M179.3 223.6h.9M186.1 217.6h.9M177.1 217.3h.9M186.0 215.1h.9M166.8 219.7h.9M192.8 233.9h.9M173.9 222.7h.9M200.5 215.4h.9M202.5 215.4h.9M174.4 212.2h.9M188.5 212.1h.9M178.9 199.1h.9M162.4 207.8h.9M180.4 209.6h.9M156.7 210.1h.9M169.7 222.6h.9M184.7 202.6h.9M179.2 219.5h.9M165.3 213.7h.9M173.1 214.9h.9M173.8 216.1h.9M179.1 211.4h.9M174.3 217.5h.9M184.6 193.3h.9M170.7 224.9h.9M184.7 222.7h.9M180.2 212.9h.9M189.0 221.8h.9M158.1 221.5h.9M190.7 219.2h.9M171.5 223.5h.9M197.6 209.4h.9M176.7 213.0h.9M174.0 215.3h.9M175.1 216.1h.9M188.6 225.9h.9M182.3 218.8h.9M165.7 211.7h.9M179.1 206.8h.9M178.0 204.6h.9M169.6 218.7h.9M195.6 211.9h.9M186.8 198.5h.9M175.0 216.8h.9M190.5 216.2h.9M175.0 217.9h.9M168.9 221.7h.9M166.3 223.2h.9M166.7 194.6h.9M189.9 227.2h.9M185.9 210.6h.9M179.0 198.5h.9M178.8 231.7h.9M159.6 220.9h.9M188.3 205.9h.9M172.5 213.9h.9M171.5 220.4h.9M190.4 199.6h.9M172.7 225.0h.9M184.3 225.7h.9M179.5 211.9h.9M182.0 218.4h.9M206.8 204.2h.9M175.3 208.7h.9M193.6 219.6h.9M184.2 209.8h.9M165.0 209.6h.9M148.7 220.9h.9M182.5 200.3h.9M183.8 204.1h.9M181.6 203.6h.9M173.2 223.0h.9M175.5 221.5h.9M197.3 232.7h.9M182.9 202.1h.9M154.8 221.2h.9M176.0 206.9h.9M184.4 216.6h.9M172.1 206.6h.9M168.6 212.0h.9M200.9 213.4h.9M175.3 214.1h.9M191.4 216.2h.9M180.8 207.6h.9M174.3 219.1h.9M197.9 217.8h.9M196.7 199.8h.9M175.4 215.3h.9M172.5 222.5h.9M185.7 211.7h.9M185.2 202.3h.9M174.0 221.0h.9M174.8 210.5h.9M162.8 224.8h.9M173.3 217.8h.9M180.1 224.5h.9M171.2 227.9h.9M178.9 215.9h.9M192.6 207.2h.9M183.6 205.3h.9M180.0 214.9h.9M182.6 198.0h.9M182.8 213.1h.9M173.3 209.1h.9M189.1 193.9h.9M178.1 209.7h.9M168.5 206.3h.9M163.9 219.2h.9M182.8 214.2h.9M174.3 223.6h.9M199.5 200.8h.9M176.6 220.6h.9M174.5 208.5h.9M174.5 214.8h.9M183.8 223.4h.9M182.6 217.0h.9M166.2 228.8h.9M191.0 199.9h.9M206.4 212.3h.9M180.2 209.2h.9M177.2 204.8h.9M170.6 210.1h.9M170.3 220.5h.9M182.4 218.0h.9M182.7 212.7h.9M171.3 232.7h.9M178.0 227.4h.9M198.5 207.5h.9M178.6 210.6h.9M179.8 231.3h.9M177.4 225.3h.9M168.1 231.1h.9M177.0 210.2h.9M169.3 226.6h.9M190.0 224.5h.9M185.3 201.3h.9M149.8 210.9h.9M148.4 220.9h.9M142.1 221.9h.9M131.9 203.4h.9M162.8 228.7h.9M163.4 218.1h.9M157.4 218.7h.9M168.3 212.0h.9M155.0 217.7h.9M161.2 221.9h.9M124.3 218.8h.9M136.2 225.0h.9M163.4 211.9h.9M157.0 213.4h.9M143.2 222.6h.9M168.7 225.1h.9M160.3 217.5h.9M148.6 226.3h.9M153.1 222.6h.9M156.6 234.5h.9M171.0 232.6h.9M156.5 215.4h.9M133.5 222.6h.9M136.2 206.1h.9M151.1 222.7h.9M150.0 222.8h.9M131.3 223.6h.9M162.7 223.6h.9M155.4 221.8h.9M161.7 212.6h.9M121.8 217.7h.9M150.7 226.4h.9M140.0 222.9h.9M150.4 227.2h.9M144.1 226.4h.9M161.9 219.3h.9M148.7 217.9h.9M140.5 216.5h.9M135.0 227.1h.9M156.9 220.5h.9M152.5 221.8h.9M173.0 228.4h.9M146.0 226.9h.9M126.7 217.6h.9M139.5 224.0h.9M142.7 215.2h.9M140.0 210.2h.9M131.3 213.7h.9M156.1 223.4h.9M161.6 234.4h.9M164.0 207.1h.9M141.4 233.2h.9M152.9 224.3h.9M153.7 210.5h.9M156.6 220.1h.9M136.0 224.2h.9M175.7 219.8h.9M131.7 220.3h.9M137.3 202.3h.9M143.2 224.2h.9M136.4 220.4h.9M148.3 217.6h.9M144.4 218.6h.9M146.2 220.0h.9M157.7 217.3h.9M138.0 224.9h.9M146.5 236.5h.9M153.9 223.5h.9M163.3 224.4h.9M148.3 218.4h.9M136.7 213.6h.9M162.6 202.2h.9M175.2 228.3h.9M145.6 234.6h.9M177.5 229.7h.9M159.5 211.7h.9M155.8 217.7h.9M155.5 218.3h.9M149.8 207.6h.9M149.0 213.9h.9M164.8 215.5h.9M156.1 225.3h.9M147.2 214.2h.9M151.4 219.6h.9M160.7 213.4h.9M132.2 226.0h.9M152.8 229.8h.9M169.0 206.0h.9M152.8 221.7h.9M150.2 227.8h.9M177.5 219.1h.9M147.1 225.6h.9M160.0 219.5h.9M161.7 231.1h.9M141.2 230.3h.9M137.5 230.5h.9M135.8 213.8h.9M128.8 217.9h.9M148.0 219.2h.9M143.2 218.3h.9M141.3 217.2h.9M150.6 215.8h.9M150.7 211.7h.9M128.8 226.1h.9M136.7 220.9h.9M133.6 208.4h.9M128.3 213.2h.9M167.2 214.5h.9M151.6 217.0h.9M149.8 210.5h.9M164.1 221.6h.9M141.4 226.3h.9M125.6 214.4h.9M153.2 232.3h.9M140.7 234.2h.9M165.6 213.1h.9M155.8 229.0h.9M134.1 231.8h.9M125.5 231.0h.9M165.3 233.2h.9M160.9 222.4h.9M125.2 234.1h.9M158.2 226.9h.9M140.1 202.7h.9M155.8 213.3h.9M148.2 224.7h.9M129.5 223.8h.9M137.4 215.8h.9M159.8 208.7h.9M140.2 218.3h.9M163.5 219.6h.9M158.4 211.6h.9M126.4 219.0h.9M171.5 224.3h.9M142.1 215.3h.9M168.3 225.2h.9M127.3 204.7h.9M177.0 221.4h.9M148.7 223.0h.9M147.2 219.0h.9M147.6 204.5h.9M143.6 216.5h.9M164.3 227.9h.9M142.9 219.2h.9M149.7 235.7h.9M164.3 214.9h.9M169.9 212.8h.9M165.2 221.0h.9M131.2 216.8h.9M145.8 228.7h.9M167.9 206.4h.9M141.3 228.7h.9M156.0 224.3h.9M158.2 226.2h.9M167.7 217.2h.9M139.1 207.1h.9M149.2 214.3h.9M147.5 204.0h.9M156.2 219.7h.9M151.2 214.4h.9M136.4 227.6h.9M157.7 218.1h.9M130.6 224.1h.9M141.0 226.7h.9M138.0 221.5h.9M153.6 215.8h.9M156.2 209.4h.9M167.6 216.8h.9M142.1 218.7h.9M143.0 214.6h.9M151.1 215.2h.9M143.9 221.4h.9M145.2 213.8h.9M159.9 235.4h.9M139.5 226.9h.9M137.9 218.0h.9M132.4 215.5h.9M137.2 219.3h.9M135.6 224.9h.9M160.4 206.4h.9M123.4 226.9h.9M131.3 217.7h.9M144.8 229.0h.9M178.3 215.4h.9M169.9 220.3h.9M145.3 218.6h.9M145.3 208.5h.9M147.7 211.6h.9M129.8 233.3h.9M132.5 217.8h.9M163.9 224.4h.9M166.4 230.9h.9M144.8 216.3h.9M158.2 224.4h.9M173.9 203.8h.9M164.0 224.4h.9M144.7 214.1h.9M137.4 214.4h.9M172.6 220.7h.9M145.1 220.9h.9M157.3 226.4h.9M148.9 219.0h.9M137.8 220.2h.9M147.1 215.7h.9M144.6 230.3h.9M160.8 222.8h.9M166.7 221.5h.9M166.2 220.5h.9M170.4 224.8h.9M144.7 211.3h.9M151.2 221.7h.9M133.3 218.9h.9M140.5 222.7h.9M130.5 220.5h.9M177.3 228.2h.9M148.9 232.6h.9M143.7 227.1h.9M153.7 217.3h.9M136.7 213.7h.9M174.2 215.6h.9M147.6 217.1h.9M138.4 224.4h.9M134.6 212.5h.9M145.6 224.9h.9M170.4 220.4h.9M162.8 231.4h.9M156.2 227.2h.9M146.3 208.1h.9M160.8 211.8h.9M157.6 214.2h.9M132.1 219.7h.9M130.7 221.3h.9M146.5 218.9h.9M171.7 227.0h.9M145.8 227.0h.9M155.2 218.1h.9M129.6 215.0h.9M178.1 221.0h.9M157.6 234.1h.9M138.7 229.2h.9M117.3 220.5h.9M149.6 214.8h.9M155.3 224.8h.9M136.2 214.4h.9M152.2 218.1h.9M146.8 218.3h.9M123.7 223.6h.9M152.5 225.0h.9M159.7 235.0h.9M143.5 222.3h.9M169.4 217.7h.9M166.4 216.8h.9M142.7 212.1h.9M176.5 221.4h.9M157.1 229.8h.9M133.7 217.4h.9M146.7 205.9h.9M137.8 215.8h.9M144.5 218.9h.9M141.8 224.2h.9M157.9 219.1h.9M175.5 207.1h.9M148.3 221.1h.9M170.2 219.7h.9M157.0 221.9h.9M179.3 217.8h.9M135.7 216.5h.9M155.2 231.7h.9M170.0 217.1h.9M138.0 216.8h.9M135.8 212.0h.9M150.2 214.4h.9M174.5 200.7h.9M156.9 214.9h.9M173.9 212.6h.9M156.4 233.4h.9M157.3 215.4h.9M146.2 222.0h.9M170.8 221.6h.9M158.2 211.7h.9M149.9 230.4h.9M144.8 216.6h.9M143.3 229.6h.9M156.6 223.6h.9M138.1 206.4h.9M164.7 217.0h.9M161.6 224.5h.9M140.2 211.7h.9M162.7 203.6h.9M136.6 221.8h.9M133.8 218.9h.9M162.3 220.3h.9M137.0 227.9h.9M123.4 228.2h.9M148.1 220.3h.9M138.4 218.3h.9M164.4 222.3h.9M165.5 224.9h.9M143.0 218.1h.9M149.4 216.7h.9M169.5 211.1h.9M174.3 214.8h.9M135.4 220.1h.9M129.4 233.5h.9M173.1 231.7h.9M175.0 230.2h.9M121.4 225.6h.9M138.0 227.1h.9M144.5 216.7h.9M135.0 224.9h.9M165.1 211.7h.9M154.3 223.9h.9M147.0 218.7h.9M166.4 230.8h.9M159.7 225.9h.9M160.1 215.7h.9M147.7 220.6h.9M135.0 226.6h.9M176.8 236.5h.9M145.4 216.6h.9M136.8 225.8h.9M147.6 229.6h.9M132.5 221.6h.9M139.8 222.4h.9M145.5 205.7h.9M161.0 220.8h.9M151.2 219.7h.9M134.7 220.6h.9M160.4 233.6h.9M152.0 216.1h.9M166.3 218.7h.9M145.3 220.3h.9M157.9 210.8h.9M150.5 220.0h.9M142.4 233.7h.9M202.2 205.4h.9M128.2 161.1h.9M145.7 233.4h.9M146.2 169.0h.9M151.9 165.6h.9M181.2 216.8h.9M195.8 210.6h.9M130.2 209.6h.9M183.0 180.9h.9M205.3 210.4h.9M203.8 168.4h.9M166.5 191.2h.9M132.8 215.8h.9M182.9 160.9h.9M192.9 185.4h.9M131.8 185.8h.9M141.3 187.4h.9M197.9 235.0h.9M173.7 160.8h.9M124.2 181.6h.9M160.1 184.1h.9M178.7 200.8h.9M177.9 215.7h.9M133.5 227.7h.9M155.8 221.3h.9M150.8 189.2h.9M171.3 215.0h.9M192.9 185.1h.9M173.2 215.7h.9M163.6 229.8h.9M139.5 220.7h.9M169.3 216.8h.9M116.8 219.9h.9M170.8 230.9h.9M147.1 182.1h.9M129.7 178.0h.9M149.4 236.4h.9M119.0 181.4h.9M117.1 187.2h.9M171.3 184.4h.9M149.6 222.8h.9M166.2 214.3h.9M200.7 161.0h.9M153.7 184.4h.9M153.6 174.9h.9M164.1 187.7h.9M116.7 222.6h.9M117.7 218.9h.9M154.0 225.7h.9M138.5 177.1h.9M145.6 179.0h.9M169.6 173.7h.9M178.4 167.8h.9M169.8 232.9h.9M191.7 224.4h.9M150.1 199.0h.9M206.7 202.0h.9M159.2 178.3h.9M119.6 162.4h.9M175.6 186.3h.9M121.6 200.0h.9M141.6 176.3h.9M167.3 225.6h.9M152.8 164.0h.9M156.5 175.5h.9M189.2 179.1h.9M166.5 230.3h.9M199.5 226.0h.9M158.8 173.7h.9M147.7 194.9h.9M135.5 181.2h.9M155.4 232.5h.9M147.5 219.4h.9M153.5 163.3h.9M134.1 187.9h.9M187.1 162.1h.9M158.8 202.3h.9M141.6 182.6h.9M190.0 219.4h.9M124.0 189.4h.9M151.6 220.5h.9M158.5 228.3h.9M181.9 233.7h.9M199.4 187.2h.9M126.0 189.8h.9M168.1 203.3h.9M203.8 185.9h.9M116.5 170.4h.9M120.8 228.6h.9M140.8 203.0h.9M181.5 183.4h.9M206.2 161.4h.9M169.2 234.1h.9M172.1 173.0h.9M175.2 193.6h.9" stroke="#000" stroke-width="1.0" fill="none"/>
<rect x="17.2" y="166.8" width="28.2" height="25.8" fill="none" stroke="#111" stroke-width="2.1"/>
<rect x="45.4" y="172.6" width="29.4" height="28.6" fill="none" stroke="#111" stroke-width="2.1"/>
<rect x="116.0" y="167.0" width="28.3" height="25.2" fill="none" stroke="#111" stroke-width="2.1"/>
<rect x="144.3" y="172.2" width="29.7" height="28.8" fill="none" stroke="#111" stroke-width="2.1"/>
<text x="0.5" y="18.7" font-size="24.8" text-anchor="start" >A</text>
<text x="26.9" y="24.5" font-size="15.8" text-anchor="start" >Mock</text>
<text x="122.9" y="24.4" font-size="15.8" text-anchor="start" >FTY720</text>
<text transform="translate(11.5 71) rotate(-90)" font-size="12.2" text-anchor="middle" >SSC</text>
<path d="M7.4 31L7.4 47.4" stroke="#111" stroke-width="1.2" fill="none"/>
<path d="M7.4 95L7.4 111.4" stroke="#111" stroke-width="1.2" fill="none"/>
<text x="111.5" y="136.6" font-size="13.4" text-anchor="middle" >FSC</text>
<path d="M26.6 131.6L88.6 131.6" stroke="#111" stroke-width="1.2" fill="none"/>
<path d="M134 131.6L196.7 131.6" stroke="#111" stroke-width="1.2" fill="none"/>
<text transform="translate(11.0 191.5) rotate(-90)" font-size="12.4" text-anchor="middle" >B220</text>
<path d="M7.4 150L7.4 166.4" stroke="#111" stroke-width="1.2" fill="none"/>
<path d="M7.4 216L7.4 232" stroke="#111" stroke-width="1.2" fill="none"/>
<text x="110.9" y="256.4" font-size="13.2" text-anchor="middle" >CD11b</text>
<path d="M26 251.6L80 251.6" stroke="#111" stroke-width="1.2" fill="none"/>
<path d="M142.5 251.6L196.5 251.6" stroke="#111" stroke-width="1.2" fill="none"/>
<text x="31.5" y="163.4" font-size="13.2" text-anchor="middle" >B2</text>
<text x="62.0" y="170.0" font-size="13.2" text-anchor="middle" >B1</text>
<text x="130.4" y="163.0" font-size="13.2" text-anchor="middle" >B2</text>
<text x="160.4" y="169.6" font-size="13.2" text-anchor="middle" >B1</text>
<text x="239.4" y="19.0" font-size="24.2" text-anchor="start" >B</text>
<text x="323.5" y="25.5" font-size="15.6" text-anchor="middle" >B1 B cells</text>
<text x="453.5" y="25.5" font-size="15.6" text-anchor="middle" >B2 B cells</text>
<text transform="translate(252.8 126.4) rotate(-90)" font-size="15.8" text-anchor="middle">Cell number (x10<tspan font-size="10.5" dy="-5.2">4</tspan><tspan dy="5.2">)</tspan></text>
<path d="M291.6 44.0L291.6 207.6" stroke="#111" stroke-width="1.2" fill="none"/><path d="M291.0 207.6L377 207.6" stroke="#111" stroke-width="1.3" fill="none"/><path d="M288.20000000000005 207.6L291.6 207.6" stroke="#111" stroke-width="1.2" fill="none"/><text x="285.20000000000005" y="213.1" font-size="12.6" text-anchor="end" >0</text><path d="M288.20000000000005 153.265L291.6 153.265" stroke="#111" stroke-width="1.2" fill="none"/><text x="285.20000000000005" y="157.765" font-size="12.6" text-anchor="end" >50</text><path d="M288.20000000000005 98.92999999999999L291.6 98.92999999999999" stroke="#111" stroke-width="1.2" fill="none"/><text x="285.20000000000005" y="103.42999999999999" font-size="12.6" text-anchor="end" >100</text><path d="M288.20000000000005 44.595L291.6 44.595" stroke="#111" stroke-width="1.2" fill="none"/><text x="285.20000000000005" y="49.095" font-size="12.6" text-anchor="end" >150</text>
<path d="M421.2 43.4L421.2 207.4" stroke="#111" stroke-width="1.2" fill="none"/><path d="M420.59999999999997 207.4L508 207.4" stroke="#111" stroke-width="1.3" fill="none"/><path d="M417.8 207.4L421.2 207.4" stroke="#111" stroke-width="1.2" fill="none"/><text x="414.8" y="212.9" font-size="12.6" text-anchor="end" >0</text><path d="M417.8 166.55L421.2 166.55" stroke="#111" stroke-width="1.2" fill="none"/><text x="414.8" y="171.05" font-size="12.6" text-anchor="end" >25</text><path d="M417.8 125.70000000000002L421.2 125.70000000000002" stroke="#111" stroke-width="1.2" fill="none"/><text x="414.8" y="130.20000000000002" font-size="12.6" text-anchor="end" >50</text><path d="M417.8 84.85000000000001L421.2 84.85000000000001" stroke="#111" stroke-width="1.2" fill="none"/><text x="414.8" y="89.35000000000001" font-size="12.6" text-anchor="end" >75</text><path d="M417.8 44.00000000000003L421.2 44.00000000000003" stroke="#111" stroke-width="1.2" fill="none"/><text x="414.8" y="48.50000000000003" font-size="12.6" text-anchor="end" >100</text>
<rect x="305.4" y="89.2" width="27.8" height="118.4" fill="#fff" stroke="#111" stroke-width="1.25"/><path d="M319.29999999999995 71.4L319.29999999999995 89.2" stroke="#111" stroke-width="1.25" fill="none"/><path d="M312.79999999999995 71.4L325.79999999999995 71.4" stroke="#111" stroke-width="1.3" fill="none"/>
<rect x="347.2" y="156" width="28.4" height="51.6" fill="#000" stroke="#111" stroke-width="1.25"/><path d="M361.4 145.2L361.4 156" stroke="#111" stroke-width="1.25" fill="none"/><path d="M354.4 145.2L368.4 145.2" stroke="#111" stroke-width="1.3" fill="none"/>
<rect x="435.8" y="100.2" width="28.0" height="107.2" fill="#fff" stroke="#111" stroke-width="1.25"/><path d="M449.8 83.8L449.8 100.2" stroke="#111" stroke-width="1.25" fill="none"/><path d="M442.8 83.8L456.8 83.8" stroke="#111" stroke-width="1.3" fill="none"/>
<rect x="477" y="188" width="29.0" height="19.4" fill="#000" stroke="#111" stroke-width="1.25"/><path d="M491.5 185L491.5 188" stroke="#111" stroke-width="1.25" fill="none"/><path d="M484.0 185L499.0 185" stroke="#111" stroke-width="1.3" fill="none"/>
<path d="M319.3 65.8V52.4H361.4V135.4" stroke="#111" stroke-width="1.3" fill="none"/>
<path d="M449.6 80V67.4H491.4V177.6" stroke="#111" stroke-width="1.3" fill="none"/>
<text x="326" y="49.0" font-size="11.3" style="font-weight:normal;stroke-width:0.28px"><tspan font-style="italic">P</tspan>=.02</text>
<text x="451.6" y="64.2" font-size="11.3" style="font-weight:normal;stroke-width:0.28px"><tspan font-style="italic">P</tspan>=.006</text>
<rect x="314.3" y="224.3" width="6.2" height="3.0" fill="#000"/>
<rect x="444.3" y="224.3" width="6.2" height="3.0" fill="#000"/>
<path d="M357.0 224.1H367.0M362.0 219.1V229.1" stroke="#000" stroke-width="2.8" fill="none"/>
<path d="M487.4 224.1H497.4M492.4 219.1V229.1" stroke="#000" stroke-width="2.8" fill="none"/>
<path d="M298.6 234.2L382.6 234.2" stroke="#111" stroke-width="1.6" fill="none"/>
<path d="M429.6 234.4L514.4 234.4" stroke="#111" stroke-width="1.6" fill="none"/>
<text x="341.0" y="257.0" font-size="15.7" text-anchor="middle" >FTY720</text>
<text x="471.7" y="257.0" font-size="15.7" text-anchor="middle" >FTY720</text>
<path d="M46 302.75999999999993L46 430.4" stroke="#111" stroke-width="1.2" fill="none"/><path d="M45.4 430.4L239.20000000000002 430.4" stroke="#111" stroke-width="1.3" fill="none"/><path d="M42.8 430.4L46 430.4" stroke="#111" stroke-width="1.2" fill="none"/><text x="38.8" y="436.6" font-size="12.9" text-anchor="end" >0</text><path d="M42.8 398.64L46 398.64" stroke="#111" stroke-width="1.2" fill="none"/><text x="38.8" y="403.24" font-size="12.9" text-anchor="end" >10</text><path d="M42.8 366.88L46 366.88" stroke="#111" stroke-width="1.2" fill="none"/><text x="38.8" y="371.48" font-size="12.9" text-anchor="end" >20</text><path d="M42.8 335.12L46 335.12" stroke="#111" stroke-width="1.2" fill="none"/><text x="38.8" y="339.72" font-size="12.9" text-anchor="end" >30</text><path d="M42.8 303.35999999999996L46 303.35999999999996" stroke="#111" stroke-width="1.2" fill="none"/><text x="38.8" y="307.96" font-size="12.9" text-anchor="end" >40</text><path d="M46.0 430.4L46.0 433.79999999999995" stroke="#111" stroke-width="1.2" fill="none"/><path d="M62.1 430.4L62.1 433.79999999999995" stroke="#111" stroke-width="1.2" fill="none"/><path d="M78.2 430.4L78.2 433.79999999999995" stroke="#111" stroke-width="1.2" fill="none"/><path d="M94.30000000000001 430.4L94.30000000000001 433.79999999999995" stroke="#111" stroke-width="1.2" fill="none"/><path d="M110.4 430.4L110.4 433.79999999999995" stroke="#111" stroke-width="1.2" fill="none"/><path d="M126.5 430.4L126.5 433.79999999999995" stroke="#111" stroke-width="1.2" fill="none"/><path d="M142.60000000000002 430.4L142.60000000000002 433.79999999999995" stroke="#111" stroke-width="1.2" fill="none"/><path d="M158.70000000000002 430.4L158.70000000000002 433.79999999999995" stroke="#111" stroke-width="1.2" fill="none"/><path d="M174.8 430.4L174.8 433.79999999999995" stroke="#111" stroke-width="1.2" fill="none"/><path d="M190.9 430.4L190.9 433.79999999999995" stroke="#111" stroke-width="1.2" fill="none"/><path d="M207.0 430.4L207.0 433.79999999999995" stroke="#111" stroke-width="1.2" fill="none"/><path d="M223.10000000000002 430.4L223.10000000000002 433.79999999999995" stroke="#111" stroke-width="1.2" fill="none"/><path d="M239.20000000000002 430.4L239.20000000000002 433.79999999999995" stroke="#111" stroke-width="1.2" fill="none"/><text x="46.0" y="450.9" font-size="12.9" text-anchor="middle" >0</text><text x="78.2" y="450.9" font-size="12.9" text-anchor="middle" >2</text><text x="110.4" y="450.9" font-size="12.9" text-anchor="middle" >4</text><text x="142.60000000000002" y="450.9" font-size="12.9" text-anchor="middle" >6</text><text x="174.8" y="450.9" font-size="12.9" text-anchor="middle" >8</text><text x="207.0" y="450.9" font-size="12.9" text-anchor="middle" >10</text><path d="M46.0 365.9 L62.1 356.1 L94.3 408.8 L207.0 416.7" stroke="#111" stroke-width="1.1" fill="none"/><path d="M46.0 325.6 L62.1 325.0 L94.3 382.4 L207.0 395.1" stroke="#111" stroke-width="1.1" fill="none"/><path d="M46.0 353.22319999999996L46.0 377.67839999999995" stroke="#111" stroke-width="1.0" fill="none"/><path d="M43.4 353.22319999999996L48.6 353.22319999999996" stroke="#111" stroke-width="1.0" fill="none"/><path d="M43.4 377.67839999999995L48.6 377.67839999999995" stroke="#111" stroke-width="1.0" fill="none"/><circle cx="46.0" cy="365.9" r="2.45" fill="#000" stroke="#111" stroke-width="1.1"/><path d="M62.1 348.7768L62.1 363.3864" stroke="#111" stroke-width="1.0" fill="none"/><path d="M59.5 348.7768L64.7 348.7768" stroke="#111" stroke-width="1.0" fill="none"/><path d="M59.5 363.3864L64.7 363.3864" stroke="#111" stroke-width="1.0" fill="none"/><circle cx="62.1" cy="356.1" r="2.45" fill="#000" stroke="#111" stroke-width="1.1"/><path d="M94.30000000000001 401.816L94.30000000000001 416.10799999999995" stroke="#111" stroke-width="1.0" fill="none"/><path d="M91.70000000000002 401.816L96.9 401.816" stroke="#111" stroke-width="1.0" fill="none"/><path d="M91.70000000000002 416.10799999999995L96.9 416.10799999999995" stroke="#111" stroke-width="1.0" fill="none"/><circle cx="94.3" cy="408.8" r="2.45" fill="#000" stroke="#111" stroke-width="1.1"/><path d="M207.0 413.8848L207.0 419.9192" stroke="#111" stroke-width="1.0" fill="none"/><path d="M204.4 413.8848L209.6 413.8848" stroke="#111" stroke-width="1.0" fill="none"/><path d="M204.4 419.9192L209.6 419.9192" stroke="#111" stroke-width="1.0" fill="none"/><circle cx="207.0" cy="416.7" r="2.45" fill="#000" stroke="#111" stroke-width="1.1"/><path d="M46.0 304.3128L46.0 346.55359999999996" stroke="#111" stroke-width="1.0" fill="none"/><path d="M43.4 304.3128L48.6 304.3128" stroke="#111" stroke-width="1.0" fill="none"/><path d="M43.4 346.55359999999996L48.6 346.55359999999996" stroke="#111" stroke-width="1.0" fill="none"/><circle cx="46.0" cy="325.6" r="2.45" fill="#fff" stroke="#111" stroke-width="1.1"/><path d="M62.1 317.652L62.1 331.94399999999996" stroke="#111" stroke-width="1.0" fill="none"/><path d="M59.5 317.652L64.7 317.652" stroke="#111" stroke-width="1.0" fill="none"/><path d="M59.5 331.94399999999996L64.7 331.94399999999996" stroke="#111" stroke-width="1.0" fill="none"/><circle cx="62.1" cy="325.0" r="2.45" fill="#fff" stroke="#111" stroke-width="1.1"/><path d="M94.30000000000001 369.10319999999996L94.30000000000001 395.78159999999997" stroke="#111" stroke-width="1.0" fill="none"/><path d="M91.70000000000002 369.10319999999996L96.9 369.10319999999996" stroke="#111" stroke-width="1.0" fill="none"/><path d="M91.70000000000002 395.78159999999997L96.9 395.78159999999997" stroke="#111" stroke-width="1.0" fill="none"/><circle cx="94.3" cy="382.4" r="2.45" fill="#fff" stroke="#111" stroke-width="1.1"/><path d="M207.0 379.9016L207.0 410.7088" stroke="#111" stroke-width="1.0" fill="none"/><path d="M204.4 379.9016L209.6 379.9016" stroke="#111" stroke-width="1.0" fill="none"/><path d="M204.4 410.7088L209.6 410.7088" stroke="#111" stroke-width="1.0" fill="none"/><circle cx="207.0" cy="395.1" r="2.45" fill="#fff" stroke="#111" stroke-width="1.1"/>
<text x="0.8" y="298.8" font-size="24.6" text-anchor="start" >C</text>
<text transform="translate(14.4 361.4) rotate(-90)" font-size="18" text-anchor="middle" >Percentage</text>
<text x="146.6" y="467.2" font-size="15.8" text-anchor="middle" >Hours after treatment</text>
<text x="223.8" y="394.8" font-size="12.4" text-anchor="middle" >B1</text>
<text x="221.8" y="426" font-size="12.4" text-anchor="middle" >B2</text>
<path d="M313.7 302.55999999999995L313.7 430.2" stroke="#111" stroke-width="1.2" fill="none"/><path d="M313.09999999999997 430.2L505.7 430.2" stroke="#111" stroke-width="1.3" fill="none"/><path d="M310.5 430.2L313.7 430.2" stroke="#111" stroke-width="1.2" fill="none"/><text x="307.3" y="436.40000000000003" font-size="12.9" text-anchor="end" >0</text><path d="M310.5 398.44L313.7 398.44" stroke="#111" stroke-width="1.2" fill="none"/><text x="307.3" y="403.04" font-size="12.9" text-anchor="end" >10</text><path d="M310.5 366.68L313.7 366.68" stroke="#111" stroke-width="1.2" fill="none"/><text x="307.3" y="371.28000000000003" font-size="12.9" text-anchor="end" >20</text><path d="M310.5 334.91999999999996L313.7 334.91999999999996" stroke="#111" stroke-width="1.2" fill="none"/><text x="307.3" y="339.52" font-size="12.9" text-anchor="end" >30</text><path d="M310.5 303.15999999999997L313.7 303.15999999999997" stroke="#111" stroke-width="1.2" fill="none"/><text x="307.3" y="307.76" font-size="12.9" text-anchor="end" >40</text><path d="M313.7 430.2L313.7 433.59999999999997" stroke="#111" stroke-width="1.2" fill="none"/><path d="M337.7 430.2L337.7 433.59999999999997" stroke="#111" stroke-width="1.2" fill="none"/><path d="M361.7 430.2L361.7 433.59999999999997" stroke="#111" stroke-width="1.2" fill="none"/><path d="M385.7 430.2L385.7 433.59999999999997" stroke="#111" stroke-width="1.2" fill="none"/><path d="M409.7 430.2L409.7 433.59999999999997" stroke="#111" stroke-width="1.2" fill="none"/><path d="M433.7 430.2L433.7 433.59999999999997" stroke="#111" stroke-width="1.2" fill="none"/><path d="M457.7 430.2L457.7 433.59999999999997" stroke="#111" stroke-width="1.2" fill="none"/><path d="M481.7 430.2L481.7 433.59999999999997" stroke="#111" stroke-width="1.2" fill="none"/><path d="M505.7 430.2L505.7 433.59999999999997" stroke="#111" stroke-width="1.2" fill="none"/><text x="313.7" y="450.7" font-size="12.9" text-anchor="middle" >0</text><text x="337.7" y="450.7" font-size="12.9" text-anchor="middle" >1</text><text x="361.7" y="450.7" font-size="12.9" text-anchor="middle" >2</text><text x="385.7" y="450.7" font-size="12.9" text-anchor="middle" >3</text><text x="409.7" y="450.7" font-size="12.9" text-anchor="middle" >4</text><text x="433.7" y="450.7" font-size="12.9" text-anchor="middle" >5</text><text x="457.7" y="450.7" font-size="12.9" text-anchor="middle" >6</text><text x="481.7" y="450.7" font-size="12.9" text-anchor="middle" >7</text><path d="M313.7 378.1 L325.7 417.2 L337.7 402.6 L361.7 388.0 L385.7 384.1 L409.7 373.0 L481.7 370.5" stroke="#111" stroke-width="1.1" fill="none"/><path d="M313.7 340.6 L325.7 395.3 L337.7 378.7 L361.7 368.9 L385.7 372.4 L409.7 365.1 L481.7 341.0" stroke="#111" stroke-width="1.1" fill="none"/><path d="M313.7 371.7616L313.7 384.4656" stroke="#111" stroke-width="1.0" fill="none"/><path d="M311.09999999999997 371.7616L316.3 371.7616" stroke="#111" stroke-width="1.0" fill="none"/><path d="M311.09999999999997 384.4656L316.3 384.4656" stroke="#111" stroke-width="1.0" fill="none"/><circle cx="313.7" cy="378.1" r="2.45" fill="#000" stroke="#111" stroke-width="1.1"/><path d="M325.7 414.00239999999997L325.7 420.3544" stroke="#111" stroke-width="1.0" fill="none"/><path d="M323.09999999999997 414.00239999999997L328.3 414.00239999999997" stroke="#111" stroke-width="1.0" fill="none"/><path d="M323.09999999999997 420.3544L328.3 420.3544" stroke="#111" stroke-width="1.0" fill="none"/><circle cx="325.7" cy="417.2" r="2.45" fill="#000" stroke="#111" stroke-width="1.1"/><path d="M337.7 383.8304L337.7 421.30719999999997" stroke="#111" stroke-width="1.0" fill="none"/><path d="M335.09999999999997 383.8304L340.3 383.8304" stroke="#111" stroke-width="1.0" fill="none"/><path d="M335.09999999999997 421.30719999999997L340.3 421.30719999999997" stroke="#111" stroke-width="1.0" fill="none"/><circle cx="337.7" cy="402.6" r="2.45" fill="#000" stroke="#111" stroke-width="1.1"/><path d="M361.7 373.032L361.7 403.5216" stroke="#111" stroke-width="1.0" fill="none"/><path d="M359.09999999999997 373.032L364.3 373.032" stroke="#111" stroke-width="1.0" fill="none"/><path d="M359.09999999999997 403.5216L364.3 403.5216" stroke="#111" stroke-width="1.0" fill="none"/><circle cx="361.7" cy="388.0" r="2.45" fill="#000" stroke="#111" stroke-width="1.1"/><path d="M385.7 377.1608L385.7 391.45279999999997" stroke="#111" stroke-width="1.0" fill="none"/><path d="M383.09999999999997 377.1608L388.3 377.1608" stroke="#111" stroke-width="1.0" fill="none"/><path d="M383.09999999999997 391.45279999999997L388.3 391.45279999999997" stroke="#111" stroke-width="1.0" fill="none"/><circle cx="385.7" cy="384.1" r="2.45" fill="#000" stroke="#111" stroke-width="1.1"/><path d="M409.7 366.3624L409.7 379.384" stroke="#111" stroke-width="1.0" fill="none"/><path d="M407.09999999999997 366.3624L412.3 366.3624" stroke="#111" stroke-width="1.0" fill="none"/><path d="M407.09999999999997 379.384L412.3 379.384" stroke="#111" stroke-width="1.0" fill="none"/><circle cx="409.7" cy="373.0" r="2.45" fill="#000" stroke="#111" stroke-width="1.1"/><path d="M481.7 365.7272L481.7 374.9376" stroke="#111" stroke-width="1.0" fill="none"/><path d="M479.09999999999997 365.7272L484.3 365.7272" stroke="#111" stroke-width="1.0" fill="none"/><path d="M479.09999999999997 374.9376L484.3 374.9376" stroke="#111" stroke-width="1.0" fill="none"/><circle cx="481.7" cy="370.5" r="2.45" fill="#000" stroke="#111" stroke-width="1.1"/><path d="M313.7 320.628L313.7 360.6456" stroke="#111" stroke-width="1.0" fill="none"/><path d="M311.09999999999997 320.628L316.3 320.628" stroke="#111" stroke-width="1.0" fill="none"/><path d="M311.09999999999997 360.6456L316.3 360.6456" stroke="#111" stroke-width="1.0" fill="none"/><circle cx="313.7" cy="340.6" r="2.45" fill="#fff" stroke="#111" stroke-width="1.1"/><path d="M325.7 380.3368L325.7 410.1912" stroke="#111" stroke-width="1.0" fill="none"/><path d="M323.09999999999997 380.3368L328.3 380.3368" stroke="#111" stroke-width="1.0" fill="none"/><path d="M323.09999999999997 410.1912L328.3 410.1912" stroke="#111" stroke-width="1.0" fill="none"/><circle cx="325.7" cy="395.3" r="2.45" fill="#fff" stroke="#111" stroke-width="1.1"/><path d="M337.7 358.10479999999995L337.7 399.39279999999997" stroke="#111" stroke-width="1.0" fill="none"/><path d="M335.09999999999997 358.10479999999995L340.3 358.10479999999995" stroke="#111" stroke-width="1.0" fill="none"/><path d="M335.09999999999997 399.39279999999997L340.3 399.39279999999997" stroke="#111" stroke-width="1.0" fill="none"/><circle cx="337.7" cy="378.7" r="2.45" fill="#fff" stroke="#111" stroke-width="1.1"/><path d="M361.7 358.74L361.7 379.384" stroke="#111" stroke-width="1.0" fill="none"/><path d="M359.09999999999997 358.74L364.3 358.74" stroke="#111" stroke-width="1.0" fill="none"/><path d="M359.09999999999997 379.384L364.3 379.384" stroke="#111" stroke-width="1.0" fill="none"/><circle cx="361.7" cy="368.9" r="2.45" fill="#fff" stroke="#111" stroke-width="1.1"/><path d="M385.7 357.7872L385.7 387.0064" stroke="#111" stroke-width="1.0" fill="none"/><path d="M383.09999999999997 357.7872L388.3 357.7872" stroke="#111" stroke-width="1.0" fill="none"/><path d="M383.09999999999997 387.0064L388.3 387.0064" stroke="#111" stroke-width="1.0" fill="none"/><circle cx="385.7" cy="372.4" r="2.45" fill="#fff" stroke="#111" stroke-width="1.1"/><path d="M409.7 359.37519999999995L409.7 370.8088" stroke="#111" stroke-width="1.0" fill="none"/><path d="M407.09999999999997 359.37519999999995L412.3 359.37519999999995" stroke="#111" stroke-width="1.0" fill="none"/><path d="M407.09999999999997 370.8088L412.3 370.8088" stroke="#111" stroke-width="1.0" fill="none"/><circle cx="409.7" cy="365.1" r="2.45" fill="#fff" stroke="#111" stroke-width="1.1"/><path d="M481.7 327.61519999999996L481.7 354.6112" stroke="#111" stroke-width="1.0" fill="none"/><path d="M479.09999999999997 327.61519999999996L484.3 327.61519999999996" stroke="#111" stroke-width="1.0" fill="none"/><path d="M479.09999999999997 354.6112L484.3 354.6112" stroke="#111" stroke-width="1.0" fill="none"/><circle cx="481.7" cy="341.0" r="2.45" fill="#fff" stroke="#111" stroke-width="1.1"/>
<text x="269.0" y="299.4" font-size="24.2" text-anchor="start" >D</text>
<text transform="translate(280.9 367.5) rotate(-90)" font-size="15.8" text-anchor="middle" >Percentage</text>
<text x="402.3" y="466.6" font-size="15.45" text-anchor="middle" >Days after treatment</text>
<text x="484.7" y="322.4" font-size="12.4" text-anchor="middle" >B1</text>
<text x="484.7" y="396.4" font-size="12.4" text-anchor="middle" >B2</text>
</svg>
</body></html>
